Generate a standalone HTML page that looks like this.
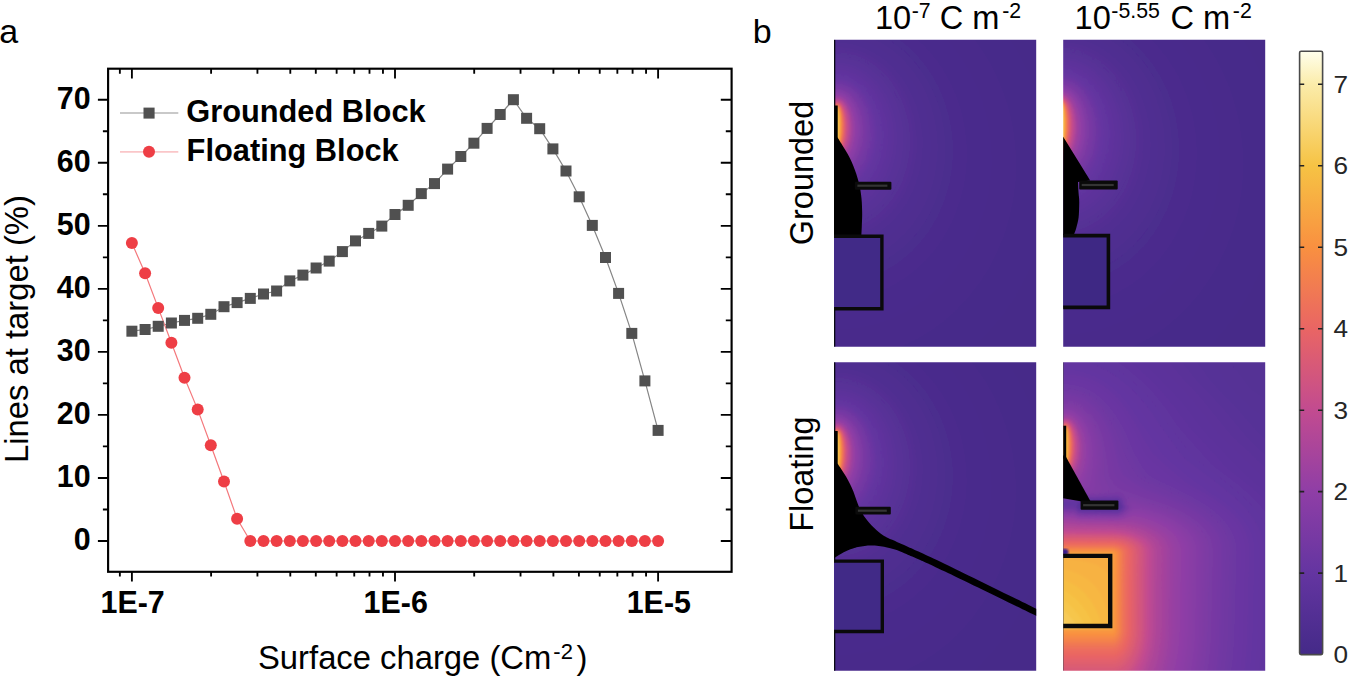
<!DOCTYPE html>
<html><head><meta charset="utf-8"><title>figure</title>
<style>
html,body{margin:0;padding:0;background:#fff;}
body{width:1350px;height:685px;overflow:hidden;}
svg{display:block;font-family:"Liberation Sans",sans-serif;}
</style></head><body>
<svg width="1350" height="685" viewBox="0 0 1350 685">
<rect width="1350" height="685" fill="#fff"/>
<g id="chart">
<path d="M97.9 541.00H108.1M731.6 541.00H720.8M97.9 477.96H108.1M731.6 477.96H720.8M97.9 414.92H108.1M731.6 414.92H720.8M97.9 351.88H108.1M731.6 351.88H720.8M97.9 288.84H108.1M731.6 288.84H720.8M97.9 225.80H108.1M731.6 225.80H720.8M97.9 162.76H108.1M731.6 162.76H720.8M97.9 99.72H108.1M731.6 99.72H720.8M102.9 509.48H108.1M731.6 509.48H725.8M102.9 446.44H108.1M731.6 446.44H725.8M102.9 383.40H108.1M731.6 383.40H725.8M102.9 320.36H108.1M731.6 320.36H725.8M102.9 257.32H108.1M731.6 257.32H725.8M102.9 194.28H108.1M731.6 194.28H725.8M102.9 131.24H108.1M731.6 131.24H725.8M131.90 68.7V78.5M131.90 571.8V581.5M395.00 68.7V78.5M395.00 571.8V581.5M658.10 68.7V78.5M658.10 571.8V581.5M119.86 68.7V73.7M119.86 571.8V576.4M211.10 68.7V73.7M211.10 571.8V576.4M257.43 68.7V73.7M257.43 571.8V576.4M290.30 68.7V73.7M290.30 571.8V576.4M315.80 68.7V73.7M315.80 571.8V576.4M336.63 68.7V73.7M336.63 571.8V576.4M354.25 68.7V73.7M354.25 571.8V576.4M369.50 68.7V73.7M369.50 571.8V576.4M382.96 68.7V73.7M382.96 571.8V576.4M474.20 68.7V73.7M474.20 571.8V576.4M520.53 68.7V73.7M520.53 571.8V576.4M553.40 68.7V73.7M553.40 571.8V576.4M578.90 68.7V73.7M578.90 571.8V576.4M599.73 68.7V73.7M599.73 571.8V576.4M617.35 68.7V73.7M617.35 571.8V576.4M632.60 68.7V73.7M632.60 571.8V576.4M646.06 68.7V73.7M646.06 571.8V576.4" stroke="#000" stroke-width="1.85" fill="none"/>
<rect x="108.1" y="68.7" width="623.5" height="503.1" fill="none" stroke="#000" stroke-width="2.15"/>
<polyline points="131.9,331.2 145.1,329.5 158.2,326.3 171.4,323.0 184.5,320.4 197.7,318.3 210.8,314.3 224.0,306.7 237.1,302.6 250.3,298.4 263.5,294.0 276.6,291.0 289.8,280.9 302.9,275.1 316.1,268.0 329.2,261.1 342.4,251.6 355.5,240.9 368.7,233.4 381.8,226.1 395.0,214.5 408.2,205.3 421.3,193.6 434.5,183.6 447.6,169.1 460.8,156.5 473.9,143.2 487.1,128.4 500.2,114.5 513.4,99.7 526.6,118.3 539.7,128.7 552.9,148.9 566.0,171.0 579.2,196.8 592.3,225.4 605.5,257.5 618.6,293.4 631.8,333.4 644.9,380.9 658.1,430.4" fill="none" stroke="#858585" stroke-width="1.2"/>
<polyline points="131.9,243.1 145.1,273.3 158.2,307.9 171.4,342.7 184.5,377.7 197.7,409.6 210.8,445.2 224.0,481.5 237.1,518.8 250.3,541.0 263.5,541.0 276.6,541.0 289.8,541.0 302.9,541.0 316.1,541.0 329.2,541.0 342.4,541.0 355.5,541.0 368.7,541.0 381.8,541.0 395.0,541.0 408.2,541.0 421.3,541.0 434.5,541.0 447.6,541.0 460.8,541.0 473.9,541.0 487.1,541.0 500.2,541.0 513.4,541.0 526.6,541.0 539.7,541.0 552.9,541.0 566.0,541.0 579.2,541.0 592.3,541.0 605.5,541.0 618.6,541.0 631.8,541.0 644.9,541.0 658.1,541.0" fill="none" stroke="#f4787c" stroke-width="1.2"/>
<g fill="#505050"><rect x="126.4" y="325.7" width="11.0" height="11.0"/><rect x="139.6" y="324.0" width="11.0" height="11.0"/><rect x="152.7" y="320.8" width="11.0" height="11.0"/><rect x="165.9" y="317.5" width="11.0" height="11.0"/><rect x="179.0" y="314.9" width="11.0" height="11.0"/><rect x="192.2" y="312.8" width="11.0" height="11.0"/><rect x="205.3" y="308.8" width="11.0" height="11.0"/><rect x="218.5" y="301.2" width="11.0" height="11.0"/><rect x="231.6" y="297.1" width="11.0" height="11.0"/><rect x="244.8" y="292.9" width="11.0" height="11.0"/><rect x="258.0" y="288.5" width="11.0" height="11.0"/><rect x="271.1" y="285.5" width="11.0" height="11.0"/><rect x="284.3" y="275.4" width="11.0" height="11.0"/><rect x="297.4" y="269.6" width="11.0" height="11.0"/><rect x="310.6" y="262.5" width="11.0" height="11.0"/><rect x="323.7" y="255.6" width="11.0" height="11.0"/><rect x="336.9" y="246.1" width="11.0" height="11.0"/><rect x="350.0" y="235.4" width="11.0" height="11.0"/><rect x="363.2" y="227.9" width="11.0" height="11.0"/><rect x="376.3" y="220.6" width="11.0" height="11.0"/><rect x="389.5" y="209.0" width="11.0" height="11.0"/><rect x="402.7" y="199.8" width="11.0" height="11.0"/><rect x="415.8" y="188.1" width="11.0" height="11.0"/><rect x="429.0" y="178.1" width="11.0" height="11.0"/><rect x="442.1" y="163.6" width="11.0" height="11.0"/><rect x="455.3" y="151.0" width="11.0" height="11.0"/><rect x="468.4" y="137.7" width="11.0" height="11.0"/><rect x="481.6" y="122.9" width="11.0" height="11.0"/><rect x="494.7" y="109.0" width="11.0" height="11.0"/><rect x="507.9" y="94.2" width="11.0" height="11.0"/><rect x="521.1" y="112.8" width="11.0" height="11.0"/><rect x="534.2" y="123.2" width="11.0" height="11.0"/><rect x="547.4" y="143.4" width="11.0" height="11.0"/><rect x="560.5" y="165.5" width="11.0" height="11.0"/><rect x="573.7" y="191.3" width="11.0" height="11.0"/><rect x="586.8" y="219.9" width="11.0" height="11.0"/><rect x="600.0" y="252.0" width="11.0" height="11.0"/><rect x="613.1" y="287.9" width="11.0" height="11.0"/><rect x="626.3" y="327.9" width="11.0" height="11.0"/><rect x="639.4" y="375.4" width="11.0" height="11.0"/><rect x="652.6" y="424.9" width="11.0" height="11.0"/></g>
<g fill="#ee3e45"><circle cx="131.9" cy="243.1" r="6"/><circle cx="145.1" cy="273.3" r="6"/><circle cx="158.2" cy="307.9" r="6"/><circle cx="171.4" cy="342.7" r="6"/><circle cx="184.5" cy="377.7" r="6"/><circle cx="197.7" cy="409.6" r="6"/><circle cx="210.8" cy="445.2" r="6"/><circle cx="224.0" cy="481.5" r="6"/><circle cx="237.1" cy="518.8" r="6"/><circle cx="250.3" cy="541.0" r="6"/><circle cx="263.5" cy="541.0" r="6"/><circle cx="276.6" cy="541.0" r="6"/><circle cx="289.8" cy="541.0" r="6"/><circle cx="302.9" cy="541.0" r="6"/><circle cx="316.1" cy="541.0" r="6"/><circle cx="329.2" cy="541.0" r="6"/><circle cx="342.4" cy="541.0" r="6"/><circle cx="355.5" cy="541.0" r="6"/><circle cx="368.7" cy="541.0" r="6"/><circle cx="381.8" cy="541.0" r="6"/><circle cx="395.0" cy="541.0" r="6"/><circle cx="408.2" cy="541.0" r="6"/><circle cx="421.3" cy="541.0" r="6"/><circle cx="434.5" cy="541.0" r="6"/><circle cx="447.6" cy="541.0" r="6"/><circle cx="460.8" cy="541.0" r="6"/><circle cx="473.9" cy="541.0" r="6"/><circle cx="487.1" cy="541.0" r="6"/><circle cx="500.2" cy="541.0" r="6"/><circle cx="513.4" cy="541.0" r="6"/><circle cx="526.6" cy="541.0" r="6"/><circle cx="539.7" cy="541.0" r="6"/><circle cx="552.9" cy="541.0" r="6"/><circle cx="566.0" cy="541.0" r="6"/><circle cx="579.2" cy="541.0" r="6"/><circle cx="592.3" cy="541.0" r="6"/><circle cx="605.5" cy="541.0" r="6"/><circle cx="618.6" cy="541.0" r="6"/><circle cx="631.8" cy="541.0" r="6"/><circle cx="644.9" cy="541.0" r="6"/><circle cx="658.1" cy="541.0" r="6"/></g>
<path d="M120 113H178.3" stroke="#c9c9c9" stroke-width="1.9"/>
<rect x="143.5" y="107.6" width="11.1" height="11" fill="#505050"/>
<path d="M120 151.9H178.3" stroke="#fac6c8" stroke-width="1.9"/>
<circle cx="149.0" cy="151.7" r="6" fill="#ee3e45"/>
<text transform="translate(186.20 122.20) scale(1.0 1.025)" font-size="30.8" font-weight="bold">Grounded Block</text>
<text transform="translate(186.60 160.60) scale(1.0 1.025)" font-size="30.8" font-weight="bold">Floating Block</text>
<text transform="translate(90.60 550.00) scale(1.0 1.04)" font-size="30.4" text-anchor="end" font-weight="bold">0</text>
<text transform="translate(90.60 486.96) scale(1.0 1.04)" font-size="30.4" text-anchor="end" font-weight="bold">10</text>
<text transform="translate(90.60 423.92) scale(1.0 1.04)" font-size="30.4" text-anchor="end" font-weight="bold">20</text>
<text transform="translate(90.60 360.88) scale(1.0 1.04)" font-size="30.4" text-anchor="end" font-weight="bold">30</text>
<text transform="translate(90.60 297.84) scale(1.0 1.04)" font-size="30.4" text-anchor="end" font-weight="bold">40</text>
<text transform="translate(90.60 234.80) scale(1.0 1.04)" font-size="30.4" text-anchor="end" font-weight="bold">50</text>
<text transform="translate(90.60 171.76) scale(1.0 1.04)" font-size="30.4" text-anchor="end" font-weight="bold">60</text>
<text transform="translate(90.60 108.72) scale(1.0 1.04)" font-size="30.4" text-anchor="end" font-weight="bold">70</text>
<text transform="translate(132.60 613.00) scale(1.0 1.04)" font-size="30.4" text-anchor="middle" font-weight="bold">1E-7</text>
<text transform="translate(395.70 613.00) scale(1.0 1.04)" font-size="30.4" text-anchor="middle" font-weight="bold">1E-6</text>
<text transform="translate(658.80 613.00) scale(1.0 1.04)" font-size="30.4" text-anchor="middle" font-weight="bold">1E-5</text>
<text transform="translate(28.40 329.00) rotate(-90) scale(1.0 1.015)" font-size="32.8" text-anchor="middle">Lines at target (%)</text>
<text transform="translate(258.00 668.90) scale(1.0 1.015)" font-size="32.8">Surface charge (Cm<tspan font-size="22" dy="-9.7" dx="2">-2</tspan><tspan dy="9.7" dx="3.6">)</tspan></text>
<text transform="translate(-0.80 43.20)" font-size="34">a</text>
</g>
<text transform="translate(752.80 43.20)" font-size="34">b</text>
<text transform="translate(813.20 173.00) rotate(-90) scale(1.0 1.02)" font-size="32.5" text-anchor="middle">Grounded</text>
<text transform="translate(812.60 474.20) rotate(-90) scale(1.0 1.02)" font-size="32.4" text-anchor="middle">Floating</text>
<text transform="translate(875.00 28.60) scale(1.0 1.03)" font-size="32.6">10<tspan font-size="21.3" dy="-10" dx="0.5">-7</tspan><tspan dy="10"> C m</tspan><tspan font-size="21.3" dy="-10" dx="2.8">-2</tspan></text>
<text transform="translate(1074.60 28.60) scale(1.0 1.03)" font-size="32.6">10<tspan font-size="21.3" dy="-10" dx="0.5">-5.55</tspan><tspan dy="10" dx="1.5"> C m</tspan><tspan font-size="21.3" dy="-10" dx="2.7">-2</tspan></text>
<defs><linearGradient id="cb" x1="0" y1="1" x2="0" y2="0"><stop offset="0.0000" stop-color="#442a88"/><stop offset="0.1351" stop-color="#6435a1"/><stop offset="0.2701" stop-color="#8f3ea6"/><stop offset="0.4052" stop-color="#c24b90"/><stop offset="0.5402" stop-color="#e96564"/><stop offset="0.6753" stop-color="#f99040"/><stop offset="0.8103" stop-color="#f6c344"/><stop offset="0.9454" stop-color="#fbecaa"/><stop offset="1.0000" stop-color="#ffffec"/></linearGradient></defs>
<rect x="1299.6" y="51.3" width="23.0" height="603.3" rx="1.5" fill="url(#cb)" stroke="#4a4a4a" stroke-width="1.6"/>
<path d="M1299.6 573.1h4.6M1322.6 573.1h-4.6M1299.6 491.6h4.6M1322.6 491.6h-4.6M1299.6 410.2h4.6M1322.6 410.2h-4.6M1299.6 328.7h4.6M1322.6 328.7h-4.6M1299.6 247.2h4.6M1322.6 247.2h-4.6M1299.6 165.7h4.6M1322.6 165.7h-4.6M1299.6 84.2h4.6M1322.6 84.2h-4.6" stroke="#222" stroke-width="1.6"/>
<text transform="translate(1333.60 663.20) scale(1.09 1.0)" font-size="24" fill="#262626">0</text>
<text transform="translate(1333.60 581.72) scale(1.09 1.0)" font-size="24" fill="#262626">1</text>
<text transform="translate(1333.60 500.24) scale(1.09 1.0)" font-size="24" fill="#262626">2</text>
<text transform="translate(1333.60 418.76) scale(1.09 1.0)" font-size="24" fill="#262626">3</text>
<text transform="translate(1333.60 337.28) scale(1.09 1.0)" font-size="24" fill="#262626">4</text>
<text transform="translate(1333.60 255.80) scale(1.09 1.0)" font-size="24" fill="#262626">5</text>
<text transform="translate(1333.60 174.32) scale(1.09 1.0)" font-size="24" fill="#262626">6</text>
<text transform="translate(1333.60 92.84) scale(1.09 1.0)" font-size="24" fill="#262626">7</text>
<defs>
<clipPath id="cp1"><rect x="834.0" y="39.7" width="202.2" height="307.0"/></clipPath>
<clipPath id="cp2"><rect x="1063.2" y="39.7" width="202.0" height="307.0"/></clipPath>
<clipPath id="cp3"><rect x="834.0" y="362.3" width="202.2" height="308.5"/></clipPath>
<clipPath id="cp4"><rect x="1063.2" y="362.3" width="202.0" height="308.5"/></clipPath>
<filter id="sm" x="-5%" y="-5%" width="110%" height="110%"><feGaussianBlur stdDeviation="0.9"/></filter>
</defs>
<g clip-path="url(#cp1)">
<g filter="url(#sm)"><rect x="828.0" y="33.7" width="214.2" height="319.0" fill="#462b89"/>
<path fill="#472b8a" d="M828.0 33.7L1006.7 33.7L1013.7 44.2L1019.9 54.7L1025.4 65.2L1030.3 75.7L1037.2 93.7L1042.5 111.6L1042.5 232.3L1037.4 249.7L1030.5 267.7L1022.6 284.2L1014.1 299.2L1003.9 314.2L993.0 327.8L980.3 341.2L967.0 353.2L828.0 353.2Z"/>
<path fill="#482b8b" d="M828.0 33.7L970.3 33.7L978.5 44.2L985.5 54.7L991.6 65.2L997.6 77.2L1002.7 89.2L1007.4 102.7L1010.7 114.7L1013.5 128.2L1015.8 146.2L1016.6 164.2L1015.9 182.2L1013.6 200.2L1009.7 218.2L1004.7 234.7L998.0 251.2L989.6 267.7L980.1 282.7L969.0 297.1L957.0 310.0L943.8 321.7L930.0 331.7L915.0 340.6L900.0 347.5L883.7 353.2L828.0 353.2Z"/>
<path fill="#4a2c8c" d="M828.0 33.7L942.1 33.7L952.5 45.3L961.7 57.7L969.8 71.2L976.5 84.7L982.3 99.7L986.7 114.7L989.9 131.2L991.7 147.7L991.9 164.2L990.8 180.7L988.1 197.2L983.9 213.7L978.0 230.2L970.9 245.2L963.0 258.7L953.2 272.2L942.6 284.2L931.3 294.7L925.5 299.4L918.0 304.8L904.5 312.9L891.0 319.2L876.0 324.4L861.0 327.8L846.0 329.6L837.0 329.8L828.0 329.5Z"/>
<path fill="#4b2c8d" d="M828.0 33.7L911.3 33.7L912.0 34.2L923.3 44.2L929.0 50.2L934.1 56.2L942.7 68.2L950.4 81.7L957.0 96.7L961.9 111.7L965.1 126.7L967.0 143.2L967.3 158.2L966.4 171.7L964.0 186.7L960.6 200.2L955.9 213.7L950.5 225.7L943.5 238.1L935.4 249.7L926.3 260.2L916.5 269.6L906.0 277.8L894.0 285.2L882.0 290.9L870.0 295.1L858.0 297.9L844.5 299.6L835.5 299.8L828.0 299.4Z"/>
<path fill="#4c2d8e" d="M828.0 33.7L891.1 33.7L900.0 39.6L907.5 45.5L917.0 54.7L925.5 64.8L932.9 75.7L939.4 87.7L944.4 99.7L948.6 113.2L951.5 126.7L953.2 141.7L953.4 155.2L952.3 168.7L950.1 182.2L946.9 194.2L942.7 206.2L937.5 217.4L931.0 228.7L924.0 238.5L916.5 247.3L907.5 255.9L898.1 263.2L888.0 269.5L877.5 274.6L865.5 278.8L855.0 281.2L843.0 282.6L835.5 282.8L828.0 282.4Z"/>
<path fill="#4d2d8f" d="M828.0 33.7L878.0 33.7L885.0 37.3L891.4 41.2L897.7 45.7L904.5 51.3L913.5 60.5L920.9 69.7L927.7 80.2L933.1 90.7L938.0 102.7L941.6 114.7L944.0 126.7L945.5 140.2L945.7 153.7L944.8 165.7L942.9 177.7L939.8 189.7L935.6 201.7L930.8 212.2L924.7 222.7L918.4 231.7L910.7 240.7L903.0 248.0L894.0 255.1L885.0 260.8L874.5 265.9L864.0 269.6L853.5 272.1L843.0 273.3L835.5 273.5L828.0 273.0Z"/>
<path fill="#4f2e90" d="M828.0 33.7L860.6 33.7L864.0 34.7L874.5 38.8L883.5 43.5L892.5 49.6L901.5 57.3L909.0 65.2L915.9 74.2L921.6 83.2L926.9 93.7L931.0 104.2L934.5 116.2L936.6 126.7L937.9 138.7L938.1 150.7L937.5 161.2L935.7 173.2L933.0 184.3L929.7 194.2L925.2 204.7L919.5 215.1L913.3 224.2L906.0 232.9L898.5 240.2L890.3 246.7L882.0 252.1L873.0 256.6L862.5 260.5L853.5 262.7L843.0 264.0L835.5 264.2L828.0 263.7Z"/>
<path fill="#502e91" d="M830.9 36.7L840.0 36.5L849.0 37.3L858.0 39.2L867.0 42.2L876.0 46.3L883.5 50.8L891.0 56.4L898.9 63.7L905.5 71.2L911.9 80.2L917.1 89.2L921.3 98.2L925.1 108.7L927.8 119.2L929.6 129.7L930.5 140.2L930.5 150.7L929.6 161.2L927.9 171.7L925.2 182.2L921.5 192.7L917.3 201.7L912.2 210.7L906.0 219.5L899.3 227.2L892.5 233.7L885.0 239.5L876.0 245.0L868.5 248.6L859.5 251.7L850.5 253.8L841.5 254.8L834.0 254.8L828.0 254.4L828.0 37.0Z"/>
<path fill="#512f92" d="M830.6 42.7L838.5 42.4L847.5 43.1L856.5 45.0L864.0 47.5L871.5 50.9L879.0 55.3L886.3 60.7L892.9 66.7L899.5 74.2L904.9 81.7L909.4 89.2L913.7 98.2L917.1 107.2L920.0 117.7L921.7 126.7L922.8 137.2L922.9 147.7L922.3 156.7L920.7 167.2L918.5 176.2L915.6 185.2L911.7 194.2L906.9 203.2L901.5 211.2L895.8 218.2L889.5 224.5L882.0 230.6L874.5 235.5L867.0 239.3L858.0 242.6L850.5 244.4L841.5 245.5L834.0 245.5L828.0 245.0L828.0 43.0Z"/>
<path fill="#532f93" d="M833.0 47.2L841.5 47.2L850.5 48.4L856.5 49.9L864.0 52.6L871.5 56.4L878.3 60.7L885.0 66.1L891.0 72.1L896.5 78.7L901.6 86.2L905.7 93.7L909.1 101.2L912.2 110.2L914.5 119.2L916.0 128.2L916.9 138.7L916.8 149.2L915.9 158.2L914.3 167.2L911.9 176.2L908.6 185.2L905.2 192.7L900.9 200.2L895.7 207.7L889.5 214.9L883.5 220.5L876.8 225.7L870.0 229.8L862.5 233.4L855.0 235.9L847.5 237.5L840.0 238.2L834.0 238.2L828.0 237.7L828.0 47.7Z"/>
<path fill="#542f94" d="M828.6 50.2L837.0 49.6L844.5 50.0L852.0 51.4L859.5 53.6L867.0 56.9L873.5 60.7L880.5 65.8L886.4 71.2L891.7 77.2L897.2 84.7L901.6 92.2L905.2 99.7L908.1 107.2L910.7 116.2L912.4 125.2L913.4 134.2L913.7 143.2L913.2 152.2L912.0 161.2L910.0 170.2L907.2 179.2L904.1 186.7L900.3 194.2L895.5 201.7L890.9 207.7L885.0 214.1L878.5 219.7L871.5 224.5L864.0 228.5L856.5 231.3L849.0 233.2L841.5 234.2L834.0 234.2L828.0 233.6L828.0 50.3Z"/>
<path fill="#553095" d="M828.0 53.2L828.0 52.9L834.0 52.3L841.5 52.3L849.0 53.3L856.5 55.3L864.0 58.3L870.0 61.6L876.0 65.7L882.4 71.2L888.0 77.1L892.7 83.2L897.5 90.7L901.3 98.2L904.3 105.7L907.1 114.7L909.0 123.7L910.1 132.7L910.4 141.7L910.0 150.7L908.8 159.7L907.2 167.2L904.5 176.2L901.6 183.7L897.8 191.2L893.1 198.7L888.0 205.4L882.0 211.7L876.0 216.8L870.0 220.9L863.9 224.2L856.5 227.2L849.0 229.1L841.5 230.2L834.0 230.2L828.0 229.6Z"/>
<path fill="#563096" d="M828.0 56.2L828.0 55.5L831.0 55.1L840.0 54.8L847.5 55.7L855.0 57.5L862.5 60.5L868.5 63.8L874.8 68.2L880.5 73.1L885.7 78.7L890.3 84.7L895.0 92.2L898.7 99.7L901.7 107.2L904.3 116.2L905.8 123.7L906.9 132.7L907.1 141.7L906.8 149.2L905.6 158.2L904.1 165.7L901.5 174.3L898.5 181.8L894.5 189.7L890.8 195.7L886.2 201.7L880.5 207.9L874.5 213.1L868.5 217.2L862.5 220.5L855.0 223.5L849.0 225.1L841.5 226.2L834.0 226.2L828.0 225.6Z"/>
<path fill="#583197" d="M830.5 57.7L837.0 57.3L843.0 57.6L850.5 58.9L856.5 60.8L862.5 63.4L868.5 66.9L874.5 71.4L880.5 77.0L885.7 83.2L889.9 89.2L893.3 95.2L896.8 102.7L899.4 110.2L901.4 117.7L902.8 125.2L903.7 134.2L903.8 143.2L903.3 150.7L901.9 159.7L900.1 167.2L897.6 174.7L894.4 182.2L891.0 188.5L886.5 195.4L882.0 200.9L876.8 206.2L871.5 210.6L865.5 214.5L859.5 217.6L853.5 219.8L847.5 221.3L840.0 222.3L834.0 222.2L828.0 221.5L828.0 58.1Z"/>
<path fill="#593198" d="M828.0 60.7L834.0 59.9L841.5 60.0L847.5 60.9L853.5 62.5L859.5 64.9L865.5 68.2L871.5 72.4L876.0 76.4L880.9 81.7L885.5 87.7L889.2 93.7L892.9 101.2L895.8 108.7L897.9 116.2L899.4 123.7L900.3 131.2L900.6 140.2L900.2 147.7L899.3 155.2L897.7 162.7L895.5 170.2L892.6 177.7L889.6 183.7L886.0 189.7L881.6 195.7L876.1 201.7L870.9 206.2L865.5 210.0L859.5 213.3L853.5 215.7L847.5 217.3L841.5 218.2L834.0 218.2L828.0 217.5Z"/>
<path fill="#5a3299" d="M828.0 63.7L828.0 63.3L831.0 62.8L838.5 62.4L844.5 62.9L850.5 64.3L856.5 66.4L862.5 69.4L867.5 72.7L873.0 77.3L877.5 82.0L882.0 87.7L885.8 93.7L889.0 99.7L892.0 107.2L894.3 114.7L896.0 122.2L896.9 129.7L897.3 137.2L897.1 144.7L896.3 152.2L894.9 159.7L892.8 167.2L890.6 173.2L887.1 180.7L883.6 186.7L879.2 192.7L874.5 198.0L870.0 202.0L864.3 206.2L859.5 208.9L853.5 211.5L847.5 213.2L841.5 214.1L834.0 214.2L828.0 213.4Z"/>
<path fill="#5c329a" d="M832.3 65.2L838.5 64.9L844.5 65.5L849.6 66.7L855.0 68.6L860.3 71.2L865.5 74.6L870.0 78.3L874.5 82.8L878.5 87.7L882.5 93.7L885.7 99.7L888.3 105.7L890.3 111.7L892.2 119.2L893.2 125.2L893.9 132.7L894.0 140.2L893.5 147.7L892.4 155.2L891.0 161.2L888.6 168.7L886.1 174.7L883.0 180.7L879.2 186.7L875.6 191.2L871.4 195.7L866.2 200.2L861.0 203.7L856.1 206.2L850.5 208.3L846.0 209.5L840.0 210.3L834.0 210.2L828.0 209.4L828.0 65.9Z"/>
<path fill="#5d339b" d="M829.0 68.2L834.0 67.4L838.5 67.3L843.0 67.7L849.0 69.0L853.5 70.6L859.5 73.6L864.0 76.6L869.8 81.7L875.2 87.7L878.4 92.2L881.1 96.7L884.0 102.7L886.9 110.2L888.6 116.2L890.5 128.2L890.9 137.2L890.6 144.7L890.2 149.2L888.8 156.7L887.2 162.7L884.4 170.2L882.4 174.7L878.1 182.2L873.6 188.2L870.0 192.1L865.5 196.1L861.0 199.4L856.5 201.9L852.0 203.9L846.0 205.6L840.0 206.5L834.0 206.4L828.0 205.6L828.0 68.4Z"/>
<path fill="#5e339c" d="M830.5 69.7L835.5 69.2L840.0 69.2L846.0 70.1L850.5 71.4L855.0 73.3L859.5 75.8L864.0 79.0L868.7 83.2L872.7 87.7L876.0 92.2L879.6 98.2L882.4 104.2L884.6 110.2L886.3 116.2L887.5 122.2L888.4 129.7L888.7 135.7L888.4 143.2L887.5 150.7L886.3 156.7L884.6 162.7L882.0 169.6L879.0 175.7L876.0 180.7L872.7 185.2L868.5 189.9L864.0 193.9L859.5 197.1L855.0 199.6L850.5 201.5L846.0 202.8L840.0 203.7L834.0 203.7L828.0 202.7L828.0 70.2Z"/>
<path fill="#5f339d" d="M832.3 71.2L837.0 70.9L842.1 71.2L847.5 72.3L852.0 73.9L856.5 76.1L861.0 79.0L865.5 82.7L868.9 86.2L872.6 90.7L875.6 95.2L878.1 99.7L880.8 105.7L882.9 111.7L884.5 117.7L885.6 123.7L886.3 131.2L886.4 138.7L886.0 144.7L885.2 150.7L883.9 156.7L882.1 162.7L879.8 168.7L876.8 174.7L874.0 179.2L870.7 183.7L866.6 188.2L862.5 191.8L858.0 195.0L853.5 197.4L849.0 199.2L844.5 200.3L838.5 201.0L832.5 200.8L828.0 199.9L828.0 72.0Z"/>
<path fill="#61349e" d="M835.0 72.7L840.0 72.7L844.5 73.4L849.0 74.6L853.5 76.5L858.0 79.1L861.5 81.7L865.5 85.3L869.0 89.2L872.3 93.7L875.0 98.2L877.3 102.7L879.7 108.7L881.6 114.7L882.9 120.7L884.2 132.7L883.7 144.7L882.8 150.7L881.4 156.7L879.6 162.7L877.1 168.7L874.5 173.7L871.5 178.4L868.5 182.3L864.4 186.7L860.9 189.7L856.5 192.8L852.0 195.1L847.5 196.8L843.0 197.8L838.5 198.3L832.5 198.0L828.0 197.1L828.0 73.8Z"/>
<path fill="#62349f" d="M828.0 75.7L832.5 74.7L837.0 74.4L841.5 74.7L846.0 75.6L850.5 77.1L855.0 79.4L858.5 81.7L862.5 85.0L866.5 89.2L870.0 93.7L875.1 102.7L877.5 108.7L879.4 114.7L880.7 120.7L881.5 126.7L881.9 132.7L881.9 138.7L881.4 144.7L880.4 150.7L879.0 156.7L877.0 162.7L874.5 168.5L871.9 173.2L868.9 177.7L865.5 181.9L862.2 185.2L858.0 188.6L853.5 191.4L849.0 193.4L844.5 194.8L840.0 195.5L834.0 195.4L828.0 194.3Z"/>
<path fill="#6335a0" d="M829.1 77.2L832.5 76.5L837.0 76.1L841.5 76.4L846.0 77.4L850.5 79.0L855.0 81.5L859.4 84.7L862.5 87.6L865.5 90.9L868.6 95.2L873.5 104.2L877.2 114.7L878.5 120.7L879.3 126.7L879.7 132.7L879.6 138.7L879.1 144.7L878.0 150.7L875.0 161.2L872.4 167.2L870.0 171.6L867.0 176.1L864.0 179.8L860.0 183.7L856.5 186.5L853.5 188.4L849.0 190.6L844.5 192.0L840.0 192.7L834.0 192.7L828.0 191.5L828.0 77.5Z"/>
<path fill="#6535a1" d="M830.3 78.7L834.0 77.8L838.5 77.7L846.0 79.0L850.5 80.8L853.5 82.5L861.0 88.6L866.5 95.2L869.3 99.7L872.1 105.7L873.9 110.2L875.6 116.2L877.3 126.7L877.5 134.2L877.3 141.7L875.5 152.2L872.6 161.2L868.1 170.2L865.1 174.7L862.5 177.7L858.0 182.1L855.0 184.5L852.0 186.4L846.0 188.9L838.5 190.1L831.0 189.6L828.0 188.7L828.0 79.1Z"/>
<path fill="#6635a1" d="M828.4 80.2L832.5 79.2L837.0 78.8L840.0 78.9L844.5 79.7L849.0 81.3L852.0 82.8L856.5 85.9L859.5 88.6L865.1 95.2L867.9 99.7L870.2 104.2L873.5 113.2L874.9 119.2L875.8 125.2L876.3 135.7L875.9 141.7L875.0 147.7L872.2 158.2L868.2 167.2L865.4 171.7L862.5 175.6L859.1 179.2L855.6 182.2L852.0 184.6L847.5 186.7L844.5 187.7L840.0 188.5L834.0 188.5L828.0 187.1L828.0 80.3Z"/>
<path fill="#6836a1" d="M831.6 80.2L835.5 79.7L838.5 79.6L842.8 80.2L846.0 81.1L850.5 83.0L853.5 84.8L857.3 87.7L860.3 90.7L862.9 93.7L866.0 98.2L870.4 107.2L873.6 117.7L875.1 128.2L875.1 138.7L873.6 149.2L870.4 159.7L866.0 168.7L862.9 173.2L860.4 176.2L857.4 179.2L853.5 182.2L850.5 184.0L846.0 185.9L843.0 186.8L838.5 187.4L832.5 187.0L828.0 185.8L828.0 81.2Z"/>
<path fill="#6a36a2" d="M829.1 81.7L832.5 80.8L837.0 80.4L841.5 80.8L844.5 81.5L847.5 82.5L851.8 84.7L858.0 89.6L861.0 92.8L863.9 96.7L866.6 101.2L868.8 105.7L871.8 114.7L873.8 125.2L874.2 135.7L873.1 146.2L870.4 156.7L866.4 165.7L863.7 170.2L861.0 173.7L858.0 177.0L855.0 179.6L851.2 182.2L847.5 184.0L844.1 185.2L840.0 186.0L834.0 185.9L828.0 184.5L828.0 82.1Z"/>
<path fill="#6c37a2" d="M832.4 81.7L838.5 81.3L842.0 81.7L846.0 82.8L849.0 84.1L852.6 86.2L856.4 89.2L859.3 92.2L861.8 95.2L864.7 99.7L869.0 108.7L871.6 117.7L873.0 128.2L873.0 138.7L871.4 149.2L868.5 158.6L864.2 167.2L861.2 171.7L858.6 174.7L855.4 177.7L852.0 180.3L846.0 183.3L843.0 184.2L838.5 184.8L832.5 184.4L828.0 183.1L828.0 82.9Z"/>
<path fill="#6d37a2" d="M829.8 83.2L834.0 82.2L837.0 82.0L841.5 82.4L844.5 83.2L850.5 85.9L853.5 87.9L856.7 90.7L859.5 93.7L862.5 97.8L866.7 105.7L869.8 114.7L871.7 125.2L872.1 135.7L870.9 146.2L868.6 155.2L864.7 164.2L861.9 168.7L859.5 171.9L856.5 175.1L853.5 177.7L847.5 181.3L844.5 182.5L840.0 183.4L834.0 183.4L828.0 181.8L828.0 83.8Z"/>
<path fill="#6f37a2" d="M833.2 83.2L837.0 82.8L840.0 83.0L846.0 84.6L852.0 87.8L855.5 90.7L858.3 93.7L861.0 97.2L863.5 101.2L866.9 108.7L869.5 117.7L871.0 128.2L870.8 138.7L869.5 147.7L866.8 156.7L864.9 161.2L862.5 165.7L858.0 171.9L855.0 174.9L852.0 177.3L846.0 180.6L843.0 181.6L838.5 182.3L832.5 181.8L828.0 180.5L828.0 84.7Z"/>
<path fill="#7138a2" d="M830.5 84.7L834.0 83.9L837.0 83.7L841.5 84.1L844.5 84.9L850.5 87.8L853.5 90.1L856.5 93.0L861.6 99.7L865.3 107.2L868.2 116.2L869.8 126.7L869.9 137.2L868.7 146.2L866.2 155.2L864.4 159.7L862.1 164.2L859.5 168.1L856.6 171.7L851.5 176.2L847.5 178.6L844.5 179.8L838.5 181.0L832.5 180.6L828.0 179.1L828.0 85.6Z"/>
<path fill="#7338a3" d="M834.1 84.7L840.0 84.7L846.0 86.3L849.0 87.9L852.0 89.9L857.3 95.2L859.5 98.2L862.2 102.7L865.4 110.2L867.8 119.2L868.9 128.2L868.7 138.7L867.3 147.7L864.5 156.7L861.0 163.7L856.3 170.2L853.5 173.1L850.5 175.4L847.5 177.2L844.5 178.5L838.5 179.7L832.5 179.3L828.0 177.7L828.0 86.5L831.0 85.4Z"/>
<path fill="#7639a3" d="M833.8 86.2L837.0 85.9L840.0 86.1L843.0 86.8L846.0 87.9L849.0 89.6L852.0 91.9L856.5 96.6L860.4 102.7L863.7 110.2L866.0 119.2L867.1 128.2L867.0 137.2L865.7 146.2L863.0 155.2L859.5 162.4L855.0 168.6L850.0 173.2L844.5 176.2L841.5 177.1L838.5 177.5L835.5 177.5L832.5 177.0L828.0 175.4L828.0 88.1Z"/>
<path fill="#7939a3" d="M833.5 87.7L838.5 87.4L841.5 87.8L844.5 88.8L847.5 90.4L850.1 92.2L855.0 97.2L859.4 104.2L862.4 111.7L864.3 119.2L865.3 128.2L865.1 137.2L863.7 146.2L861.5 153.7L858.0 161.0L853.5 167.2L849.0 171.3L844.5 173.8L841.5 174.8L838.5 175.3L835.5 175.3L832.5 174.7L828.0 172.9L828.0 89.7Z"/>
<path fill="#7c3aa4" d="M832.6 89.2L835.5 88.5L838.5 88.5L844.5 90.1L849.0 92.9L852.9 96.7L857.1 102.7L859.9 108.7L861.8 114.7L863.1 120.7L863.5 125.2L863.8 132.7L863.0 141.7L861.3 149.2L858.4 156.7L856.8 159.7L853.8 164.2L849.0 169.0L846.0 171.0L843.0 172.4L838.5 173.4L835.5 173.4L832.5 172.7L828.0 170.8L828.0 91.2Z"/>
<path fill="#7f3ba4" d="M831.0 90.7L835.5 89.5L838.5 89.5L841.5 90.1L846.3 92.2L849.0 94.2L851.6 96.7L855.9 102.7L858.7 108.7L861.0 116.2L862.4 125.2L862.5 134.2L861.7 141.7L859.9 149.2L856.9 156.7L853.3 162.7L849.0 167.3L844.5 170.2L841.5 171.4L838.5 171.9L835.5 171.9L832.5 171.3L828.0 169.2L828.0 92.3Z"/>
<path fill="#823ba5" d="M834.1 90.7L837.0 90.4L840.0 90.6L844.4 92.2L848.7 95.2L852.8 99.7L856.3 105.7L858.6 111.7L860.5 119.2L861.3 126.7L861.2 135.7L860.2 143.2L858.1 150.7L855.5 156.7L852.0 162.2L847.5 166.8L843.0 169.4L838.5 170.5L835.5 170.5L832.5 169.8L828.0 167.6L828.0 93.4L831.0 91.7Z"/>
<path fill="#853ca5" d="M832.2 92.2L837.0 91.3L841.5 92.0L846.0 94.2L850.3 98.2L854.4 104.2L857.0 110.2L859.1 117.7L860.1 125.2L860.2 134.2L859.3 141.7L857.3 149.2L854.9 155.2L851.2 161.2L847.5 165.0L843.0 167.9L838.5 169.1L835.5 169.0L832.5 168.3L828.0 165.9L828.0 94.5Z"/>
<path fill="#883da5" d="M836.8 92.2L841.5 92.9L845.8 95.2L849.1 98.2L852.4 102.7L855.3 108.7L857.2 114.7L858.6 122.2L859.1 129.7L858.7 137.2L857.4 144.7L855.5 150.7L852.7 156.7L849.5 161.2L846.0 164.5L841.5 167.0L837.0 167.7L832.5 166.8L828.0 164.2L828.0 95.7L832.5 93.1Z"/>
<path fill="#8b3da6" d="M833.5 93.7L837.0 93.1L841.5 93.9L846.0 96.6L849.1 99.7L852.1 104.2L854.8 110.2L856.8 117.7L857.8 125.2L857.9 132.7L857.1 140.2L855.3 147.7L852.9 153.7L850.2 158.2L846.2 162.7L843.0 164.8L838.5 166.2L835.5 166.2L832.5 165.3L828.0 162.5L828.0 96.9L831.0 94.8Z"/>
<path fill="#8e3ea6" d="M832.2 95.2L835.5 94.1L840.0 94.4L844.5 96.6L847.8 99.7L850.9 104.2L853.6 110.2L855.4 116.2L856.5 123.7L856.8 131.2L856.1 138.7L854.5 146.2L852.2 152.2L849.7 156.7L846.0 161.1L843.0 163.3L838.5 164.8L835.5 164.7L832.5 163.8L830.5 162.7L828.0 160.7L828.0 98.2Z"/>
<path fill="#923fa5" d="M834.9 95.2L838.5 95.0L840.0 95.3L843.0 96.7L846.0 99.1L848.9 102.7L851.3 107.2L853.5 113.2L854.8 119.2L855.6 126.7L855.4 134.2L854.6 140.2L853.2 146.2L850.8 152.2L848.2 156.7L844.5 160.6L841.0 162.7L837.0 163.4L834.0 162.9L832.5 162.3L830.7 161.2L828.0 158.9L828.0 99.5L831.4 96.7Z"/>
<path fill="#9540a3" d="M833.2 96.7L835.5 95.8L837.0 95.6L840.0 96.1L843.0 97.6L846.8 101.2L849.6 105.7L851.6 110.2L853.0 114.7L854.4 123.7L854.6 129.7L854.3 135.7L853.0 143.2L851.6 147.7L848.8 153.7L845.4 158.2L841.5 161.1L838.5 162.1L835.5 162.0L832.5 160.9L828.0 156.9L828.0 100.9L829.5 99.2Z"/>
<path fill="#9940a2" d="M834.9 96.7L837.0 96.2L838.5 96.4L841.5 97.4L844.5 99.7L848.1 104.2L850.9 110.2L852.6 116.2L853.8 126.7L853.7 132.7L852.8 140.2L851.3 146.2L849.5 150.7L846.8 155.2L844.1 158.2L841.5 160.2L838.5 161.1L837.0 161.2L834.0 160.6L832.5 159.9L831.0 158.9L828.0 155.8L828.0 101.8L829.9 99.7L832.5 97.6Z"/>
<path fill="#9c41a0" d="M832.5 98.2L835.5 97.0L838.5 96.9L841.5 97.9L845.3 101.2L848.3 105.7L850.2 110.2L851.9 116.2L852.9 122.2L853.2 129.7L852.8 135.7L851.8 141.7L850.0 147.7L847.5 153.0L844.8 156.7L841.5 159.3L838.5 160.4L835.5 160.3L832.5 159.1L829.6 156.7L828.0 154.7L828.0 102.6L830.5 99.7Z"/>
<path fill="#a0429f" d="M833.4 98.2L837.0 97.2L840.0 97.8L843.0 99.5L845.9 102.7L848.5 107.2L850.7 113.2L851.9 119.2L852.6 125.2L852.5 132.7L851.8 138.7L850.4 144.7L848.8 149.2L846.0 154.2L843.0 157.5L840.0 159.3L837.0 159.8L834.0 159.1L832.5 158.3L830.5 156.7L828.0 153.7L828.0 103.4L831.0 99.9Z"/>
<path fill="#a3439d" d="M834.5 98.2L837.0 97.7L840.0 98.2L843.0 100.1L846.4 104.2L848.6 108.7L850.1 113.2L851.4 119.2L852.0 125.2L851.9 132.7L851.2 138.7L849.8 144.7L848.2 149.2L845.6 153.7L843.0 156.7L840.0 158.6L837.0 159.1L834.0 158.4L832.5 157.6L829.9 155.2L828.0 152.5L828.0 104.3L831.0 100.5Z"/>
<path fill="#a7449c" d="M836.4 98.2L838.5 98.2L841.8 99.7L844.5 102.3L846.7 105.7L848.7 110.2L850.3 116.2L851.2 122.2L851.5 128.2L851.2 134.2L850.4 140.2L849.2 144.7L847.5 149.2L845.9 152.2L843.0 155.9L840.0 157.9L837.0 158.4L834.0 157.7L832.5 156.8L829.5 153.7L828.0 151.4L828.0 105.2L829.6 102.7L832.5 99.8L834.0 98.9Z"/>
<path fill="#ab459a" d="M833.4 99.7L835.5 98.7L838.5 98.6L841.5 100.0L844.3 102.7L847.0 107.2L848.7 111.7L850.1 117.7L850.8 123.7L850.9 129.7L850.3 137.2L849.1 143.2L847.5 147.7L845.2 152.2L843.0 155.0L840.0 157.1L837.0 157.8L834.0 157.0L832.5 156.0L830.3 153.7L828.0 150.2L828.0 106.2L830.2 102.7Z"/>
<path fill="#b04798" d="M834.7 99.7L837.0 99.0L840.0 99.8L843.0 102.1L845.5 105.7L847.0 108.7L848.5 113.2L849.7 119.2L850.2 125.2L850.2 131.2L849.6 137.2L848.3 143.2L846.8 147.7L845.3 150.7L843.0 153.8L840.0 156.2L837.0 156.8L834.0 156.0L832.5 154.9L830.1 152.2L828.0 148.4L828.0 107.6L828.9 105.7L831.0 102.7L832.5 101.1Z"/>
<path fill="#b64895" d="M836.5 99.7L838.5 99.8L841.3 101.2L843.0 102.9L844.9 105.7L846.4 108.7L848.2 114.7L849.2 120.7L849.6 126.7L849.5 132.7L848.7 138.7L847.6 143.2L846.0 147.7L843.5 152.2L841.5 154.3L840.0 155.4L837.0 156.1L834.0 155.1L832.2 153.7L829.9 150.7L828.0 146.8L828.0 108.9L829.5 105.7L831.6 102.7L834.0 100.5Z"/>
<path fill="#bb4993" d="M833.8 101.2L835.5 100.3L837.0 100.1L838.5 100.2L840.0 100.8L841.5 102.0L843.4 104.2L845.8 108.7L847.3 113.2L848.2 117.7L848.9 123.7L849.0 129.7L848.5 135.7L847.4 141.7L846.0 146.2L843.8 150.7L841.5 153.5L840.0 154.6L838.5 155.2L837.0 155.4L835.5 155.1L834.0 154.4L831.7 152.2L829.7 149.2L828.0 145.1L828.0 110.3L829.3 107.2L831.0 104.2Z"/>
<path fill="#c04a91" d="M834.7 101.2L837.0 100.5L839.7 101.2L841.6 102.7L843.8 105.7L845.8 110.2L847.1 114.7L847.9 119.2L848.4 125.2L848.4 131.2L847.7 137.2L846.8 141.7L845.4 146.2L844.0 149.2L841.5 152.6L840.0 153.9L838.5 154.5L837.0 154.7L834.2 153.7L832.5 152.2L829.6 147.7L828.0 143.2L828.0 112.0L830.6 105.7L832.8 102.7Z"/>
<path fill="#c44c8e" d="M835.9 101.2L837.0 101.0L838.5 101.1L840.0 101.9L842.3 104.2L844.1 107.2L845.8 111.7L846.9 116.2L847.5 120.7L847.9 126.7L847.1 137.2L846.2 141.7L844.8 146.2L843.3 149.2L841.5 151.8L840.0 153.1L838.5 153.8L837.0 154.0L835.5 153.7L834.0 152.8L832.0 150.7L829.6 146.2L828.0 141.0L828.0 114.0L829.1 110.2L831.1 105.7L833.4 102.7Z"/>
<path fill="#c84f89" d="M834.0 102.7L835.5 101.8L837.0 101.4L838.5 101.6L840.4 102.7L842.8 105.7L844.3 108.7L845.7 113.2L846.6 117.7L847.2 123.7L847.3 129.7L846.8 135.7L846.0 140.2L844.7 144.7L843.5 147.7L841.5 150.9L840.0 152.3L838.5 153.1L837.0 153.3L835.5 152.9L834.0 152.0L831.7 149.2L829.7 144.7L828.0 138.1L828.1 116.2L829.6 110.2L830.8 107.2L832.6 104.2Z"/>
<path fill="#cc5285" d="M834.8 102.7L837.0 101.7L838.5 102.0L840.0 102.9L842.3 105.7L843.8 108.7L845.6 114.7L846.8 125.2L846.8 129.7L846.2 135.7L845.5 140.2L844.2 144.7L842.9 147.7L840.8 150.7L838.5 152.4L837.0 152.6L835.5 152.2L834.0 151.1L831.5 147.7L829.7 143.2L828.6 138.7L828.0 133.9L828.0 120.5L828.5 116.2L830.0 110.2L831.2 107.2L833.1 104.2Z"/>
<path fill="#d05480" d="M835.6 102.7L837.0 102.1L838.5 102.4L840.0 103.3L842.7 107.2L844.0 110.2L845.2 114.7L846.2 125.2L845.6 137.2L843.7 144.7L842.4 147.7L840.0 150.7L838.5 151.8L837.0 152.0L835.5 151.7L834.0 150.4L832.9 149.2L831.3 146.2L830.2 143.2L828.8 137.2L828.2 129.7L828.5 119.2L830.0 111.7L831.6 107.2L833.6 104.2Z"/>
<path fill="#d4577c" d="M836.5 102.7L837.0 102.5L838.5 102.8L840.4 104.2L842.4 107.2L843.6 110.2L845.3 117.7L845.8 126.7L845.4 135.7L843.8 143.2L841.9 147.7L840.9 149.2L838.5 151.3L837.0 151.6L835.5 151.1L833.4 149.2L831.7 146.2L830.6 143.2L829.0 135.7L828.5 128.2L828.9 119.2L830.3 111.7L832.0 107.2L832.9 105.7L834.1 104.2L835.5 103.0Z"/>
<path fill="#d85978" d="M834.4 104.2L835.5 103.3L837.0 102.8L838.5 103.1L840.0 104.2L842.1 107.2L843.7 111.7L844.7 116.2L845.4 123.7L845.2 134.2L843.4 143.2L842.2 146.2L840.5 149.2L838.5 150.8L837.0 151.1L835.5 150.6L834.0 149.3L832.1 146.2L830.2 140.2L829.0 131.2L829.0 122.2L830.3 113.2L832.4 107.2Z"/>
<path fill="#dc5c73" d="M834.8 104.2L837.0 103.1L838.5 103.4L840.0 104.6L841.7 107.2L843.4 111.7L844.1 114.7L845.1 123.7L844.8 134.2L843.0 143.2L841.9 146.2L840.0 149.2L838.5 150.4L837.0 150.7L835.5 150.2L834.0 148.7L831.9 144.7L830.3 138.7L829.3 129.7L829.4 122.2L830.6 113.2L832.7 107.2Z"/>
<path fill="#df5f6f" d="M835.1 104.2L837.0 103.3L838.5 103.7L840.0 105.0L841.4 107.2L842.6 110.2L843.8 114.7L844.8 123.7L844.5 134.2L843.8 138.7L842.7 143.2L841.5 146.2L840.0 148.7L838.5 150.0L837.0 150.3L835.5 149.7L834.0 148.1L832.2 144.7L830.3 137.2L829.6 129.7L829.8 120.7L831.0 113.2L833.0 107.2Z"/>
<path fill="#e3616a" d="M835.5 104.2L837.0 103.6L838.5 103.9L840.0 105.4L841.1 107.2L842.3 110.2L843.5 114.7L844.5 123.7L844.3 132.7L842.8 141.7L841.8 144.7L840.3 147.7L838.5 149.5L837.0 149.9L835.5 149.3L834.1 147.7L832.0 143.2L830.7 137.2L829.9 129.7L830.1 120.7L831.3 113.2L833.3 107.2Z"/>
<path fill="#e76466" d="M836.1 104.2L837.0 103.8L838.5 104.2L840.0 105.7L841.5 108.7L843.4 116.2L844.2 125.2L843.6 135.7L842.0 143.2L839.9 147.7L838.5 149.1L837.0 149.5L835.5 148.8L834.5 147.7L832.4 143.2L830.8 135.7L830.2 128.2L830.6 119.2L831.9 111.7L833.5 107.2L834.4 105.7Z"/>
<path fill="#ea6762" d="M836.8 104.2L838.5 104.5L839.7 105.7L841.8 110.2L843.3 117.7L843.9 126.7L843.3 135.7L841.7 143.2L840.5 146.2L839.5 147.7L838.5 148.7L837.0 149.1L834.9 147.7L833.9 146.2L832.7 143.2L831.1 135.7L830.6 126.7L831.1 117.7L832.2 111.7L833.1 108.7L834.7 105.7L835.5 104.9Z"/>
<path fill="#eb6c5e" d="M835.0 105.7L837.0 104.3L838.5 104.8L840.3 107.2L841.5 110.2L842.6 114.7L843.5 123.7L843.3 132.7L842.2 140.2L840.9 144.7L840.0 146.4L838.5 148.2L837.0 148.7L835.4 147.7L834.3 146.2L833.0 143.2L831.6 137.2L830.9 129.7L831.0 122.2L831.8 114.7L833.4 108.7Z"/>
<path fill="#ed705b" d="M835.3 105.7L837.0 104.6L838.5 105.1L840.8 108.7L842.3 114.7L843.2 123.7L842.9 132.7L841.9 140.2L841.1 143.2L839.8 146.2L838.5 147.8L837.0 148.3L835.5 147.4L834.6 146.2L833.3 143.2L831.9 137.2L831.2 129.7L831.3 122.2L832.1 114.7L833.7 108.7Z"/>
<path fill="#ef7457" d="M835.6 105.7L837.0 104.8L838.5 105.4L840.5 108.7L842.0 114.7L842.9 123.7L842.7 132.7L841.6 140.2L840.8 143.2L839.4 146.2L838.5 147.4L837.0 147.9L834.9 146.2L833.6 143.2L832.2 137.2L831.5 129.7L831.6 122.2L832.4 114.7L833.4 110.2L834.6 107.2Z"/>
<path fill="#f07954" d="M836.0 105.7L837.0 105.0L838.5 105.7L840.3 108.7L842.0 116.2L842.6 123.7L842.4 132.7L841.3 140.2L840.5 143.2L839.1 146.2L838.5 146.9L837.0 147.6L835.3 146.2L833.4 141.7L832.3 135.7L831.8 128.2L832.0 120.7L832.9 113.2L834.2 108.7L834.8 107.2Z"/>
<path fill="#f27d50" d="M836.4 105.7L837.0 105.3L838.5 106.0L839.4 107.2L840.5 110.2L841.9 117.7L842.3 125.2L842.0 134.2L840.7 141.7L838.8 146.2L837.0 147.2L835.5 146.0L833.7 141.7L832.6 135.7L832.1 128.2L832.2 120.7L833.2 113.2L834.4 108.7L835.0 107.2Z"/>
<path fill="#f3814c" d="M836.7 105.7L837.0 105.5L838.5 106.3L840.3 110.2L841.6 117.7L842.0 125.2L841.8 132.7L840.8 140.2L839.4 144.7L838.5 146.1L837.0 146.9L835.0 144.7L833.6 140.2L832.7 134.2L832.4 126.7L832.8 117.7L833.7 111.7L835.3 107.2Z"/>
<path fill="#f58549" d="M835.5 107.2L837.0 105.7L838.5 106.6L839.6 108.7L841.0 114.7L841.7 122.2L841.6 131.2L840.8 138.7L839.1 144.7L838.5 145.7L837.0 146.5L835.5 145.0L834.2 141.7L833.2 135.7L832.7 129.7L832.7 122.2L833.2 116.2L834.3 110.2Z"/>
<path fill="#f78a45" d="M835.7 107.2L837.0 105.9L838.5 106.9L839.4 108.7L840.8 114.7L841.4 122.2L841.3 131.2L840.6 138.7L839.5 143.2L838.8 144.7L837.0 146.2L835.6 144.7L834.5 141.7L833.4 135.7L833.0 129.7L833.0 122.2L833.4 116.2L834.5 110.2Z"/>
<path fill="#f88e42" d="M835.9 107.2L837.0 106.2L838.5 107.2L839.2 108.7L840.5 114.7L841.2 123.7L841.0 132.7L840.3 138.7L839.3 143.2L838.5 144.8L837.0 145.9L835.5 144.0L834.4 140.2L833.5 134.2L833.2 128.2L833.7 116.2L834.7 110.2Z"/>
<path fill="#f99340" d="M836.1 107.2L837.0 106.4L838.2 107.2L839.5 110.2L840.5 116.2L840.9 123.7L840.7 132.7L839.8 140.2L838.5 144.3L837.0 145.5L835.5 143.4L834.6 140.2L833.8 134.2L833.5 128.2L833.6 120.7L834.1 114.7L834.9 110.2Z"/>
<path fill="#f99841" d="M836.4 107.2L837.0 106.6L837.9 107.2L838.8 108.7L839.3 110.2L840.2 116.2L840.7 123.7L840.5 132.7L839.6 140.2L838.5 143.8L837.0 145.2L835.6 143.2L834.8 140.2L833.7 128.2L833.8 120.7L834.3 114.7L835.1 110.2Z"/>
<path fill="#f89d41" d="M836.6 107.2L837.0 106.8L837.6 107.2L838.5 108.4L839.1 110.2L840.1 117.7L840.4 125.2L840.2 132.7L839.4 140.2L838.5 143.3L837.0 144.9L835.8 143.2L834.8 138.7L834.0 126.7L834.2 119.2L834.7 113.2L835.7 108.7Z"/>
<path fill="#f8a241" d="M836.8 107.2L837.3 107.2L838.5 108.7L839.2 111.7L839.9 117.7L840.2 125.2L839.4 138.7L838.5 142.7L837.0 144.6L836.0 143.2L835.0 138.7L834.2 126.7L834.4 119.2L834.9 113.2L835.9 108.7Z"/>
<path fill="#f8a742" d="M837.0 107.2L838.3 108.7L839.1 111.7L839.7 117.7L839.9 125.2L839.8 132.7L839.2 138.7L838.5 142.0L838.0 143.2L837.0 144.3L835.7 141.7L835.0 137.2L834.4 125.2L835.1 113.2L836.0 108.7Z"/>
<path fill="#f7ac42" d="M836.1 108.7L837.0 107.4L838.1 108.7L838.5 110.2L839.3 114.7L839.7 122.2L839.7 129.7L839.2 137.2L838.4 141.7L837.0 144.0L835.9 141.7L835.1 135.7L834.7 129.7L834.9 117.7Z"/>
<path fill="#f7b143" d="M836.3 108.7L837.0 107.6L837.9 108.7L838.5 110.8L839.1 114.7L839.5 122.2L839.0 137.2L838.2 141.7L837.0 143.7L836.1 141.7L835.4 137.2L834.9 128.2L835.1 117.7Z"/>
<path fill="#f7b743" d="M836.4 108.7L837.0 107.8L837.8 108.7L838.5 111.7L839.2 122.2L838.8 137.2L838.0 141.7L837.0 143.4L836.2 141.7L835.5 135.7L835.1 128.2L835.3 117.7Z"/>
<path fill="#f6bc43" d="M836.5 108.7L837.0 108.0L837.6 108.7L838.5 113.0L839.1 123.7L838.6 137.2L837.8 141.7L837.0 143.1L836.4 141.7L835.4 128.2L835.5 118.7Z"/>
<path fill="#f6c144" d="M836.7 108.7L837.0 108.2L837.4 108.7L838.5 115.0L838.8 123.7L838.5 136.0L837.6 141.7L837.0 142.8L836.5 141.7L835.7 126.7L835.8 119.2Z"/>
<path fill="#f6c54a" d="M836.8 108.7L837.0 108.4L837.3 108.7L838.5 118.6L838.6 123.7L838.5 132.3L837.4 141.7L837.0 142.4L836.7 141.7L836.1 126.7Z"/>
<path fill="#f7c954" d="M836.9 108.7L838.0 125.2L837.0 142.0L836.6 126.7Z"/>
</g>
<rect x="834.0" y="39.7" width="1.3" height="307.0" fill="#0a0a14"/>
<rect x="834.0" y="105.5" width="3.7" height="34" fill="#000"/>
<path d="M837.6 137.6C838.5 139.0 841.1 143.2 842.8 146.0C844.5 148.8 846.2 151.4 847.7 154.1C849.2 156.8 850.5 159.4 851.7 162.1C852.9 164.8 853.9 167.4 854.9 170.1C855.9 172.8 856.8 175.5 857.6 178.2C858.4 180.9 859.1 183.5 859.7 186.2C860.3 188.9 860.6 191.5 861.0 194.2C861.4 196.9 861.6 199.5 861.8 202.2C862.0 204.9 862.0 207.6 862.1 210.3C862.2 213.0 862.2 215.6 862.1 218.3C862.0 221.0 861.9 223.3 861.8 226.3C861.7 229.3 861.4 234.8 861.3 236.5L833.0 236.5L833.0 137.6Z" fill="#000"/>
<rect x="854.9" y="181.7" width="36.5" height="8.0" rx="1" fill="#0a0a0a"/><rect x="857.4" y="184.6" width="30.0" height="2.2" fill="#343434"/>
<path d="M832.0 236.3H881.9V308.7H832.0" fill="#412a87" stroke="#0a0a0a" stroke-width="3.4" stroke-linejoin="miter"/>
</g>
<g clip-path="url(#cp2)">
<g filter="url(#sm)"><rect x="1057.2" y="33.7" width="214.0" height="319.0" fill="#462b89"/>
<path fill="#472b8a" d="M1057.2 33.7L1239.6 33.7L1249.7 50.2L1258.2 67.1L1265.4 84.7L1271.7 104.2L1271.7 239.5L1266.6 255.7L1260.2 272.2L1253.1 287.2L1244.7 302.1L1235.7 315.8L1225.4 329.2L1214.7 341.4L1202.6 353.2L1057.2 353.2Z"/>
<path fill="#482c8b" d="M1057.2 33.7L1199.8 33.7L1206.4 42.7L1213.2 53.2L1219.2 63.7L1225.0 75.7L1229.4 86.2L1233.6 98.2L1237.0 110.2L1239.7 122.2L1242.4 140.2L1243.6 158.2L1243.3 176.2L1241.5 194.2L1238.2 212.2L1233.3 230.2L1227.2 246.7L1219.4 263.2L1210.2 279.0L1200.2 293.2L1189.2 306.1L1177.2 317.9L1163.7 329.0L1150.1 338.2L1135.2 346.3L1127.7 349.8L1119.0 353.2L1057.2 353.2Z"/>
<path fill="#4a2c8c" d="M1057.2 33.7L1173.8 33.7L1183.7 45.7L1192.8 59.2L1201.1 74.2L1207.6 89.2L1212.7 104.2L1216.8 120.7L1219.3 137.2L1220.4 153.7L1220.0 171.7L1218.2 188.2L1214.9 204.7L1210.1 221.2L1203.6 237.7L1196.0 252.7L1187.5 266.2L1177.1 279.7L1165.8 291.7L1153.2 302.7L1139.7 312.2L1126.2 319.8L1118.7 323.3L1111.2 326.2L1096.2 330.9L1081.2 333.8L1073.7 334.6L1064.7 335.2L1057.2 335.1Z"/>
<path fill="#4b2c8d" d="M1057.2 33.7L1146.1 33.7L1156.6 44.2L1166.7 56.7L1175.1 69.7L1179.2 77.2L1182.8 84.7L1188.6 99.7L1193.2 116.2L1196.0 132.7L1197.2 149.2L1196.9 164.2L1195.3 179.2L1192.4 194.2L1188.5 207.7L1183.3 221.2L1176.6 234.7L1169.2 246.7L1160.2 258.7L1150.5 269.2L1140.4 278.2L1129.2 286.3L1117.2 293.2L1105.2 298.6L1091.7 302.9L1078.2 305.7L1064.7 306.8L1057.2 306.8Z"/>
<path fill="#4c2d8e" d="M1057.2 33.7L1122.8 33.7L1129.2 38.5L1135.2 43.7L1144.5 53.2L1153.2 64.2L1160.5 75.7L1167.2 89.2L1172.3 102.7L1176.0 116.2L1178.5 131.2L1179.6 146.2L1179.3 159.7L1177.8 173.2L1175.1 186.7L1171.6 198.7L1166.9 210.7L1160.9 222.7L1154.5 233.2L1146.5 243.7L1138.2 252.7L1129.2 260.7L1118.7 268.2L1108.2 274.2L1097.7 278.7L1085.7 282.4L1075.2 284.4L1063.2 285.3L1057.2 285.3Z"/>
<path fill="#4d2d8f" d="M1057.2 33.7L1112.0 33.7L1123.0 41.2L1132.2 49.1L1141.2 58.8L1148.7 68.7L1155.7 80.2L1161.4 92.2L1165.7 104.2L1169.3 117.7L1171.5 131.2L1172.4 144.7L1172.1 158.2L1170.7 170.2L1168.4 182.2L1165.0 194.2L1160.4 206.2L1155.2 216.7L1148.7 227.3L1141.2 237.3L1133.7 245.5L1124.7 253.5L1115.5 260.2L1105.2 266.1L1094.7 270.6L1084.2 273.8L1073.7 275.8L1063.2 276.6L1057.2 276.5Z"/>
<path fill="#4f2e90" d="M1057.2 33.7L1099.7 33.7L1108.2 38.2L1115.2 42.7L1122.8 48.7L1129.3 54.7L1137.3 63.7L1144.2 73.3L1150.2 83.6L1155.5 95.2L1159.6 107.2L1162.6 119.2L1164.4 131.2L1165.2 143.2L1165.0 155.2L1163.7 167.2L1161.4 179.2L1158.4 189.7L1154.5 200.2L1149.4 210.7L1143.1 221.2L1136.5 230.2L1129.2 238.2L1121.6 245.2L1112.7 251.9L1103.7 257.2L1094.7 261.3L1084.2 264.8L1073.7 266.9L1063.2 267.8L1057.2 267.7Z"/>
<path fill="#502e91" d="M1057.2 33.7L1083.3 33.7L1091.7 36.5L1100.7 40.6L1109.7 46.1L1118.7 53.0L1126.6 60.7L1132.9 68.2L1139.2 77.2L1144.3 86.2L1149.0 96.7L1152.6 107.2L1155.6 119.2L1157.2 129.7L1158.0 141.7L1157.7 153.7L1156.6 164.2L1154.3 176.2L1151.3 186.7L1147.2 197.2L1142.7 206.5L1137.5 215.2L1130.8 224.2L1123.2 232.5L1115.7 239.2L1108.2 244.7L1099.5 249.7L1090.2 253.8L1081.2 256.6L1072.2 258.3L1063.2 259.0L1057.2 258.9Z"/>
<path fill="#512f92" d="M1057.2 36.7L1057.2 36.4L1064.7 36.4L1073.7 37.3L1082.7 39.4L1091.7 42.7L1100.6 47.2L1108.2 52.2L1115.7 58.4L1122.5 65.2L1128.6 72.7L1134.5 81.7L1139.3 90.7L1143.1 99.7L1146.0 108.7L1148.5 119.2L1150.1 129.7L1150.8 140.2L1150.6 150.7L1149.6 161.2L1147.6 171.7L1144.7 182.2L1141.3 191.2L1137.1 200.2L1131.8 209.2L1126.2 216.9L1119.8 224.2L1112.7 230.8L1105.2 236.5L1097.7 241.0L1090.2 244.5L1081.2 247.6L1072.2 249.5L1063.2 250.2L1057.2 250.2Z"/>
<path fill="#532f93" d="M1057.2 42.7L1057.2 42.0L1061.7 41.9L1072.2 42.8L1081.2 44.9L1088.7 47.6L1096.2 51.4L1103.7 56.2L1111.0 62.2L1117.0 68.2L1123.0 75.7L1128.0 83.2L1132.1 90.7L1136.0 99.7L1139.0 108.7L1141.5 119.2L1142.9 128.2L1143.6 138.7L1143.4 149.2L1142.5 158.2L1140.6 168.7L1138.1 177.7L1134.8 186.7L1130.7 195.4L1126.1 203.2L1120.7 210.7L1114.2 218.1L1108.2 223.7L1101.5 228.7L1094.7 232.9L1087.2 236.4L1079.7 238.9L1072.2 240.6L1063.2 241.5L1057.2 241.4Z"/>
<path fill="#542f94" d="M1057.2 45.7L1057.2 45.1L1061.7 45.0L1070.7 45.7L1079.7 47.7L1087.2 50.4L1094.7 54.2L1100.7 58.0L1107.7 63.7L1113.8 69.7L1118.8 75.7L1123.9 83.2L1128.1 90.7L1132.1 99.7L1135.1 108.7L1137.4 117.7L1138.8 126.7L1139.6 137.2L1139.5 147.7L1138.6 156.7L1137.0 165.7L1134.6 174.7L1131.4 183.7L1127.9 191.2L1123.7 198.7L1118.6 206.2L1112.7 213.1L1106.7 218.9L1099.8 224.2L1093.2 228.3L1085.7 231.8L1078.2 234.4L1070.7 235.9L1063.2 236.6L1057.2 236.5Z"/>
<path fill="#553095" d="M1057.2 48.7L1057.2 47.5L1063.2 47.4L1069.2 47.9L1078.2 49.8L1085.7 52.5L1093.2 56.2L1099.2 60.1L1105.6 65.2L1111.6 71.2L1116.5 77.2L1121.6 84.7L1125.7 92.2L1129.0 99.7L1132.1 108.7L1134.4 117.7L1135.8 126.7L1136.5 135.7L1136.5 144.7L1135.8 153.7L1134.3 162.7L1132.1 171.7L1129.2 180.2L1125.7 188.2L1121.5 195.7L1116.5 203.2L1111.2 209.5L1105.2 215.4L1099.2 220.2L1091.7 224.9L1085.7 227.8L1078.2 230.5L1070.7 232.1L1063.2 232.8L1057.2 232.8Z"/>
<path fill="#563096" d="M1057.2 50.2L1057.2 49.9L1063.2 49.8L1070.7 50.6L1078.2 52.3L1084.7 54.7L1091.7 58.2L1097.7 62.1L1103.7 67.0L1109.4 72.7L1114.3 78.7L1119.3 86.2L1123.4 93.7L1126.6 101.2L1129.1 108.7L1131.3 117.7L1132.8 126.7L1133.4 135.7L1133.4 144.7L1132.6 153.7L1131.0 162.7L1129.1 170.2L1126.2 178.7L1122.6 186.7L1118.7 193.8L1114.2 200.4L1109.4 206.2L1103.4 212.2L1097.7 216.8L1090.8 221.2L1084.2 224.4L1076.7 227.0L1070.7 228.3L1063.2 229.1L1057.2 229.0Z"/>
<path fill="#583197" d="M1057.2 53.2L1057.2 52.3L1058.7 52.3L1067.7 52.6L1075.2 54.0L1082.7 56.5L1088.7 59.4L1095.6 63.7L1101.2 68.2L1107.3 74.2L1112.1 80.2L1117.1 87.7L1121.0 95.2L1124.1 102.7L1126.5 110.2L1128.6 119.2L1129.7 126.7L1130.4 135.7L1130.3 144.7L1129.4 153.7L1127.7 162.7L1125.7 170.2L1123.0 177.7L1119.6 185.2L1115.7 192.1L1111.2 198.6L1106.0 204.7L1100.7 209.8L1094.7 214.5L1088.7 218.2L1082.7 221.0L1076.7 223.1L1070.7 224.5L1063.2 225.3L1057.2 225.2Z"/>
<path fill="#593198" d="M1058.3 54.7L1064.7 54.7L1070.7 55.5L1078.2 57.4L1084.2 59.9L1090.2 63.1L1096.2 67.3L1102.2 72.6L1106.4 77.2L1111.0 83.2L1114.8 89.2L1118.6 96.7L1121.6 104.2L1123.9 111.7L1125.6 119.2L1126.7 126.7L1127.3 135.7L1127.1 144.7L1126.4 152.2L1124.7 161.2L1122.7 168.7L1120.0 176.2L1117.2 182.5L1113.2 189.7L1109.0 195.7L1104.0 201.7L1099.2 206.4L1093.2 211.1L1087.2 214.8L1081.2 217.6L1075.2 219.7L1069.2 221.0L1061.7 221.6L1057.2 221.4L1057.2 54.8Z"/>
<path fill="#5a3299" d="M1057.2 57.7L1057.2 57.2L1060.2 57.0L1067.7 57.5L1075.2 59.1L1081.2 61.2L1087.2 64.2L1093.2 68.2L1098.6 72.7L1102.9 77.2L1107.7 83.2L1111.6 89.2L1114.8 95.2L1118.1 102.7L1120.5 110.2L1122.3 117.7L1123.5 125.2L1124.2 134.2L1124.1 143.2L1123.4 150.7L1122.1 158.2L1120.2 165.7L1117.6 173.2L1114.3 180.7L1111.0 186.7L1106.9 192.7L1102.2 198.5L1097.7 202.9L1093.2 206.7L1087.2 210.6L1081.2 213.6L1075.2 215.8L1069.2 217.2L1063.2 217.8L1057.2 217.7Z"/>
<path fill="#5c329a" d="M1057.2 60.7L1057.2 59.6L1066.2 59.7L1073.7 61.2L1079.7 63.2L1085.7 66.2L1091.0 69.7L1096.2 74.0L1100.8 78.7L1104.4 83.2L1108.5 89.2L1111.7 95.2L1115.0 102.7L1117.5 110.2L1119.3 117.7L1120.5 125.2L1121.1 132.7L1121.1 140.2L1120.6 147.7L1119.4 155.2L1117.7 162.7L1115.2 170.2L1112.7 176.3L1108.8 183.7L1105.2 189.2L1100.7 194.9L1096.2 199.5L1091.7 203.3L1085.7 207.3L1081.2 209.6L1075.2 211.9L1069.2 213.3L1063.2 214.0L1057.2 213.9Z"/>
<path fill="#5d339b" d="M1057.2 62.2L1061.7 61.8L1067.7 62.3L1073.7 63.7L1079.7 65.9L1085.7 69.1L1090.2 72.3L1094.2 75.7L1098.6 80.2L1102.2 84.7L1106.2 90.7L1109.4 96.7L1112.6 104.2L1114.5 110.2L1116.3 117.7L1117.5 125.2L1118.0 132.7L1118.0 140.2L1117.4 147.7L1116.1 155.2L1114.7 161.2L1112.3 168.7L1109.7 174.7L1106.6 180.7L1102.7 186.7L1099.2 191.2L1094.7 196.0L1089.8 200.2L1084.2 203.9L1079.7 206.2L1073.7 208.4L1069.2 209.5L1063.2 210.2L1057.2 210.1Z"/>
<path fill="#5e339c" d="M1057.2 65.2L1057.2 64.3L1064.7 64.3L1072.2 65.6L1076.7 67.2L1081.2 69.3L1085.7 71.9L1091.7 76.7L1096.6 81.7L1100.2 86.2L1104.0 92.2L1107.2 98.2L1110.2 105.7L1112.1 111.7L1113.5 117.7L1114.7 126.7L1115.1 132.7L1114.7 144.7L1113.6 152.2L1111.9 159.7L1108.9 168.7L1106.2 174.7L1102.8 180.7L1099.7 185.2L1096.0 189.7L1091.7 194.0L1087.2 197.8L1082.7 200.7L1076.7 203.6L1072.2 205.1L1069.2 205.8L1061.7 206.7L1057.2 206.4Z"/>
<path fill="#5f339d" d="M1057.2 66.7L1057.2 66.1L1058.7 65.9L1066.2 66.2L1072.2 67.5L1076.7 69.1L1082.7 72.2L1087.2 75.3L1091.2 78.7L1095.4 83.2L1098.9 87.7L1102.2 92.9L1105.0 98.2L1107.5 104.2L1109.5 110.2L1111.3 117.7L1112.2 123.7L1112.8 131.2L1112.8 138.7L1112.4 144.7L1111.3 152.2L1109.9 158.2L1108.0 164.2L1105.6 170.2L1102.6 176.2L1099.2 181.7L1095.4 186.7L1091.7 190.6L1087.2 194.6L1082.7 197.7L1078.2 200.1L1073.7 201.9L1069.2 203.1L1063.2 203.9L1057.2 203.8Z"/>
<path fill="#61349e" d="M1057.2 68.2L1057.2 67.7L1058.7 67.6L1064.7 67.7L1070.7 68.8L1075.2 70.3L1080.3 72.7L1084.9 75.7L1088.7 78.8L1093.2 83.4L1096.7 87.7L1100.5 93.7L1102.9 98.2L1105.4 104.2L1107.4 110.2L1108.9 116.2L1110.0 122.2L1110.7 129.7L1110.8 137.2L1110.4 143.2L1109.3 150.7L1108.0 156.7L1106.2 162.7L1103.8 168.7L1100.8 174.7L1098.1 179.2L1094.7 183.8L1090.7 188.2L1087.2 191.4L1082.7 194.7L1078.2 197.3L1073.7 199.2L1069.2 200.5L1063.2 201.3L1057.2 201.2Z"/>
<path fill="#62349f" d="M1057.2 69.7L1057.2 69.4L1060.2 69.2L1066.2 69.5L1070.7 70.5L1075.2 72.1L1079.7 74.3L1084.2 77.3L1088.7 81.2L1092.0 84.7L1095.5 89.2L1098.4 93.7L1100.8 98.2L1103.4 104.2L1105.4 110.2L1106.9 116.2L1107.9 122.2L1108.6 129.7L1108.6 137.2L1108.2 143.2L1106.1 155.2L1104.3 161.2L1102.0 167.2L1099.2 172.8L1096.2 177.7L1092.9 182.2L1088.8 186.7L1085.4 189.7L1081.2 192.8L1076.7 195.2L1072.2 197.0L1067.7 198.2L1063.2 198.8L1057.2 198.6Z"/>
<path fill="#6335a0" d="M1057.2 71.2L1061.7 70.8L1066.2 71.2L1070.7 72.2L1075.2 73.9L1079.7 76.3L1083.2 78.7L1087.2 82.2L1090.9 86.2L1094.3 90.7L1097.1 95.2L1099.4 99.7L1101.8 105.7L1103.7 111.7L1105.1 117.7L1106.5 129.7L1106.2 141.7L1105.4 147.7L1104.2 153.7L1102.4 159.7L1100.1 165.7L1097.7 170.7L1094.7 175.8L1091.1 180.7L1087.2 184.9L1083.4 188.2L1079.7 190.8L1076.2 192.7L1072.2 194.4L1067.7 195.6L1063.2 196.2L1057.2 196.0Z"/>
<path fill="#6535a1" d="M1057.3 72.7L1061.7 72.5L1066.2 72.9L1070.7 74.0L1075.1 75.7L1078.2 77.4L1082.7 80.5L1085.7 83.2L1089.8 87.7L1093.1 92.2L1095.8 96.7L1098.0 101.2L1100.3 107.2L1103.0 117.7L1104.4 129.7L1104.0 141.7L1103.2 147.7L1101.9 153.7L1098.3 164.2L1095.4 170.2L1092.6 174.7L1089.2 179.2L1085.7 183.0L1082.7 185.6L1078.2 188.8L1075.2 190.4L1070.7 192.2L1066.2 193.3L1061.7 193.7L1057.2 193.4Z"/>
<path fill="#6636a1" d="M1058.9 74.2L1066.2 74.5L1070.7 75.7L1075.2 77.6L1079.7 80.4L1082.7 82.8L1088.7 89.2L1091.9 93.7L1094.5 98.2L1096.5 102.7L1098.7 108.7L1101.2 119.2L1102.0 125.2L1102.3 131.2L1101.7 143.2L1099.6 153.7L1095.8 164.2L1093.5 168.7L1090.8 173.2L1087.4 177.7L1084.6 180.7L1078.2 185.8L1075.2 187.6L1070.7 189.5L1066.2 190.6L1061.7 191.1L1057.2 190.8L1057.2 74.3Z"/>
<path fill="#6836a1" d="M1057.2 75.7L1060.2 75.3L1064.7 75.6L1069.2 76.4L1073.7 78.2L1078.2 80.9L1081.1 83.2L1084.4 86.2L1087.0 89.2L1089.3 92.2L1092.1 96.7L1095.0 102.7L1096.8 107.2L1098.5 113.2L1099.8 119.2L1100.6 128.2L1100.6 135.7L1100.1 143.2L1098.3 152.2L1095.3 161.2L1090.7 170.2L1086.3 176.2L1079.7 182.5L1075.2 185.4L1070.7 187.5L1066.2 188.7L1063.2 189.1L1057.2 188.9Z"/>
<path fill="#6a36a2" d="M1057.2 77.2L1057.2 76.4L1063.2 76.2L1067.7 77.0L1072.2 78.5L1075.5 80.2L1079.7 83.1L1083.2 86.2L1085.9 89.2L1089.2 93.7L1091.7 98.0L1095.7 107.2L1098.4 117.7L1099.6 128.2L1099.7 134.2L1099.3 140.2L1097.5 150.7L1094.0 161.2L1091.9 165.7L1089.3 170.2L1086.0 174.7L1083.3 177.7L1080.0 180.7L1076.7 183.1L1072.9 185.2L1069.2 186.6L1066.2 187.4L1061.7 187.9L1057.2 187.6Z"/>
<path fill="#6c37a2" d="M1057.4 77.2L1061.7 76.9L1064.7 77.2L1069.2 78.2L1072.2 79.4L1076.4 81.7L1079.7 84.1L1082.7 86.9L1085.7 90.3L1090.9 98.2L1094.7 107.2L1097.5 117.7L1098.7 128.2L1098.4 138.7L1096.8 149.2L1093.5 159.7L1089.0 168.7L1085.8 173.2L1083.2 176.2L1080.1 179.2L1076.7 181.8L1073.3 183.7L1069.2 185.4L1066.2 186.2L1061.7 186.7L1057.2 186.4Z"/>
<path fill="#6d37a2" d="M1057.2 78.7L1057.2 78.0L1063.2 77.8L1067.7 78.6L1072.1 80.2L1075.2 81.8L1079.2 84.7L1085.0 90.7L1089.9 98.2L1093.8 107.2L1096.5 117.7L1097.7 128.2L1097.7 134.2L1097.3 140.2L1095.4 150.7L1092.4 159.7L1090.3 164.2L1087.7 168.7L1082.7 175.1L1079.7 178.0L1076.2 180.7L1072.2 183.0L1069.2 184.2L1066.2 185.0L1061.7 185.5L1057.2 185.2Z"/>
<path fill="#6f37a2" d="M1057.8 78.7L1061.7 78.5L1064.7 78.7L1069.2 79.8L1072.2 81.1L1078.2 84.9L1081.2 87.7L1084.2 91.1L1088.9 98.2L1092.8 107.2L1095.6 117.7L1096.7 128.2L1096.4 138.7L1094.7 149.2L1091.7 158.6L1087.4 167.2L1084.2 171.7L1081.6 174.7L1078.3 177.7L1075.2 180.0L1069.2 182.9L1066.2 183.8L1061.7 184.3L1057.2 184.0L1057.2 78.8Z"/>
<path fill="#7138a2" d="M1057.2 80.2L1057.2 79.6L1063.2 79.3L1067.7 80.2L1070.7 81.3L1076.7 84.8L1080.1 87.7L1082.8 90.7L1087.9 98.2L1091.9 107.2L1094.6 117.7L1095.7 128.2L1095.4 138.7L1093.6 149.2L1090.7 158.2L1088.7 162.7L1086.1 167.2L1081.2 173.5L1078.2 176.4L1075.2 178.6L1069.2 181.7L1066.2 182.5L1061.7 183.1L1057.2 182.8Z"/>
<path fill="#7338a3" d="M1058.1 80.2L1061.7 80.0L1064.7 80.3L1070.7 82.1L1073.7 83.7L1077.2 86.2L1080.4 89.2L1083.0 92.2L1087.7 99.7L1091.4 108.7L1093.6 117.7L1094.8 128.2L1094.4 138.7L1092.9 147.7L1090.2 156.7L1088.2 161.2L1085.8 165.7L1081.2 171.9L1078.2 174.9L1075.2 177.2L1069.2 180.4L1066.2 181.3L1061.7 181.9L1057.2 181.6L1057.2 80.3Z"/>
<path fill="#7639a3" d="M1057.2 81.7L1063.2 81.4L1066.2 82.0L1069.8 83.2L1075.2 86.4L1078.5 89.2L1081.2 92.2L1086.0 99.7L1089.3 107.2L1091.7 116.2L1093.0 126.7L1092.8 137.2L1091.4 146.2L1088.7 155.5L1086.9 159.7L1084.5 164.2L1079.7 170.6L1076.7 173.6L1073.7 175.8L1070.7 177.5L1067.7 178.7L1061.7 179.8L1057.2 179.4Z"/>
<path fill="#7939a3" d="M1057.2 83.2L1060.2 82.7L1063.2 82.8L1066.2 83.3L1069.2 84.4L1072.2 86.0L1075.2 88.1L1080.5 93.7L1085.1 101.2L1088.1 108.7L1090.3 117.7L1091.3 126.7L1091.0 137.2L1089.6 146.2L1086.8 155.2L1083.2 162.7L1078.8 168.7L1073.7 173.4L1070.7 175.3L1067.7 176.6L1064.7 177.4L1061.7 177.7L1057.2 177.3Z"/>
<path fill="#7c3aa4" d="M1057.2 84.7L1057.2 84.4L1058.7 84.2L1061.7 84.0L1064.7 84.4L1067.7 85.2L1070.7 86.7L1073.7 88.7L1078.7 93.7L1080.8 96.7L1083.4 101.2L1086.4 108.7L1088.6 117.7L1089.6 126.7L1089.4 135.7L1088.1 144.7L1085.5 153.7L1081.9 161.2L1077.6 167.2L1072.6 171.7L1067.7 174.4L1064.7 175.3L1061.7 175.6L1057.2 175.2Z"/>
<path fill="#7f3ba4" d="M1057.2 86.2L1057.2 85.6L1061.7 85.2L1064.7 85.6L1067.7 86.6L1070.7 88.1L1073.7 90.4L1077.0 93.7L1079.3 96.7L1081.9 101.2L1085.0 108.7L1086.6 114.7L1088.0 125.2L1088.0 134.2L1086.5 144.7L1084.8 150.7L1081.6 158.2L1077.8 164.2L1072.2 169.8L1067.7 172.4L1061.7 173.7L1057.2 173.1Z"/>
<path fill="#823ba5" d="M1060.1 86.2L1064.7 86.6L1067.7 87.6L1070.6 89.2L1075.2 93.2L1079.0 98.2L1082.1 104.2L1084.7 111.7L1086.2 119.2L1086.9 128.2L1086.4 137.2L1085.2 144.7L1082.9 152.2L1079.7 159.0L1076.1 164.2L1071.3 168.7L1066.2 171.4L1061.7 172.2L1057.2 171.8L1057.2 86.7Z"/>
<path fill="#853ca5" d="M1057.2 87.7L1058.7 87.2L1061.7 87.0L1066.2 87.9L1071.2 90.7L1075.8 95.2L1079.6 101.2L1082.7 108.7L1084.6 116.2L1085.7 125.2L1085.6 134.2L1084.6 141.7L1082.7 149.2L1079.6 156.7L1075.8 162.7L1071.2 167.2L1069.2 168.6L1066.2 170.0L1061.7 170.9L1057.2 170.4Z"/>
<path fill="#883da5" d="M1057.2 89.2L1057.2 88.4L1060.2 87.9L1063.2 88.0L1066.2 88.8L1069.2 90.4L1071.7 92.2L1075.7 96.7L1079.3 102.7L1081.7 108.7L1083.6 116.2L1084.6 125.2L1084.5 134.2L1083.5 141.7L1081.5 149.2L1078.3 156.7L1075.2 161.5L1070.7 166.0L1066.2 168.6L1061.7 169.6L1057.2 169.0Z"/>
<path fill="#8b3da6" d="M1057.7 89.2L1060.2 88.8L1063.2 88.9L1067.7 90.5L1072.0 93.7L1075.2 97.5L1078.2 102.7L1081.1 110.2L1082.8 117.7L1083.5 125.2L1083.4 134.2L1082.3 141.7L1080.3 149.2L1077.8 155.2L1075.0 159.7L1070.7 164.4L1066.2 167.2L1061.7 168.2L1057.2 167.6L1057.2 89.3Z"/>
<path fill="#8e3ea6" d="M1057.2 90.7L1057.2 90.2L1060.2 89.6L1064.7 90.1L1069.2 92.5L1073.5 96.7L1077.2 102.7L1079.6 108.7L1081.4 116.2L1082.3 123.7L1082.4 132.7L1081.4 140.2L1079.6 147.7L1077.2 153.7L1074.6 158.2L1070.7 162.8L1066.2 165.8L1061.7 166.9L1057.2 166.2Z"/>
<path fill="#923fa5" d="M1058.8 90.7L1063.2 90.7L1067.2 92.2L1071.0 95.2L1074.4 99.7L1077.4 105.7L1079.4 111.7L1080.6 117.7L1081.3 125.2L1081.2 132.7L1080.3 140.2L1078.4 147.7L1075.9 153.7L1073.1 158.2L1069.2 162.4L1066.2 164.3L1061.7 165.5L1057.2 164.8L1057.2 91.2Z"/>
<path fill="#9540a3" d="M1057.2 92.2L1060.2 91.3L1063.2 91.5L1064.7 92.0L1067.7 93.5L1069.2 94.7L1072.3 98.2L1075.0 102.7L1077.5 108.7L1079.3 116.2L1080.2 123.7L1080.2 131.2L1079.4 138.7L1077.7 146.2L1075.3 152.2L1072.8 156.7L1069.2 160.8L1066.2 162.9L1064.7 163.5L1061.7 164.2L1058.7 163.9L1057.2 163.4Z"/>
<path fill="#9940a2" d="M1060.9 92.2L1063.2 92.4L1064.7 92.9L1067.7 94.6L1071.2 98.2L1074.0 102.7L1076.5 108.7L1078.0 114.7L1078.9 120.7L1079.2 126.7L1078.9 134.2L1078.0 140.2L1076.5 146.2L1074.0 152.2L1071.3 156.7L1068.6 159.7L1064.7 162.1L1061.7 162.8L1058.7 162.5L1057.2 162.0L1057.2 93.0L1058.7 92.4Z"/>
<path fill="#9c41a0" d="M1057.6 93.7L1060.2 92.8L1063.2 93.0L1066.2 94.3L1070.3 98.2L1073.2 102.7L1076.1 110.2L1077.4 116.2L1078.0 120.7L1078.1 129.7L1077.6 137.2L1076.0 144.7L1074.4 149.2L1073.0 152.2L1071.1 155.2L1068.6 158.2L1064.7 160.9L1061.7 161.7L1060.2 161.7L1057.2 160.8L1057.2 93.8Z"/>
<path fill="#a0429f" d="M1059.1 93.7L1061.7 93.4L1064.7 94.2L1066.2 95.0L1069.6 98.2L1071.6 101.2L1074.5 107.2L1075.8 111.7L1077.2 119.2L1077.5 123.7L1077.6 129.7L1077.1 135.7L1075.7 143.2L1074.2 147.7L1071.3 153.7L1069.0 156.7L1067.5 158.2L1064.7 160.1L1061.7 160.8L1060.2 160.8L1057.2 160.0L1057.2 94.3Z"/>
<path fill="#a3439d" d="M1057.2 95.2L1057.2 94.8L1060.2 93.9L1063.2 94.1L1066.2 95.6L1067.7 96.8L1070.1 99.7L1072.7 104.2L1074.4 108.7L1075.9 114.7L1076.9 122.2L1077.0 129.7L1076.5 135.7L1075.4 141.7L1073.6 147.7L1071.5 152.2L1068.2 156.7L1064.7 159.4L1061.7 160.2L1058.7 159.8L1057.2 159.2Z"/>
<path fill="#a7449c" d="M1057.5 95.2L1060.2 94.3L1063.2 94.6L1066.2 96.1L1069.6 99.7L1072.2 104.2L1073.9 108.7L1075.4 114.7L1076.3 122.2L1076.5 129.7L1075.9 135.7L1074.8 141.7L1073.0 147.7L1070.7 152.5L1067.7 156.4L1064.7 158.7L1061.7 159.6L1058.7 159.2L1057.2 158.5L1057.2 95.3Z"/>
<path fill="#ab459a" d="M1058.5 95.2L1061.7 94.7L1064.7 95.6L1067.7 98.0L1070.1 101.2L1072.3 105.7L1074.2 111.7L1075.4 117.7L1075.9 123.7L1075.8 131.2L1075.2 137.1L1073.9 143.2L1072.4 147.7L1070.2 152.2L1067.7 155.6L1064.7 158.0L1061.7 158.9L1058.7 158.5L1057.2 157.8L1057.2 95.8Z"/>
<path fill="#b04798" d="M1057.2 96.7L1058.7 95.7L1060.2 95.3L1063.2 95.6L1066.2 97.4L1068.3 99.7L1071.0 104.2L1072.7 108.7L1074.2 114.7L1075.1 122.2L1075.2 128.2L1074.8 134.2L1073.8 140.2L1072.1 146.2L1070.2 150.7L1067.7 154.4L1064.7 157.0L1061.7 158.0L1058.7 157.6L1057.2 156.8Z"/>
<path fill="#b64895" d="M1058.0 96.7L1060.2 95.8L1063.2 96.2L1066.2 98.2L1068.7 101.2L1071.6 107.2L1072.9 111.7L1074.4 122.2L1074.5 129.7L1073.9 135.7L1073.1 140.2L1071.4 146.2L1070.1 149.2L1067.3 153.7L1064.7 156.0L1061.7 157.1L1058.7 156.6L1057.2 155.8L1057.2 97.1Z"/>
<path fill="#bb4993" d="M1059.3 96.7L1061.7 96.3L1064.7 97.5L1067.0 99.7L1069.8 104.2L1071.5 108.7L1072.6 113.2L1073.8 123.7L1073.8 129.7L1073.2 135.7L1071.2 144.7L1068.6 150.7L1066.3 153.7L1063.2 156.0L1061.7 156.3L1058.7 155.8L1057.2 154.9L1057.2 97.7Z"/>
<path fill="#c04a91" d="M1057.4 98.2L1060.2 96.9L1061.7 96.8L1063.2 97.2L1064.9 98.2L1067.5 101.2L1069.2 104.2L1070.9 108.7L1072.3 114.7L1073.1 120.7L1073.3 126.7L1073.0 132.7L1072.4 137.2L1071.1 143.2L1069.4 147.7L1066.8 152.2L1064.7 154.3L1061.7 155.6L1059.1 155.2L1057.2 154.1Z"/>
<path fill="#c44c8e" d="M1058.1 98.2L1060.2 97.3L1061.7 97.2L1063.2 97.7L1065.8 99.7L1067.7 102.3L1069.4 105.7L1070.8 110.2L1072.0 116.2L1072.6 122.2L1072.7 128.2L1072.3 134.2L1071.3 140.2L1070.0 144.7L1068.1 149.2L1066.2 152.1L1064.5 153.7L1061.7 155.0L1060.2 154.9L1058.7 154.4L1057.2 153.3L1057.2 98.9Z"/>
<path fill="#c84f89" d="M1058.9 98.2L1060.2 97.7L1061.7 97.7L1063.2 98.1L1065.3 99.7L1067.5 102.7L1069.4 107.2L1070.7 111.7L1071.5 116.2L1072.1 122.2L1072.2 128.2L1071.7 134.2L1070.7 140.2L1069.4 144.7L1068.2 147.7L1066.2 151.2L1064.7 152.8L1063.2 153.8L1061.7 154.3L1060.2 154.2L1058.8 153.7L1057.2 152.5L1057.2 99.4Z"/>
<path fill="#cc5285" d="M1060.0 98.2L1062.1 98.2L1064.7 99.7L1066.0 101.2L1067.7 104.2L1069.4 108.7L1070.5 113.2L1071.6 123.7L1071.2 134.2L1070.2 140.2L1068.9 144.7L1067.6 147.7L1065.8 150.7L1063.2 153.1L1061.7 153.6L1060.2 153.6L1058.7 152.9L1057.2 151.7L1057.2 100.0L1058.7 98.8Z"/>
<path fill="#d05480" d="M1058.1 99.7L1060.2 98.5L1061.7 98.5L1064.1 99.7L1066.5 102.7L1067.9 105.7L1069.3 110.2L1070.5 116.2L1071.0 120.7L1071.1 126.7L1070.8 132.7L1069.9 138.7L1068.8 143.2L1067.1 147.7L1065.1 150.7L1063.2 152.4L1061.7 153.0L1060.2 152.9L1058.7 152.2L1057.2 150.9L1057.2 100.6Z"/>
<path fill="#d4577c" d="M1058.8 99.7L1060.2 98.9L1061.7 98.8L1063.4 99.7L1066.1 102.7L1067.5 105.7L1068.9 110.2L1070.1 116.2L1070.5 120.7L1070.3 132.7L1068.8 141.7L1067.3 146.2L1065.6 149.2L1063.2 151.8L1061.7 152.3L1060.2 152.2L1058.7 151.5L1057.2 150.0L1057.2 101.2Z"/>
<path fill="#d85978" d="M1059.4 99.7L1060.2 99.3L1061.7 99.2L1063.2 99.9L1065.7 102.7L1067.2 105.7L1068.9 111.7L1069.8 117.7L1070.2 122.2L1069.9 132.7L1068.3 141.7L1066.8 146.2L1065.1 149.2L1063.2 151.1L1061.7 151.8L1060.2 151.8L1058.7 150.8L1057.2 149.1L1057.2 101.7Z"/>
<path fill="#dc5c73" d="M1060.1 99.7L1061.7 99.5L1063.2 100.2L1065.4 102.7L1066.8 105.7L1068.5 111.7L1069.6 119.2L1069.9 123.7L1069.5 132.7L1067.9 141.7L1067.0 144.7L1065.6 147.7L1063.2 150.6L1061.7 151.4L1060.2 151.3L1058.7 150.3L1057.2 148.6L1057.2 102.2L1058.7 100.5Z"/>
<path fill="#e05f6f" d="M1058.3 101.2L1060.2 99.9L1061.7 99.8L1063.2 100.6L1065.0 102.7L1066.5 105.7L1068.2 111.7L1069.3 120.7L1069.4 129.7L1067.9 140.2L1066.6 144.7L1065.2 147.7L1063.2 150.1L1061.7 150.9L1060.2 150.8L1058.7 149.9L1057.2 148.0L1057.2 102.7Z"/>
<path fill="#e3616a" d="M1058.7 101.2L1060.2 100.2L1061.7 100.1L1063.5 101.2L1065.5 104.2L1066.7 107.2L1067.9 111.7L1069.0 120.7L1068.9 131.2L1067.6 140.2L1066.3 144.7L1064.8 147.7L1063.2 149.7L1061.7 150.5L1060.2 150.4L1058.7 149.4L1057.2 147.4L1057.2 103.2Z"/>
<path fill="#e76466" d="M1059.1 101.2L1060.2 100.4L1061.7 100.3L1063.2 101.2L1065.3 104.2L1066.5 107.2L1067.6 111.7L1068.7 120.7L1068.6 131.2L1067.3 140.2L1065.9 144.7L1064.7 147.3L1063.2 149.2L1061.7 150.1L1060.2 150.0L1059.0 149.2L1057.2 146.7L1057.2 103.7Z"/>
<path fill="#ea6762" d="M1059.4 101.2L1060.2 100.7L1061.7 100.6L1063.2 101.5L1065.0 104.2L1066.2 107.2L1067.3 111.7L1068.4 120.7L1068.3 131.2L1067.0 140.2L1064.7 146.7L1063.2 148.8L1061.7 149.7L1060.2 149.6L1059.6 149.2L1058.7 148.5L1057.2 146.1L1057.2 104.2L1058.0 102.7Z"/>
<path fill="#ec6c5e" d="M1059.8 101.2L1061.7 100.8L1063.2 101.9L1065.4 105.7L1067.3 113.2L1068.1 122.2L1068.0 131.2L1066.7 140.2L1064.6 146.2L1063.2 148.3L1061.7 149.3L1060.2 149.2L1058.7 148.0L1057.2 145.4L1057.2 104.8L1058.3 102.7Z"/>
<path fill="#ed705b" d="M1060.3 101.2L1061.7 101.1L1063.2 102.2L1064.5 104.2L1065.7 107.2L1067.2 114.7L1067.8 122.2L1067.5 132.7L1066.4 140.2L1064.3 146.2L1063.2 147.9L1061.7 149.0L1060.2 148.8L1058.9 147.7L1057.2 144.7L1057.2 105.4L1058.6 102.7Z"/>
<path fill="#ef7457" d="M1058.9 102.7L1060.2 101.5L1061.7 101.3L1063.2 102.5L1064.3 104.2L1066.2 110.2L1067.4 119.2L1067.4 129.7L1066.4 138.7L1065.2 143.2L1064.0 146.2L1063.2 147.4L1061.7 148.6L1060.2 148.4L1059.4 147.7L1058.2 146.2L1057.2 143.8L1057.2 106.1Z"/>
<path fill="#f07954" d="M1059.1 102.7L1060.2 101.7L1061.7 101.6L1063.1 102.7L1064.0 104.2L1065.9 110.2L1067.1 119.2L1067.2 129.7L1066.1 138.7L1064.4 144.7L1063.2 146.9L1061.7 148.2L1060.2 148.0L1059.8 147.7L1058.6 146.2L1057.2 143.0L1057.2 106.8L1058.2 104.2Z"/>
<path fill="#f27d50" d="M1059.4 102.7L1060.2 102.0L1061.7 101.8L1063.8 104.2L1065.7 110.2L1066.9 120.7L1066.9 129.7L1065.8 138.7L1064.1 144.7L1063.2 146.4L1061.7 147.8L1060.2 147.6L1058.9 146.2L1057.2 142.0L1057.2 107.6L1058.4 104.2Z"/>
<path fill="#f4814c" d="M1059.7 102.7L1060.2 102.2L1061.7 102.0L1063.2 103.6L1064.2 105.7L1065.7 111.7L1066.6 120.7L1066.6 129.7L1065.6 138.7L1063.9 144.7L1063.0 146.2L1061.7 147.5L1060.2 147.3L1059.2 146.2L1058.4 144.7L1057.2 141.1L1057.2 108.4L1058.0 105.7Z"/>
<path fill="#f58649" d="M1059.9 102.7L1061.7 102.3L1063.2 104.0L1064.0 105.7L1065.5 111.7L1066.3 120.7L1066.3 129.7L1065.3 138.7L1063.6 144.7L1061.7 147.1L1060.2 146.9L1059.5 146.2L1058.0 143.2L1057.2 140.0L1057.2 109.4L1058.2 105.7Z"/>
<path fill="#f78a45" d="M1060.2 102.7L1061.9 102.7L1063.8 105.7L1065.2 111.7L1066.1 120.7L1066.0 129.7L1065.0 138.7L1063.3 144.7L1061.7 146.8L1060.2 146.6L1058.9 144.7L1057.2 138.8L1057.2 110.5L1058.4 105.7Z"/>
<path fill="#f88e42" d="M1059.3 104.2L1060.2 103.0L1061.7 102.7L1062.9 104.2L1063.6 105.7L1065.0 111.7L1065.7 119.2L1065.8 128.2L1065.0 137.2L1063.7 143.2L1063.0 144.7L1061.7 146.4L1060.2 146.2L1059.2 144.7L1058.1 141.7L1057.2 137.3L1057.2 111.9L1058.2 107.2Z"/>
<path fill="#f99340" d="M1059.5 104.2L1060.2 103.2L1061.7 103.0L1062.7 104.2L1063.4 105.7L1064.5 110.2L1065.5 119.2L1065.6 128.2L1064.8 137.2L1063.4 143.2L1061.7 146.1L1060.2 145.8L1058.8 143.2L1057.9 140.2L1057.2 135.4L1057.2 113.7L1058.0 108.7Z"/>
<path fill="#f99841" d="M1059.6 104.2L1060.2 103.5L1061.7 103.2L1062.6 104.2L1063.2 105.7L1064.3 110.2L1065.2 119.2L1065.3 128.2L1064.5 137.2L1063.2 143.2L1061.7 145.8L1060.2 145.5L1059.0 143.2L1057.9 138.7L1057.2 132.8L1057.3 114.7L1058.2 108.7Z"/>
<path fill="#f89d41" d="M1059.8 104.2L1060.2 103.7L1061.7 103.4L1063.0 105.7L1064.1 110.2L1065.0 119.2L1065.0 128.2L1064.3 137.2L1063.0 143.2L1061.7 145.4L1060.2 145.1L1059.2 143.2L1057.9 137.2L1057.3 129.7L1057.2 120.5L1057.7 113.2L1058.4 108.7Z"/>
<path fill="#f8a241" d="M1060.0 104.2L1061.7 103.6L1062.9 105.7L1064.1 111.7L1064.8 120.7L1064.8 128.2L1064.1 137.2L1062.8 143.2L1061.7 145.1L1060.2 144.7L1059.0 141.7L1057.9 135.7L1057.5 129.7L1057.4 120.7L1057.9 113.2L1058.9 107.2Z"/>
<path fill="#f8a742" d="M1060.4 104.2L1061.7 103.9L1062.7 105.7L1063.9 111.7L1064.6 120.7L1064.5 129.7L1063.9 137.2L1063.0 141.7L1061.7 144.7L1060.2 144.3L1059.1 141.7L1058.1 135.7L1057.7 128.2L1057.7 120.7L1058.1 113.2L1059.1 107.2Z"/>
<path fill="#f7ac42" d="M1061.3 104.2L1061.7 104.1L1062.6 105.7L1063.5 110.2L1064.4 122.2L1064.3 129.7L1063.7 137.2L1062.9 141.7L1061.7 144.4L1060.2 143.9L1059.0 140.2L1058.2 134.2L1057.8 125.2L1058.1 116.2L1058.9 108.7L1060.2 104.6Z"/>
<path fill="#f7b143" d="M1059.8 105.7L1060.2 104.9L1061.7 104.3L1062.4 105.7L1063.5 111.7L1064.0 117.7L1064.1 126.7L1063.7 134.2L1062.7 141.7L1061.7 144.0L1060.2 143.5L1059.5 141.7L1058.3 131.2L1058.3 116.2L1059.1 108.7Z"/>
<path fill="#f7b743" d="M1060.0 105.7L1060.2 105.3L1061.7 104.6L1062.3 105.7L1063.1 110.2L1063.8 117.7L1063.9 126.7L1063.5 134.2L1062.8 140.2L1061.7 143.7L1060.2 143.1L1059.7 141.7L1058.9 137.2L1058.5 131.2L1058.5 116.2L1059.3 108.7Z"/>
<path fill="#f6bc43" d="M1060.1 105.7L1061.7 104.9L1062.1 105.7L1062.8 108.7L1063.6 117.7L1063.4 132.7L1062.7 140.2L1061.7 143.3L1060.2 142.6L1059.5 140.2L1058.6 129.7L1058.8 114.7L1059.4 108.7Z"/>
<path fill="#f6c144" d="M1060.6 105.7L1061.7 105.2L1062.4 107.2L1063.4 119.2L1063.2 132.7L1062.5 140.2L1061.7 143.0L1060.2 142.1L1059.7 140.2L1058.9 129.7L1059.1 113.2L1059.8 107.2Z"/>
<path fill="#f6c54a" d="M1061.1 105.7L1061.7 105.4L1061.8 105.7L1062.5 108.7L1063.2 122.2L1062.7 137.2L1062.4 140.2L1061.7 142.5L1060.2 141.6L1059.9 140.2L1059.2 134.2L1059.0 126.7L1059.5 110.2L1060.2 106.5Z"/>
<path fill="#f7c954" d="M1060.1 107.2L1061.7 105.7L1062.3 108.7L1062.8 116.2L1062.8 131.2L1062.4 138.7L1061.7 142.1L1060.2 140.9L1059.4 132.7L1059.3 116.2Z"/>
<path fill="#f7ce5e" d="M1060.6 107.2L1061.7 106.2L1062.2 108.7L1062.6 117.7L1062.5 132.7L1062.3 138.7L1061.7 141.7L1060.2 140.2L1059.5 132.7L1059.6 114.7L1060.0 108.7Z"/>
<path fill="#f8d268" d="M1061.1 107.2L1061.7 106.7L1062.0 108.7L1062.4 119.2L1062.2 137.2L1061.7 141.1L1060.2 139.0L1059.7 131.2L1059.8 113.2L1060.2 108.7Z"/>
<path fill="#f8d673" d="M1060.8 108.7L1061.7 107.2L1062.2 123.7L1061.7 140.4L1060.2 137.5L1059.9 132.7L1059.9 114.7L1060.2 110.1Z"/>
<path fill="#f9da7d" d="M1061.5 108.7L1061.7 108.3L1061.7 139.3L1060.2 134.9L1060.1 131.2L1060.2 112.7Z"/>
</g>
<path d="M1062.2 135.8L1063.5 137.2L1090.2 180.6L1078 182C1078.2 190.3 1078.8 194.3 1079.0 197.0C1079.2 199.7 1079.3 201.6 1079.2 205.0C1079.1 208.4 1079.1 213.7 1078.6 217.6C1078.1 221.5 1077.0 225.2 1076.2 228.2C1075.4 231.2 1074.0 234.3 1073.6 235.5L1062.2 235.5Z" fill="#000"/>
<rect x="1079.2" y="180.6" width="38.5" height="8.8" rx="1" fill="#0a0a0a"/><rect x="1081.7" y="183.9" width="32.0" height="2.2" fill="#343434"/>
<path d="M1061.2 235.6H1108.4V307.4H1061.2" fill="#3e2884" stroke="#0a0a0a" stroke-width="3.6" stroke-linejoin="miter"/>
</g>
<g clip-path="url(#cp3)">
<g filter="url(#sm)"><rect x="828.0" y="356.3" width="214.2" height="320.5" fill="#462b89"/>
<path fill="#472b8a" d="M828.0 356.3L1003.5 356.3L1010.7 366.8L1017.1 377.3L1023.6 389.3L1029.2 401.3L1032.9 410.3L1036.6 420.8L1039.9 431.3L1042.5 441.5L1042.5 553.7L1037.8 570.8L1031.3 588.8L1023.9 605.3L1014.8 621.8L1004.9 636.8L993.2 651.8L981.0 665.0L967.6 677.3L828.0 677.3Z"/>
<path fill="#482b8b" d="M828.0 356.3L967.5 356.3L975.9 366.8L983.3 377.3L989.7 387.8L995.9 399.8L1001.2 411.8L1006.1 425.3L1009.6 437.3L1012.6 450.8L1015.3 468.8L1016.3 486.8L1015.9 504.8L1013.9 522.8L1010.3 540.8L1005.5 557.3L999.2 573.8L991.2 590.3L982.1 605.3L972.0 619.1L960.3 632.3L948.0 643.9L934.5 654.4L919.7 663.8L904.5 671.4L889.3 677.3L828.0 677.3Z"/>
<path fill="#4a2c8c" d="M828.0 356.3L938.8 356.3L949.5 367.7L959.3 380.3L967.9 393.8L975.5 408.8L981.5 423.8L986.4 440.3L989.6 456.8L991.4 473.3L991.7 489.8L990.5 506.3L987.9 522.8L983.7 539.3L977.8 555.8L970.8 570.8L962.9 584.3L953.2 597.8L942.0 610.5L930.0 621.5L918.0 630.5L904.5 638.7L891.0 645.0L876.0 650.3L861.0 653.7L846.0 655.4L837.0 655.7L828.0 655.4Z"/>
<path fill="#4b2c8d" d="M828.0 356.3L907.0 356.3L912.9 360.8L918.2 365.3L924.5 371.3L934.5 382.7L943.3 395.3L950.9 408.8L956.7 422.3L961.6 437.3L964.8 452.3L966.8 468.8L967.1 483.8L966.2 497.3L963.8 512.3L960.5 525.8L955.8 539.3L949.6 552.8L942.7 564.8L934.5 576.4L925.5 586.8L915.3 596.3L904.5 604.6L894.0 611.0L882.0 616.7L870.0 621.0L858.0 623.8L844.5 625.5L835.5 625.7L828.0 625.3Z"/>
<path fill="#4c2d8e" d="M828.0 356.3L885.7 356.3L892.5 360.2L898.0 363.8L909.0 372.5L918.3 381.8L926.8 392.3L933.6 402.8L939.9 414.8L944.8 426.8L948.9 440.3L951.6 453.8L953.1 467.3L953.3 480.8L952.3 494.3L950.1 507.8L947.0 519.8L942.7 531.8L937.2 543.8L931.2 554.3L924.0 564.5L916.0 573.8L907.5 581.9L898.5 588.9L888.0 595.5L877.5 600.7L865.5 604.9L855.0 607.3L843.0 608.7L835.5 608.9L828.0 608.5Z"/>
<path fill="#4d2d8f" d="M828.0 356.3L870.9 356.3L880.5 360.5L889.5 365.6L897.7 371.3L906.0 378.4L914.9 387.8L921.8 396.8L928.4 407.3L933.7 417.8L938.4 429.8L941.8 441.8L944.2 453.8L945.4 465.8L945.7 479.3L944.8 491.3L942.9 503.3L939.9 515.3L935.7 527.3L930.9 537.8L924.9 548.3L918.6 557.3L911.0 566.3L903.0 574.0L894.0 581.1L885.0 586.8L874.5 592.0L864.0 595.7L853.5 598.2L843.0 599.4L835.5 599.6L828.0 599.1Z"/>
<path fill="#4f2e90" d="M828.0 357.8L828.0 356.6L829.5 356.4L844.5 356.4L855.0 357.9L865.5 360.8L876.0 365.1L885.0 370.0L894.0 376.4L901.9 383.3L909.0 390.9L915.8 399.8L921.5 408.8L926.8 419.3L930.9 429.8L934.4 441.8L936.5 452.3L937.8 464.3L938.1 476.3L937.4 486.8L935.7 498.8L933.2 509.3L929.8 519.8L925.3 530.3L919.6 540.8L913.5 549.8L906.0 558.8L898.5 566.2L890.9 572.3L882.0 578.1L873.0 582.7L862.5 586.5L853.5 588.7L843.0 590.1L835.5 590.3L828.0 589.8Z"/>
<path fill="#502e91" d="M830.5 362.3L840.0 362.1L849.0 362.9L858.0 364.8L867.0 367.8L876.0 371.9L883.5 376.5L891.0 382.1L898.8 389.3L905.4 396.8L911.8 405.8L917.0 414.8L921.2 423.8L924.9 434.3L927.7 444.8L929.5 455.3L930.4 465.8L930.4 476.3L929.6 486.8L927.9 497.3L925.2 507.8L921.5 518.3L917.5 527.3L912.4 536.3L906.1 545.3L899.7 552.8L892.5 559.7L885.0 565.5L876.5 570.8L868.5 574.6L859.5 577.8L850.5 579.9L841.5 580.9L834.0 580.9L828.0 580.5L828.0 362.6Z"/>
<path fill="#512f92" d="M830.2 368.3L838.5 368.0L847.5 368.7L856.5 370.6L864.0 373.1L871.5 376.5L879.0 380.9L886.2 386.3L892.8 392.3L899.4 399.8L904.8 407.3L909.3 414.8L913.6 423.8L917.0 432.8L919.9 443.3L921.6 452.3L922.7 462.8L922.8 473.3L922.2 482.3L920.7 492.8L918.5 501.8L915.6 510.8L911.9 519.8L907.1 528.8L901.5 537.1L895.5 544.5L889.5 550.5L882.0 556.7L874.5 561.5L867.0 565.3L858.0 568.6L850.5 570.5L841.5 571.6L834.0 571.6L828.0 571.1L828.0 368.5Z"/>
<path fill="#532f93" d="M832.0 372.8L840.0 372.6L847.5 373.4L855.0 375.0L862.5 377.5L870.0 381.1L877.5 385.7L883.9 390.8L890.2 396.8L895.5 403.1L900.6 410.3L904.9 417.8L909.0 426.8L912.2 435.8L914.5 444.8L916.0 453.8L916.9 464.3L916.8 474.8L915.9 483.8L914.3 492.8L912.0 501.8L909.0 510.2L905.4 518.3L901.2 525.8L896.0 533.3L889.6 540.8L883.5 546.6L877.5 551.3L870.3 555.8L862.5 559.5L855.0 562.0L847.5 563.6L840.0 564.4L834.0 564.4L828.0 563.8L828.0 373.2Z"/>
<path fill="#542f94" d="M828.1 375.8L835.5 375.2L843.0 375.4L850.5 376.6L858.0 378.6L865.5 381.7L871.5 385.0L879.0 390.2L885.0 395.5L891.0 402.0L896.2 408.8L900.8 416.3L904.5 423.8L908.0 432.8L910.6 441.8L912.4 450.8L913.4 459.8L913.6 470.3L913.1 479.3L911.8 488.3L909.7 497.3L906.7 506.3L903.6 513.8L899.6 521.3L894.8 528.8L889.5 535.4L883.5 541.5L877.5 546.5L870.3 551.3L864.0 554.6L856.5 557.5L849.0 559.4L841.5 560.3L834.0 560.4L828.0 559.8Z"/>
<path fill="#553095" d="M828.0 378.8L828.0 378.4L832.5 377.9L841.5 377.8L849.0 378.9L856.5 380.9L864.0 383.9L870.0 387.2L876.0 391.3L882.4 396.8L888.0 402.7L892.7 408.8L897.4 416.3L901.2 423.8L904.3 431.3L907.0 440.3L908.9 449.3L910.0 458.3L910.4 467.3L910.0 476.3L908.9 485.3L906.9 494.3L904.1 503.3L901.0 510.8L897.2 518.3L892.5 525.6L887.7 531.8L882.0 537.8L876.0 542.9L870.0 547.0L864.0 550.3L856.5 553.3L849.0 555.3L841.5 556.3L834.0 556.4L828.0 555.8Z"/>
<path fill="#563096" d="M834.9 380.3L841.5 380.4L849.0 381.5L855.6 383.3L862.5 386.1L868.5 389.4L874.5 393.5L880.0 398.3L885.0 403.5L889.5 409.2L894.1 416.3L898.0 423.8L901.1 431.3L903.4 438.8L905.5 447.8L906.5 455.3L907.1 464.3L906.9 473.3L906.1 480.8L904.5 489.7L902.4 497.3L899.8 504.8L896.3 512.3L892.5 519.0L887.8 525.8L882.6 531.8L877.5 536.7L871.5 541.4L865.5 545.1L859.5 548.0L852.0 550.5L846.0 551.8L838.5 552.5L832.5 552.3L828.0 551.7L828.0 381.0Z"/>
<path fill="#583197" d="M829.9 383.3L837.0 382.8L843.0 383.1L850.5 384.5L856.5 386.4L862.5 389.0L868.5 392.5L874.5 397.0L880.5 402.7L885.7 408.8L889.8 414.8L893.2 420.8L896.7 428.3L899.4 435.8L901.4 443.3L902.8 450.8L903.7 459.8L903.8 468.8L903.3 476.3L901.9 485.3L900.2 492.8L897.7 500.3L894.6 507.8L891.0 514.5L886.6 521.3L882.0 527.0L877.3 531.8L871.5 536.7L865.5 540.6L859.5 543.7L853.5 546.0L847.5 547.5L840.0 548.4L834.0 548.4L828.0 547.7L828.0 383.6Z"/>
<path fill="#593198" d="M828.0 386.3L834.0 385.5L840.0 385.4L847.5 386.4L853.5 388.0L859.5 390.4L865.5 393.7L871.5 398.0L876.0 402.0L880.9 407.3L885.4 413.3L889.1 419.3L892.8 426.8L895.7 434.3L897.8 441.8L899.3 449.3L900.2 456.8L900.6 465.8L900.2 473.3L899.3 480.8L897.8 488.3L895.6 495.8L892.7 503.3L889.0 510.8L885.2 516.8L880.7 522.8L876.0 527.8L871.5 531.8L865.5 536.1L859.5 539.4L853.5 541.8L847.5 543.4L841.5 544.3L834.0 544.4L828.0 543.6Z"/>
<path fill="#5a3299" d="M828.0 389.3L828.0 388.8L831.0 388.3L838.5 387.9L844.5 388.5L850.5 389.8L856.5 391.9L862.5 395.0L867.5 398.3L873.0 402.9L877.5 407.6L882.0 413.3L885.8 419.3L888.9 425.3L892.0 432.8L894.3 440.3L895.9 447.8L896.9 455.3L897.3 462.8L897.1 470.3L896.3 477.8L895.0 485.3L892.9 492.8L890.1 500.3L887.3 506.3L883.5 512.8L879.0 519.0L874.5 524.0L870.0 528.1L865.1 531.8L859.5 535.0L853.5 537.6L847.5 539.4L841.5 540.3L834.0 540.4L828.0 539.6Z"/>
<path fill="#5c329a" d="M831.8 390.8L837.0 390.5L843.0 390.8L849.0 392.1L853.5 393.5L859.5 396.3L864.0 399.1L868.8 402.8L873.5 407.3L877.5 412.0L881.5 417.8L884.9 423.8L887.6 429.8L889.8 435.8L891.8 443.3L893.2 450.8L893.9 458.3L894.0 465.8L893.5 473.3L892.5 480.3L891.0 486.8L888.7 494.3L886.3 500.3L883.2 506.3L879.5 512.3L876.0 516.8L871.5 521.7L866.8 525.8L861.0 529.8L856.5 532.2L850.5 534.5L846.0 535.6L840.0 536.4L834.0 536.4L828.0 535.5L828.0 391.4Z"/>
<path fill="#5d339b" d="M828.6 393.8L832.5 393.1L838.5 392.8L843.0 393.2L849.0 394.5L853.5 396.1L859.5 399.1L864.0 402.1L869.8 407.3L875.2 413.3L878.4 417.8L881.0 422.3L884.0 428.3L886.8 435.8L888.5 441.8L890.5 453.8L890.9 462.8L890.6 470.3L890.0 476.3L888.8 482.3L885.8 492.8L882.6 500.3L879.3 506.3L875.2 512.3L871.5 516.6L867.0 520.9L862.5 524.5L859.5 526.4L853.5 529.5L849.0 531.0L841.5 532.5L834.0 532.6L828.0 531.7L828.0 393.9Z"/>
<path fill="#5e339c" d="M830.1 395.3L835.5 394.7L840.0 394.7L846.0 395.6L850.5 396.9L855.0 398.8L859.5 401.3L864.0 404.6L868.7 408.8L872.7 413.3L876.0 417.9L879.5 423.8L882.3 429.8L884.5 435.8L886.2 441.8L887.5 447.8L888.4 455.3L888.6 461.3L888.4 468.8L887.5 476.3L886.4 482.3L884.2 489.8L882.0 495.6L879.0 501.7L876.3 506.3L873.0 510.9L868.5 516.0L864.0 520.0L859.5 523.3L855.0 525.8L850.5 527.7L846.0 529.0L840.0 529.9L834.0 529.8L828.0 528.9L828.0 395.7Z"/>
<path fill="#5f339d" d="M831.8 396.8L837.0 396.4L841.5 396.6L847.5 397.8L852.0 399.4L856.5 401.6L861.0 404.6L865.5 408.3L868.9 411.8L872.6 416.3L875.5 420.8L878.0 425.3L880.7 431.3L882.8 437.3L884.4 443.3L885.5 449.3L886.3 456.8L886.4 464.3L886.0 470.3L885.2 476.3L883.9 482.3L882.2 488.3L879.9 494.3L877.5 499.3L874.3 504.8L871.0 509.3L867.1 513.8L863.8 516.8L859.5 520.1L855.0 522.8L850.5 524.8L846.0 526.2L840.0 527.1L834.0 527.1L828.0 526.1L828.0 397.5Z"/>
<path fill="#61349e" d="M833.9 398.3L838.5 398.2L843.0 398.6L847.5 399.7L852.0 401.4L856.5 403.7L861.0 406.9L864.9 410.3L868.5 414.2L872.3 419.3L875.0 423.8L877.2 428.3L879.7 434.3L881.5 440.3L882.8 446.3L884.1 458.3L884.1 465.8L883.5 471.8L882.5 477.8L881.1 483.8L877.3 494.3L874.5 499.7L871.5 504.5L868.5 508.4L864.9 512.3L861.0 515.8L856.5 518.9L852.0 521.3L847.5 522.9L843.0 524.0L838.5 524.5L832.5 524.2L828.0 523.3L828.0 399.4Z"/>
<path fill="#62349f" d="M828.0 401.3L832.5 400.2L837.0 399.9L841.5 400.2L846.0 401.1L850.5 402.6L855.0 404.9L858.6 407.3L862.5 410.6L866.5 414.8L869.9 419.3L875.0 428.3L877.5 434.3L879.3 440.3L880.6 446.3L881.5 452.3L881.9 464.3L881.4 470.3L880.5 476.3L879.1 482.3L877.1 488.3L874.6 494.3L872.2 498.8L869.3 503.3L865.7 507.8L862.5 511.1L858.0 514.8L853.5 517.6L849.0 519.6L844.5 520.9L840.0 521.6L834.0 521.6L828.0 520.5Z"/>
<path fill="#6335a0" d="M828.8 402.8L832.5 402.0L837.0 401.6L841.5 401.9L846.0 402.9L849.8 404.3L853.5 406.1L857.5 408.8L861.1 411.8L864.0 414.8L867.6 419.3L870.5 423.8L873.5 429.8L877.1 440.3L878.5 446.3L879.3 452.3L879.7 458.3L879.6 464.3L879.1 470.3L878.1 476.3L875.1 486.8L873.0 491.9L870.2 497.3L867.3 501.8L864.0 505.9L860.6 509.3L856.5 512.6L853.5 514.5L849.0 516.7L844.5 518.1L840.0 518.9L834.0 518.9L828.0 517.6L828.0 403.0Z"/>
<path fill="#6535a1" d="M829.9 404.3L834.0 403.3L838.5 403.2L841.5 403.5L846.0 404.6L850.5 406.3L853.5 408.0L860.1 413.3L866.5 420.8L870.8 428.3L873.8 435.8L875.5 441.8L877.1 450.8L877.4 462.8L876.7 471.8L875.6 477.8L873.8 483.8L870.8 491.3L869.2 494.3L866.5 498.8L861.6 504.8L855.0 510.6L850.5 513.3L847.5 514.6L840.0 516.3L834.0 516.3L828.0 515.0L828.0 404.7Z"/>
<path fill="#6635a1" d="M828.2 405.8L832.5 404.7L835.5 404.4L840.0 404.4L844.5 405.2L849.0 406.8L852.0 408.4L858.6 413.3L862.8 417.8L865.0 420.8L867.9 425.3L870.1 429.8L873.4 438.8L874.9 444.8L875.8 450.8L876.3 456.8L876.2 462.8L874.8 474.8L871.8 485.3L867.6 494.3L862.4 501.8L859.5 505.0L855.0 508.8L851.9 510.8L847.5 512.9L844.5 513.9L840.0 514.7L834.0 514.7L828.0 513.3Z"/>
<path fill="#6836a1" d="M831.2 405.8L835.5 405.2L838.5 405.1L843.0 405.7L846.0 406.6L850.5 408.5L853.5 410.3L857.3 413.3L860.3 416.3L862.9 419.3L865.9 423.8L870.4 432.8L873.5 443.3L875.0 453.8L875.2 459.8L875.0 465.8L873.3 476.3L871.7 482.3L870.0 486.8L865.5 495.6L862.5 499.8L859.5 503.3L853.5 508.4L850.5 510.2L846.0 512.1L843.0 513.0L838.5 513.6L832.5 513.2L828.0 512.0L828.0 406.7Z"/>
<path fill="#6a36a2" d="M828.9 407.3L832.5 406.4L837.0 405.9L841.5 406.3L844.5 407.0L849.0 408.7L851.9 410.3L857.7 414.8L861.0 418.4L863.9 422.3L868.1 429.8L869.9 434.3L871.8 440.3L873.7 450.8L874.2 456.8L874.1 462.8L872.9 473.3L870.0 483.8L865.8 492.8L860.6 500.3L857.8 503.3L854.3 506.3L850.5 508.8L847.5 510.2L844.5 511.3L840.0 512.2L834.0 512.1L828.0 510.6L828.0 407.6Z"/>
<path fill="#6c37a2" d="M832.0 407.3L838.5 406.8L842.4 407.3L846.0 408.3L849.0 409.6L852.7 411.8L856.4 414.8L859.3 417.8L861.8 420.8L864.7 425.3L868.9 434.3L871.5 443.3L873.0 453.8L873.0 464.3L871.4 474.8L868.8 483.8L864.5 492.8L859.5 499.8L856.5 502.9L853.5 505.4L849.7 507.8L846.0 509.5L843.0 510.4L838.5 511.0L832.5 510.6L828.0 509.3L828.0 408.5Z"/>
<path fill="#6d37a2" d="M829.5 408.8L835.5 407.6L840.0 407.7L843.0 408.3L847.5 409.8L850.5 411.4L853.5 413.5L856.7 416.3L859.5 419.3L862.5 423.4L866.7 431.3L869.8 440.3L871.7 450.8L872.1 461.3L870.9 471.8L868.7 480.8L864.9 489.8L862.2 494.3L859.5 498.0L856.5 501.3L853.5 503.9L847.5 507.5L844.5 508.6L840.0 509.6L834.0 509.6L828.0 508.0L828.0 409.4Z"/>
<path fill="#6f37a2" d="M832.7 408.8L837.0 408.4L840.0 408.5L846.0 410.1L852.0 413.4L855.5 416.3L858.3 419.3L861.0 422.8L863.5 426.8L866.9 434.3L869.5 443.3L870.9 453.8L870.8 464.3L869.5 473.3L867.0 482.3L865.1 486.8L862.8 491.3L858.0 498.0L855.0 501.0L852.0 503.5L846.0 506.8L842.9 507.8L838.5 508.5L832.5 508.0L828.0 506.6L828.0 410.2Z"/>
<path fill="#7138a2" d="M830.2 410.3L834.0 409.4L837.0 409.2L843.0 409.9L847.5 411.6L850.4 413.3L855.8 417.8L861.0 424.4L865.3 432.8L868.1 441.8L869.8 452.3L869.9 462.8L868.7 471.8L866.3 480.8L862.3 489.8L858.0 496.1L855.0 499.4L852.0 502.0L846.0 505.4L843.0 506.5L838.5 507.2L832.5 506.7L828.0 505.3L828.0 411.1Z"/>
<path fill="#7338a3" d="M833.6 410.3L837.0 410.0L840.0 410.2L846.0 411.9L849.0 413.4L852.0 415.5L857.3 420.8L859.5 423.8L862.2 428.3L865.4 435.8L867.8 444.8L868.9 453.8L868.7 464.3L867.3 473.3L864.6 482.3L861.0 489.8L856.5 496.1L853.5 499.2L850.5 501.6L847.5 503.4L844.5 504.7L838.5 505.9L832.5 505.4L828.0 503.9L828.0 412.0Z"/>
<path fill="#7639a3" d="M833.3 411.8L837.0 411.4L840.0 411.6L843.0 412.3L846.0 413.4L849.0 415.1L852.0 417.4L856.5 422.2L860.4 428.3L863.6 435.8L866.0 444.8L867.1 453.8L867.0 462.8L865.7 471.8L863.1 480.8L859.6 488.3L855.4 494.3L850.5 499.0L847.5 500.9L844.5 502.4L841.5 503.3L838.5 503.7L835.5 503.7L832.5 503.2L828.0 501.5L828.0 413.6Z"/>
<path fill="#7939a3" d="M833.1 413.3L838.5 412.9L841.5 413.3L844.5 414.3L847.5 415.9L850.2 417.8L854.6 422.3L856.8 425.3L859.4 429.8L862.4 437.3L864.2 444.8L865.3 453.8L865.1 462.8L863.8 471.8L861.6 479.3L858.2 486.8L854.0 492.8L849.0 497.4L844.5 500.0L841.5 501.0L838.5 501.5L835.5 501.5L832.5 500.9L828.0 499.1L828.0 415.3Z"/>
<path fill="#7c3aa4" d="M832.3 414.8L835.5 414.0L838.5 414.0L841.5 414.6L844.5 415.6L849.0 418.5L852.9 422.3L857.1 428.3L859.9 434.3L861.8 440.3L863.0 446.3L863.5 450.8L863.7 459.8L862.8 468.8L860.4 477.8L857.1 485.3L852.9 491.3L850.5 493.9L847.5 496.3L843.0 498.6L838.5 499.6L834.0 499.4L829.5 497.8L828.0 497.0L828.0 416.7Z"/>
<path fill="#7f3ba4" d="M830.8 416.3L835.5 415.1L838.5 415.0L841.5 415.6L846.4 417.8L849.0 419.7L851.6 422.3L855.8 428.3L858.7 434.3L861.0 441.8L862.4 450.8L862.5 459.8L861.5 468.8L859.6 476.3L856.5 483.6L853.5 488.5L849.0 493.4L844.5 496.4L841.5 497.6L838.5 498.1L835.5 498.1L832.5 497.5L828.0 495.4L828.0 417.8Z"/>
<path fill="#823ba5" d="M833.7 416.3L838.5 415.9L843.0 417.0L847.5 419.7L852.0 424.3L855.5 429.8L858.6 437.3L860.4 444.8L861.3 452.3L861.3 461.3L860.3 468.8L858.3 476.3L855.8 482.3L852.0 488.3L847.7 492.8L843.0 495.6L838.5 496.7L835.5 496.7L832.5 496.0L828.0 493.7L828.0 418.9L831.0 417.2Z"/>
<path fill="#853ca5" d="M832.0 417.8L834.0 417.2L837.0 416.8L841.5 417.5L846.0 419.8L850.4 423.8L854.4 429.8L857.0 435.8L859.0 443.3L860.1 450.8L860.2 459.8L859.3 467.3L857.5 474.8L855.1 480.8L851.6 486.8L847.5 491.2L843.0 494.1L838.5 495.3L835.5 495.2L832.5 494.5L828.0 492.1L828.0 420.0Z"/>
<path fill="#883da5" d="M835.6 417.8L840.0 418.0L844.5 419.9L849.0 423.7L852.4 428.3L855.3 434.3L857.2 440.3L858.6 447.8L859.1 455.3L858.7 462.8L857.5 470.3L855.7 476.3L852.9 482.3L849.9 486.8L846.0 490.7L841.5 493.2L837.0 493.9L832.5 493.0L828.0 490.4L828.0 421.2L831.0 419.2Z"/>
<path fill="#8b3da6" d="M833.2 419.3L837.0 418.6L841.5 419.4L846.0 422.1L849.1 425.3L852.1 429.8L854.7 435.8L856.8 443.3L857.8 450.8L857.9 458.3L857.1 465.8L855.4 473.3L853.1 479.3L850.5 483.9L846.8 488.3L843.0 491.0L838.5 492.4L835.5 492.4L832.5 491.5L828.0 488.6L828.0 422.4L831.0 420.3Z"/>
<path fill="#8e3ea6" d="M832.0 420.8L835.5 419.6L840.0 419.9L842.4 420.8L844.5 422.1L847.9 425.3L850.9 429.8L853.6 435.8L855.3 441.8L856.5 449.3L856.8 456.8L856.1 464.3L854.6 471.8L852.4 477.8L849.0 483.8L846.0 487.2L842.3 489.8L838.5 491.0L835.5 490.9L832.5 490.0L829.7 488.3L828.0 486.9L828.0 423.7Z"/>
<path fill="#923fa5" d="M834.6 420.8L838.5 420.5L841.5 421.4L845.1 423.8L848.9 428.3L851.3 432.8L853.5 438.8L854.8 444.8L855.6 452.3L855.4 459.8L854.4 467.3L852.8 473.3L850.5 478.9L847.5 483.7L844.5 486.8L841.5 488.7L840.0 489.2L837.0 489.6L834.0 489.1L832.5 488.5L829.9 486.8L828.0 485.0L828.0 425.1L831.0 422.4Z"/>
<path fill="#9540a3" d="M833.0 422.3L835.5 421.3L838.5 421.2L840.0 421.6L843.0 423.1L846.8 426.8L849.6 431.3L851.6 435.8L852.9 440.3L854.4 449.3L854.6 455.3L854.3 461.3L853.0 468.8L851.2 474.8L848.2 480.8L845.9 483.8L843.0 486.4L840.0 487.9L838.5 488.2L834.0 487.8L831.0 486.1L828.0 483.2L828.0 426.5L829.5 424.7Z"/>
<path fill="#9940a2" d="M834.6 422.3L837.0 421.7L838.5 421.8L841.5 422.9L844.6 425.3L848.1 429.8L850.9 435.8L852.6 441.8L853.8 452.3L853.7 458.3L852.8 465.8L851.4 471.8L849.7 476.3L848.2 479.3L844.5 484.1L843.0 485.3L840.0 486.9L837.0 487.5L835.5 487.3L832.5 486.1L829.7 483.8L828.0 481.8L828.0 427.4L829.8 425.3L832.5 423.1Z"/>
<path fill="#9c41a0" d="M832.4 423.8L835.5 422.5L838.5 422.4L841.5 423.5L845.4 426.8L848.3 431.3L850.2 435.8L851.9 441.8L852.8 447.8L853.2 455.3L852.8 461.3L851.9 467.3L850.2 473.3L848.2 477.8L845.3 482.3L841.8 485.3L838.5 486.6L835.5 486.5L832.5 485.3L830.6 483.8L828.0 480.8L828.0 428.2L830.5 425.3Z"/>
<path fill="#a0429f" d="M833.3 423.8L835.5 422.9L837.0 422.7L840.0 423.3L843.0 425.1L845.9 428.3L848.5 432.8L850.6 438.8L851.9 444.8L852.5 450.8L852.5 458.3L851.9 464.3L850.5 470.3L848.3 476.3L845.7 480.8L843.0 483.7L840.0 485.5L837.0 486.0L834.0 485.3L832.5 484.5L830.0 482.3L828.0 479.8L828.0 429.0L831.0 425.4Z"/>
<path fill="#a3439d" d="M834.3 423.8L837.0 423.2L840.0 423.7L843.0 425.6L846.0 429.2L848.0 432.8L850.1 438.8L851.4 444.8L852.0 450.8L851.9 458.3L851.3 464.3L849.9 470.3L848.4 474.8L846.0 479.3L843.0 482.9L840.0 484.8L837.0 485.3L834.0 484.6L832.5 483.7L829.5 480.8L828.0 478.7L828.0 429.8L831.0 426.0Z"/>
<path fill="#a7449c" d="M835.7 423.8L838.5 423.7L841.5 425.0L844.5 427.9L846.7 431.3L848.6 435.8L850.0 440.3L851.0 446.3L851.5 452.3L851.4 458.3L850.7 464.3L849.3 470.3L847.7 474.8L845.3 479.3L843.0 482.0L840.0 484.1L837.0 484.6L834.0 483.9L832.5 482.9L830.3 480.8L828.0 477.5L828.0 430.8L831.0 426.6L834.0 424.4Z"/>
<path fill="#ab459a" d="M833.3 425.3L835.5 424.2L838.5 424.1L841.5 425.5L844.3 428.3L846.9 432.8L848.7 437.3L850.1 443.3L850.8 449.3L850.9 455.3L850.4 462.8L848.8 470.3L847.1 474.8L845.6 477.8L843.0 481.2L840.0 483.3L837.0 484.0L835.5 483.7L832.5 482.2L829.8 479.3L828.0 476.3L828.0 431.8L830.1 428.3Z"/>
<path fill="#b04798" d="M834.5 425.3L837.0 424.5L838.5 424.7L840.0 425.3L841.5 426.2L843.0 427.6L845.5 431.3L846.9 434.3L848.4 438.8L849.6 444.8L850.2 450.8L850.2 456.8L849.7 462.8L848.4 468.8L847.0 473.3L844.6 477.8L842.2 480.8L840.0 482.3L838.5 483.0L837.0 483.1L834.0 482.1L832.2 480.8L829.7 477.8L828.0 474.5L828.0 433.2L828.8 431.3L830.9 428.3L832.5 426.6Z"/>
<path fill="#b64895" d="M835.9 425.3L838.5 425.3L840.0 425.9L842.9 428.3L845.0 431.3L846.3 434.3L848.2 440.3L849.2 446.3L849.6 452.3L849.5 458.3L848.7 464.3L847.8 468.8L846.3 473.3L843.9 477.8L841.5 480.5L840.0 481.6L837.0 482.3L834.0 481.3L832.5 480.2L830.5 477.8L828.0 472.9L828.0 434.6L829.5 431.3L831.5 428.3L834.0 426.1Z"/>
<path fill="#bb4993" d="M833.7 426.8L835.5 425.9L837.0 425.6L838.5 425.7L841.5 427.5L843.5 429.8L845.8 434.3L847.2 438.8L848.2 443.3L848.9 449.3L849.0 455.3L848.6 461.3L847.5 467.3L846.2 471.8L844.1 476.3L841.9 479.3L840.0 480.8L838.5 481.4L837.0 481.6L834.4 480.8L832.5 479.3L830.3 476.3L828.0 471.2L828.0 436.0L829.3 432.8L830.9 429.8Z"/>
<path fill="#c04a91" d="M834.6 426.8L837.0 426.0L838.5 426.2L839.9 426.8L841.7 428.3L843.8 431.3L845.8 435.8L847.1 440.3L847.9 444.8L848.4 450.8L848.0 461.3L846.9 467.3L845.6 471.8L843.4 476.3L841.5 478.8L840.0 480.0L838.5 480.7L837.0 480.9L835.5 480.6L834.0 479.8L832.0 477.8L830.1 474.8L828.0 469.3L828.0 437.7L830.6 431.3L832.5 428.5Z"/>
<path fill="#c44c8e" d="M835.5 426.8L837.0 426.5L838.5 426.6L840.0 427.4L842.4 429.8L844.1 432.8L846.5 440.3L847.3 444.8L847.8 450.8L847.8 456.8L847.2 462.8L846.3 467.3L845.0 471.8L843.6 474.8L841.5 477.9L840.0 479.3L838.5 480.0L837.0 480.2L835.5 479.9L834.0 479.0L831.7 476.3L829.4 471.8L828.0 467.0L828.0 439.7L829.1 435.8L831.1 431.3L833.3 428.3Z"/>
<path fill="#c84f89" d="M833.9 428.3L835.5 427.3L837.0 426.9L838.5 427.1L840.4 428.3L842.8 431.3L844.3 434.3L845.7 438.8L846.6 443.3L847.2 449.3L847.0 459.8L846.1 465.8L844.9 470.3L843.0 474.8L841.5 477.0L840.0 478.5L838.5 479.3L837.0 479.5L835.5 479.1L834.0 478.2L831.4 474.8L829.5 470.3L828.0 464.1L828.1 441.8L829.6 435.8L830.8 432.8L832.6 429.8Z"/>
<path fill="#cc5285" d="M834.6 428.3L837.0 427.2L838.5 427.5L840.0 428.4L842.4 431.3L843.8 434.3L845.6 440.3L846.8 450.8L846.8 455.3L846.2 461.3L845.6 465.8L844.3 470.3L842.4 474.8L841.3 476.3L840.0 477.7L838.5 478.6L837.0 478.9L835.5 478.4L834.0 477.4L831.2 473.3L829.6 468.8L828.5 464.3L828.0 459.9L828.0 446.3L828.5 441.8L830.0 435.8L831.2 432.8L833.0 429.8Z"/>
<path fill="#d05480" d="M835.3 428.3L837.0 427.6L838.5 427.9L840.9 429.8L842.7 432.8L844.0 435.8L845.4 441.8L846.2 450.8L845.6 462.8L843.9 470.3L842.6 473.3L840.7 476.3L838.5 477.9L837.0 478.3L835.5 477.7L834.0 476.6L831.7 473.3L830.0 468.8L829.0 464.3L828.2 456.8L828.4 446.3L830.0 437.3L831.6 432.8L833.5 429.8Z"/>
<path fill="#d4577c" d="M836.1 428.3L837.0 427.9L838.5 428.3L840.0 429.3L842.4 432.8L843.6 435.8L845.1 441.8L845.8 452.3L845.2 462.8L843.5 470.3L842.2 473.3L840.1 476.3L838.5 477.4L837.0 477.7L835.5 477.3L833.1 474.8L830.4 468.8L829.0 461.3L828.5 453.8L828.9 444.8L830.3 437.3L832.0 432.8L832.9 431.3L834.0 429.8Z"/>
<path fill="#d85978" d="M834.4 429.8L835.5 428.8L837.0 428.3L838.5 428.6L840.1 429.8L842.1 432.8L843.7 437.3L844.7 441.8L845.4 449.3L845.2 459.8L843.6 468.8L841.8 473.3L840.9 474.8L838.5 477.0L837.0 477.3L835.5 476.8L834.0 475.4L831.9 471.8L830.1 465.8L828.9 456.8L829.0 447.8L830.3 438.8L832.4 432.8Z"/>
<path fill="#dc5c73" d="M834.7 429.8L837.0 428.6L838.5 428.9L840.0 430.1L841.7 432.8L843.4 437.3L844.0 440.3L845.1 449.3L844.8 459.8L843.2 468.8L842.1 471.8L840.5 474.8L838.5 476.6L837.0 476.9L835.5 476.4L834.0 474.9L832.3 471.8L830.5 465.8L829.3 456.8L829.4 447.8L830.7 438.8L832.7 432.8Z"/>
<path fill="#df5f6f" d="M835.1 429.8L837.0 428.8L838.5 429.2L840.0 430.5L841.4 432.8L842.6 435.8L843.7 440.3L844.8 449.3L844.5 459.8L842.8 468.8L841.8 471.8L840.0 474.8L838.5 476.2L837.0 476.5L835.5 475.9L834.4 474.8L832.0 470.3L830.3 462.8L829.6 455.3L829.8 446.3L831.0 438.8L833.0 432.8Z"/>
<path fill="#e3616a" d="M835.4 429.8L837.0 429.1L838.5 429.5L840.0 430.9L841.2 432.8L842.3 435.8L843.4 440.3L844.4 449.3L844.2 459.8L842.5 468.8L841.4 471.8L840.0 474.3L838.5 475.7L837.0 476.1L835.5 475.5L834.8 474.8L833.7 473.3L832.4 470.3L830.6 462.8L829.9 455.3L830.2 446.3L831.3 438.8L833.2 432.8Z"/>
<path fill="#e76466" d="M835.9 429.8L837.0 429.3L838.6 429.8L840.0 431.3L841.5 434.3L843.4 441.8L844.2 450.8L843.8 459.8L842.2 468.8L840.0 473.7L838.5 475.3L837.0 475.7L835.5 475.0L834.1 473.3L832.2 468.8L830.7 461.3L830.2 453.8L830.5 446.3L831.6 438.8L833.5 432.8L834.4 431.3Z"/>
<path fill="#ea6762" d="M836.5 429.8L837.0 429.6L838.5 430.0L839.7 431.3L841.8 435.8L843.3 443.3L843.9 452.3L843.3 461.3L841.8 468.8L839.9 473.3L838.5 474.8L837.0 475.3L835.5 474.5L834.5 473.3L832.6 468.8L831.3 462.8L830.6 453.8L830.9 444.8L832.2 437.3L834.0 432.4L835.5 430.4Z"/>
<path fill="#eb6c5e" d="M835.0 431.3L837.0 429.9L838.5 430.3L840.3 432.8L841.5 435.8L842.6 440.3L843.5 449.3L843.3 458.3L841.9 467.3L841.1 470.3L839.5 473.3L838.5 474.4L837.0 474.9L835.5 474.1L834.9 473.3L832.8 468.8L831.6 462.8L831.0 456.8L830.9 449.3L831.6 441.8L832.9 435.8Z"/>
<path fill="#ed705b" d="M835.2 431.3L837.0 430.1L838.5 430.6L840.8 434.3L842.3 440.3L843.1 449.3L843.1 456.8L842.0 465.8L840.8 470.3L840.0 471.9L838.5 474.0L837.0 474.5L835.3 473.3L833.1 468.8L831.9 462.8L831.2 455.3L831.3 447.8L831.9 441.8L833.1 435.8Z"/>
<path fill="#ef7457" d="M835.5 431.3L837.0 430.3L838.5 430.9L840.5 434.3L842.0 440.3L842.8 449.3L842.7 458.3L841.7 465.8L841.0 468.8L839.8 471.8L838.5 473.6L837.0 474.1L835.5 473.1L834.6 471.8L833.4 468.8L832.2 462.8L831.5 455.3L831.6 447.8L832.2 441.8L833.4 435.8L834.5 432.8Z"/>
<path fill="#f07954" d="M835.9 431.3L837.0 430.6L838.5 431.2L840.3 434.3L842.0 441.8L842.6 449.3L842.3 459.8L841.1 467.3L839.5 471.8L838.5 473.1L837.0 473.8L835.5 472.7L834.9 471.8L833.7 468.8L832.5 462.8L831.8 455.3L831.9 447.8L832.7 440.3L834.1 434.3Z"/>
<path fill="#f27d50" d="M836.2 431.3L837.0 430.8L838.5 431.5L839.4 432.8L840.5 435.8L841.9 443.3L842.3 450.8L842.0 459.8L840.8 467.3L839.2 471.8L838.5 472.7L837.0 473.4L835.2 471.8L833.6 467.3L832.6 461.3L832.1 453.8L832.3 446.3L833.2 438.8L834.4 434.3L835.0 432.8Z"/>
<path fill="#f3814c" d="M836.6 431.3L837.0 431.0L838.5 431.8L840.3 435.8L841.4 441.8L842.0 450.8L841.7 459.8L840.5 467.3L838.9 471.8L837.0 473.1L835.5 471.7L833.9 467.3L832.8 461.3L832.4 452.3L832.6 444.8L833.4 438.8L834.6 434.3L835.5 432.4Z"/>
<path fill="#f58549" d="M836.9 431.3L838.5 432.1L839.0 432.8L840.4 437.3L841.4 443.3L841.8 452.3L841.3 461.3L840.3 467.3L839.4 470.3L838.6 471.8L837.0 472.7L835.5 471.2L834.1 467.3L833.0 459.8L832.6 452.3L832.9 444.8L834.0 437.3L835.5 432.8Z"/>
<path fill="#f78a45" d="M835.7 432.8L837.0 431.5L838.5 432.5L839.4 434.3L840.8 440.3L841.4 447.8L841.4 456.8L840.6 464.3L839.1 470.3L838.5 471.4L837.0 472.4L835.5 470.7L834.3 467.3L833.4 461.3L833.0 455.3L833.0 447.8L833.5 441.8L834.5 435.8Z"/>
<path fill="#f88e42" d="M835.9 432.8L837.0 431.7L838.5 432.8L839.2 434.3L840.5 440.3L841.2 449.3L841.1 456.8L840.4 464.3L838.9 470.3L838.5 471.0L837.0 472.0L835.6 470.3L834.6 467.3L833.6 461.3L833.2 455.3L833.2 447.8L833.7 441.8L834.7 435.8Z"/>
<path fill="#f99340" d="M836.1 432.8L837.0 431.9L838.2 432.8L839.1 434.3L840.5 441.8L840.9 449.3L840.8 458.3L839.9 465.8L838.6 470.3L837.0 471.7L835.8 470.3L834.8 467.3L833.8 459.8L833.4 453.8L833.6 446.3L834.1 440.3L834.9 435.8Z"/>
<path fill="#f99841" d="M836.3 432.8L837.0 432.1L838.0 432.8L839.3 435.8L840.2 441.8L840.7 449.3L840.5 458.3L839.7 465.8L838.5 470.0L837.0 471.4L835.5 468.9L834.7 465.8L833.7 453.8L833.8 446.3L834.3 440.3L835.1 435.8Z"/>
<path fill="#f89d41" d="M836.5 432.8L837.0 432.3L837.7 432.8L838.7 434.3L839.1 435.8L840.1 443.3L840.4 450.8L840.3 458.3L839.5 465.8L838.5 469.4L837.0 471.1L835.6 468.8L834.9 465.8L834.0 453.8L834.6 440.3L835.7 434.3Z"/>
<path fill="#f8a241" d="M836.7 432.8L837.0 432.5L837.4 432.8L838.5 434.3L839.2 437.3L839.9 443.3L840.2 450.8L839.9 459.8L839.3 465.8L838.5 468.9L837.0 470.8L835.8 468.8L834.9 464.3L834.2 452.3L834.4 444.8L834.9 438.8L835.8 434.3Z"/>
<path fill="#f8a742" d="M836.9 432.8L838.3 434.3L839.1 437.3L839.7 443.3L839.9 450.8L839.3 464.3L838.3 468.8L837.0 470.5L836.0 468.8L835.1 464.3L834.4 452.3L834.6 444.8L835.2 438.8L836.0 434.3Z"/>
<path fill="#f7ac42" d="M836.1 434.3L837.0 432.9L838.1 434.3L838.6 435.8L839.3 440.3L839.7 447.8L839.6 456.8L839.1 464.3L838.1 468.8L837.0 470.2L836.2 468.8L835.8 467.3L835.0 461.3L834.7 455.3L834.9 443.3Z"/>
<path fill="#f7b143" d="M836.2 434.3L837.0 433.1L838.0 434.3L838.5 436.4L839.1 440.3L839.5 447.8L839.4 456.8L838.9 464.3L837.9 468.8L837.0 469.9L836.3 468.8L836.0 467.3L834.9 455.3L835.1 443.3Z"/>
<path fill="#f7b743" d="M836.4 434.3L837.0 433.3L837.8 434.3L838.5 437.3L839.2 447.8L838.9 462.8L838.1 467.3L837.6 468.8L837.0 469.6L836.2 467.3L835.5 461.3L835.1 453.8L835.3 443.3Z"/>
<path fill="#f6bc43" d="M836.5 434.3L837.0 433.5L837.6 434.3L838.5 438.6L839.0 449.3L838.6 462.8L837.9 467.3L837.0 469.3L836.3 467.3L835.4 453.8L835.5 444.4Z"/>
<path fill="#f6c144" d="M836.6 434.3L837.0 433.7L837.5 434.3L838.5 440.6L838.8 449.3L838.5 462.0L837.7 467.3L837.0 469.0L836.5 467.3L835.7 452.3Z"/>
<path fill="#f6c54a" d="M836.8 434.3L837.0 433.9L837.3 434.3L838.5 444.3L838.6 449.3L838.5 458.3L837.4 467.3L837.0 468.6L836.7 467.3L836.1 452.3Z"/>
<path fill="#f7c954" d="M836.9 434.3L837.1 434.3L838.0 450.8L837.0 468.0L836.6 452.3Z"/>
</g>
<rect x="834.0" y="362.3" width="1.3" height="308.5" fill="#0a0a14"/>
<rect x="834.0" y="431.0" width="3.7" height="35" fill="#000"/>
<path d="M837.7 463.8C838.3 464.8 840.1 467.4 841.5 469.5C842.9 471.6 844.6 474.1 846.0 476.5C847.4 478.9 848.8 481.5 850.0 484.0C851.2 486.5 852.4 488.9 853.4 491.5C854.4 494.1 855.3 496.9 856.2 499.5C857.1 502.1 858.0 504.6 859.0 507.0C860.0 509.4 861.3 511.7 862.4 513.6C863.5 515.5 864.6 517.1 865.8 518.6C867.0 520.1 868.0 521.4 869.4 522.9C870.8 524.4 872.5 526.3 874.0 527.8C875.5 529.3 877.2 530.7 878.7 531.9C880.2 533.1 881.5 534.2 883.0 535.2C884.5 536.2 885.7 536.9 888.0 538.0C890.3 539.1 893.9 540.5 897.0 541.9C900.1 543.3 898.7 542.5 906.7 546.2C914.7 549.9 923.2 553.4 945.0 563.9C966.8 574.4 1022.1 601.7 1037.5 609.2L1037.5 616.6C1022.1 609.1 964.9 581.2 945.0 571.6C925.1 562.0 925.1 562.2 918.4 559.2C911.7 556.2 908.9 555.0 905.0 553.4C901.1 551.8 898.2 550.6 895.0 549.6C891.8 548.6 888.7 547.8 886.0 547.2C883.3 546.6 881.2 546.3 878.7 546.0C876.2 545.7 873.3 545.6 871.0 545.6C868.7 545.6 866.9 545.7 864.7 545.9C862.5 546.1 860.0 546.6 858.0 547.0C856.0 547.4 854.7 547.9 853.0 548.4C851.3 548.9 849.5 549.6 848.0 550.2C846.5 550.8 845.3 551.4 843.7 552.2C842.1 553.0 840.3 554.1 838.5 555.2C836.7 556.3 833.9 558.4 833.0 559.0L833.0 463.8Z" fill="#000"/>
<rect x="855.4" y="506.8" width="35.4" height="7.8" rx="1" fill="#0a0a0a"/><rect x="857.9" y="509.6" width="28.9" height="2.2" fill="#343434"/>
<path d="M832.0 561.1H882.3V631.5H832.0" fill="#412a87" stroke="#0a0a0a" stroke-width="3.4" stroke-linejoin="miter"/>
</g>
<g clip-path="url(#cp4)">
<g filter="url(#sm)"><rect x="1057.2" y="356.3" width="214.0" height="320.5" fill="#532f94"/>
<path fill="#543095" d="M1057.2 356.3L1263.8 356.3L1271.7 365.5L1271.7 677.3L1057.2 677.3ZM1097.7 504.8L1097.1 504.8L1115.7 506.0L1116.7 504.8L1115.7 504.3Z"/>
<path fill="#563096" d="M1057.2 356.3L1224.6 356.3L1238.7 372.8L1251.4 389.3L1271.7 402.8L1271.7 677.3L1057.2 677.3ZM1081.2 504.7L1081.2 505.3L1083.0 506.3L1115.7 506.9L1117.6 506.3L1117.6 504.8L1117.2 504.1L1115.7 503.4L1082.7 504.3Z"/>
<path fill="#573197" d="M1057.2 356.3L1207.7 356.3L1218.5 369.8L1228.7 384.8L1252.2 408.6L1271.7 422.4L1271.7 677.3L1057.2 677.3ZM1090.2 503.3L1082.7 503.5L1081.2 503.9L1080.6 504.8L1080.6 506.3L1081.2 506.8L1082.7 507.0L1115.7 507.6L1117.2 507.3L1118.4 506.3L1117.3 503.3L1115.7 502.9Z"/>
<path fill="#583198" d="M1057.2 356.3L1191.8 356.3L1202.0 368.3L1211.8 381.8L1233.6 404.3L1259.7 433.7L1271.7 443.1L1271.7 677.3L1057.2 677.3ZM1081.2 503.2L1080.0 504.8L1079.7 506.3L1081.2 507.5L1082.7 507.6L1115.7 508.1L1117.4 507.8L1119.0 506.3L1117.9 503.3L1117.2 502.7L1115.7 502.5Z"/>
<path fill="#5a3199" d="M1057.2 356.3L1176.8 356.3L1186.4 366.8L1196.9 380.3L1211.5 395.3L1225.0 410.3L1250.0 440.3L1264.2 453.3L1271.7 458.2L1271.7 677.3L1057.2 677.3ZM1081.2 502.8L1080.4 503.3L1079.7 504.4L1079.2 506.3L1079.7 507.0L1081.2 508.0L1115.7 508.5L1117.2 508.3L1118.3 507.8L1119.5 506.3L1118.4 503.3L1117.2 502.3L1115.7 502.0Z"/>
<path fill="#5b329a" d="M1057.2 356.3L1163.3 356.3L1172.2 365.3L1183.6 378.8L1192.4 387.8L1200.5 396.8L1232.2 435.8L1265.7 467.4L1271.7 471.8L1271.7 677.3L1057.2 677.3ZM1105.2 501.8L1081.2 502.4L1079.7 503.6L1078.7 506.3L1079.7 507.7L1081.2 508.4L1115.7 508.9L1117.2 508.8L1118.7 508.0L1120.0 506.3L1118.9 503.3L1117.2 501.9Z"/>
<path fill="#5c329b" d="M1057.2 356.3L1149.6 356.3L1160.7 366.6L1170.3 377.3L1179.3 386.3L1187.6 395.3L1201.2 411.8L1215.5 431.3L1222.2 438.2L1250.8 465.8L1265.7 481.2L1271.7 486.4L1271.7 677.3L1057.2 677.3ZM1087.2 501.8L1081.2 502.1L1079.5 503.3L1078.2 506.3L1079.3 507.8L1081.2 508.8L1115.7 509.3L1117.2 509.2L1118.7 508.5L1120.4 506.3L1119.2 503.3L1117.2 501.5Z"/>
<path fill="#5d339c" d="M1057.2 356.3L1135.3 356.3L1141.2 360.8L1148.0 366.8L1172.1 390.8L1180.1 399.8L1187.4 408.8L1201.6 428.3L1225.2 453.4L1249.4 477.8L1271.7 497.2L1271.7 677.3L1057.2 677.3ZM1081.2 501.7L1079.1 503.3L1077.8 506.3L1078.7 507.8L1081.2 509.2L1115.7 509.7L1117.2 509.5L1118.7 508.9L1120.0 507.8L1120.8 506.3L1119.9 504.8L1119.6 503.3L1118.7 502.0L1117.2 501.2Z"/>
<path fill="#5f339d" d="M1057.2 356.3L1121.9 356.3L1127.7 360.1L1133.7 364.6L1139.7 369.7L1152.6 381.8L1159.9 389.3L1175.0 407.3L1189.3 426.8L1226.7 467.7L1229.6 470.3L1241.7 479.5L1252.4 488.3L1260.5 495.8L1271.7 507.2L1271.7 677.3L1057.2 677.3ZM1081.2 501.4L1079.7 502.2L1078.8 503.3L1077.5 506.3L1078.2 507.8L1079.7 509.0L1081.2 509.6L1117.2 509.9L1118.7 509.3L1120.2 508.1L1121.2 506.3L1120.2 504.8L1119.9 503.3L1118.9 501.8L1117.2 500.8Z"/>
<path fill="#60349e" d="M1057.2 356.3L1107.9 356.3L1117.2 361.4L1126.2 367.5L1143.0 381.8L1154.7 393.8L1165.5 407.3L1176.5 423.8L1180.2 428.6L1210.6 462.8L1212.0 464.3L1238.7 484.8L1249.7 494.3L1260.0 504.8L1268.6 515.3L1271.7 519.6L1271.7 677.3L1057.2 677.3ZM1079.7 501.8L1078.5 503.3L1077.1 506.3L1078.2 508.2L1079.7 509.4L1081.2 509.9L1117.2 510.2L1118.7 509.7L1120.2 508.6L1121.6 506.3L1120.5 504.8L1120.3 503.3L1119.3 501.8L1117.2 500.5L1082.7 501.0L1081.2 501.1Z"/>
<path fill="#61349f" d="M1057.2 356.3L1089.5 356.3L1091.7 356.9L1101.9 360.8L1110.7 365.3L1118.7 370.4L1129.2 378.4L1139.8 387.8L1150.8 399.8L1158.8 410.3L1167.7 423.8L1184.7 446.3L1196.4 459.8L1222.0 479.3L1240.4 494.3L1246.8 500.3L1252.2 506.0L1256.3 510.8L1260.6 516.8L1265.8 525.8L1268.6 531.8L1270.5 537.8L1271.7 544.4L1271.7 566.9L1269.3 633.8L1267.5 656.3L1264.8 677.3L1057.2 677.3ZM1102.2 500.3L1081.2 500.9L1079.7 501.5L1078.1 503.3L1076.7 506.3L1078.2 508.7L1079.7 509.7L1081.2 510.2L1115.7 510.6L1117.2 510.5L1119.9 509.3L1121.3 507.8L1122.0 506.3L1120.8 504.8L1120.6 503.3L1119.8 501.8L1118.7 500.8L1117.2 500.1Z"/>
<path fill="#6334a0" d="M1057.2 360.8L1057.2 359.8L1058.7 359.6L1064.7 359.3L1072.2 359.6L1081.2 360.9L1090.2 363.2L1099.2 366.7L1106.7 370.6L1117.2 377.3L1124.7 382.9L1135.2 392.5L1145.5 404.3L1152.1 413.3L1157.9 422.3L1183.0 456.8L1186.2 459.8L1217.7 483.4L1232.7 495.8L1239.2 501.8L1244.7 507.5L1248.7 512.3L1253.0 518.3L1257.4 525.8L1260.2 531.8L1262.9 540.8L1264.0 549.8L1262.4 636.8L1261.0 657.8L1258.8 677.3L1057.2 677.3ZM1088.7 500.3L1081.2 500.6L1079.7 501.2L1077.5 503.3L1077.3 504.8L1076.4 506.3L1077.1 507.8L1078.4 509.3L1081.2 510.5L1115.7 510.9L1118.7 510.4L1120.2 509.5L1121.7 507.8L1122.3 506.3L1121.1 504.8L1120.9 503.3L1120.2 501.8L1118.7 500.4L1117.2 499.8Z"/>
<path fill="#6435a1" d="M1057.2 366.8L1057.2 366.2L1060.2 365.8L1069.2 365.7L1079.7 367.0L1085.7 368.5L1094.7 371.8L1103.7 376.3L1111.2 380.8L1118.8 386.3L1128.7 395.3L1138.2 406.2L1172.6 455.3L1186.2 467.3L1212.4 486.8L1235.7 506.3L1244.9 515.3L1248.5 519.8L1251.6 524.3L1254.8 530.3L1257.5 537.8L1258.7 543.8L1259.2 551.3L1257.7 636.8L1256.3 657.8L1254.0 677.3L1057.2 677.3ZM1081.2 500.3L1079.7 500.9L1076.9 503.3L1076.9 504.8L1076.0 506.3L1077.9 509.3L1079.7 510.4L1081.2 510.8L1117.2 511.1L1118.7 510.7L1120.8 509.3L1122.0 507.8L1122.7 506.3L1121.4 504.8L1121.2 503.3L1120.2 501.3L1118.7 500.1L1117.2 499.5Z"/>
<path fill="#6535a1" d="M1061.3 369.8L1067.7 369.7L1073.7 370.1L1081.2 371.5L1087.2 373.3L1094.7 376.3L1100.7 379.3L1107.1 383.3L1113.0 387.8L1121.1 395.3L1129.2 404.8L1134.1 411.8L1139.7 420.8L1149.5 434.3L1162.4 453.8L1172.2 462.8L1186.2 474.7L1208.6 491.3L1220.3 498.8L1231.2 507.1L1237.0 512.3L1241.2 516.8L1244.8 521.3L1247.8 525.8L1250.9 531.8L1253.0 537.8L1254.2 543.8L1254.7 551.3L1252.9 638.3L1251.5 657.8L1249.1 677.3L1057.2 677.3L1057.2 503.9L1075.2 505.2L1076.4 507.8L1078.2 509.9L1080.0 510.8L1082.7 511.2L1117.2 511.4L1119.2 510.8L1121.3 509.3L1123.1 506.3L1121.7 504.8L1121.5 503.3L1120.2 500.9L1118.7 499.7L1117.2 499.1L1081.2 500.0L1076.7 502.3L1069.2 502.3L1058.7 501.3L1057.2 501.5L1057.2 370.2Z"/>
<path fill="#6736a1" d="M1057.2 374.3L1057.2 374.0L1061.7 373.5L1069.2 373.5L1076.7 374.4L1084.2 376.2L1091.4 378.8L1097.6 381.8L1103.7 385.5L1109.7 390.0L1115.5 395.3L1119.8 399.8L1127.7 409.9L1137.8 426.8L1144.2 439.2L1152.4 452.3L1153.7 453.8L1166.7 465.8L1186.2 482.1L1191.0 485.3L1201.2 490.7L1210.2 496.0L1217.7 501.0L1224.8 506.3L1230.2 510.8L1234.8 515.3L1238.8 519.8L1243.0 525.8L1246.2 531.8L1248.4 537.8L1249.7 543.8L1250.2 551.3L1248.1 638.3L1246.7 657.8L1244.3 677.3L1057.2 677.3L1057.2 505.1L1075.2 506.3L1076.7 508.8L1078.2 510.2L1079.7 511.0L1082.7 511.4L1117.2 511.7L1119.8 510.8L1121.7 509.3L1123.4 506.3L1122.0 504.8L1121.3 501.8L1120.2 500.4L1118.7 499.3L1117.2 498.8L1082.7 499.6L1081.2 499.7L1078.2 501.1L1076.7 501.3L1067.7 501.0L1057.2 500.3Z"/>
<path fill="#6936a2" d="M1059.1 377.3L1066.2 376.9L1072.2 377.3L1078.2 378.3L1084.2 379.9L1090.2 382.2L1096.2 385.3L1102.2 389.1L1106.7 392.5L1111.5 396.8L1115.8 401.3L1120.7 407.3L1124.9 413.3L1134.4 429.8L1139.5 440.3L1144.6 452.3L1147.2 456.0L1159.3 467.3L1175.5 480.8L1202.7 495.2L1211.7 500.8L1219.4 506.3L1226.6 512.3L1231.2 516.8L1235.7 522.1L1239.2 527.3L1242.2 533.3L1244.3 539.3L1245.3 545.3L1245.7 551.3L1244.5 587.3L1243.3 639.8L1241.8 659.3L1239.5 677.3L1057.2 677.3L1057.2 505.8L1075.2 506.9L1076.7 509.3L1078.2 510.6L1081.2 511.7L1115.7 512.1L1118.7 511.6L1120.4 510.8L1122.1 509.3L1123.8 506.3L1122.2 504.8L1121.7 502.0L1120.6 500.3L1118.7 498.9L1117.2 498.4L1082.7 499.4L1081.2 499.5L1078.2 500.4L1057.2 499.6L1057.2 377.5Z"/>
<path fill="#6b36a2" d="M1057.2 381.8L1057.2 381.1L1058.7 380.9L1067.7 380.5L1075.2 381.3L1081.2 382.7L1087.2 384.9L1093.2 387.8L1098.1 390.8L1103.7 395.0L1108.9 399.8L1113.1 404.3L1116.7 408.8L1120.8 414.8L1127.0 425.3L1131.0 432.8L1134.4 440.3L1139.3 452.3L1147.2 464.6L1158.8 474.8L1164.8 479.3L1196.7 495.4L1205.7 500.7L1213.2 505.8L1219.6 510.8L1226.1 516.8L1230.1 521.3L1234.5 527.3L1237.6 533.3L1239.7 539.3L1240.8 545.3L1241.2 551.3L1239.6 596.3L1238.6 639.8L1237.0 659.3L1234.6 677.3L1057.2 677.3L1057.2 506.5L1075.2 507.5L1076.3 509.3L1078.0 510.8L1081.2 511.9L1115.7 512.3L1118.7 511.9L1120.9 510.8L1122.5 509.3L1124.2 506.3L1122.5 504.8L1122.0 501.8L1121.0 500.3L1118.7 498.5L1117.2 498.1L1082.7 499.1L1078.2 499.8L1069.2 499.6L1057.2 498.8Z"/>
<path fill="#6c37a2" d="M1057.2 384.8L1061.7 384.1L1067.7 384.0L1073.7 384.6L1079.7 386.0L1084.9 387.8L1090.2 390.3L1095.9 393.8L1100.7 397.5L1104.9 401.3L1109.1 405.8L1112.7 410.3L1116.8 416.3L1122.1 425.3L1126.0 432.8L1129.4 440.3L1134.1 452.3L1142.1 465.8L1145.7 471.4L1147.2 473.0L1151.1 476.3L1153.7 477.8L1174.2 487.4L1189.2 494.9L1198.2 499.9L1206.1 504.8L1214.3 510.8L1220.7 516.5L1226.4 522.8L1230.6 528.8L1233.7 534.8L1235.2 539.3L1236.4 545.3L1236.8 551.3L1234.6 639.8L1233.1 659.3L1230.7 677.3L1057.2 677.3L1057.2 507.0L1075.2 508.1L1077.6 510.8L1079.7 511.9L1081.2 512.2L1115.7 512.6L1118.7 512.2L1121.4 510.8L1122.9 509.3L1124.5 506.3L1122.8 504.8L1122.4 501.8L1121.5 500.3L1119.9 498.8L1117.2 497.7L1088.7 498.6L1078.2 499.2L1057.2 498.3Z"/>
<path fill="#6e37a2" d="M1060.0 387.8L1064.7 387.3L1069.2 387.5L1075.2 388.3L1081.2 390.1L1090.2 394.4L1097.7 399.9L1102.4 404.3L1107.6 410.3L1111.2 415.3L1115.5 422.3L1118.9 428.3L1122.5 435.8L1129.0 452.3L1137.3 467.3L1142.0 474.8L1143.3 476.3L1145.7 478.0L1166.7 487.3L1178.7 493.0L1192.2 500.0L1200.3 504.8L1210.2 511.7L1216.2 516.7L1223.4 524.3L1227.6 530.3L1229.9 534.8L1232.0 540.8L1233.0 546.8L1233.3 552.8L1231.0 639.8L1229.5 659.3L1227.0 677.3L1057.2 677.3L1057.2 507.5L1075.2 508.7L1076.7 510.5L1078.2 511.5L1081.2 512.5L1115.7 512.9L1118.7 512.5L1121.7 510.9L1123.3 509.3L1124.9 506.3L1123.1 504.8L1122.7 501.8L1121.7 499.9L1120.2 498.5L1117.2 497.3L1079.7 498.7L1069.2 498.5L1057.2 497.7L1057.2 388.1Z"/>
<path fill="#7037a2" d="M1057.2 390.8L1057.2 390.4L1060.2 389.9L1066.2 389.6L1072.2 390.1L1076.7 391.1L1081.2 392.6L1085.7 394.6L1090.2 397.3L1094.7 400.7L1099.2 404.9L1103.9 410.3L1108.0 416.3L1111.4 422.3L1116.5 432.8L1120.6 443.3L1123.1 450.8L1130.0 464.3L1136.0 474.8L1139.7 477.8L1145.7 481.7L1162.2 488.7L1174.2 494.2L1192.2 503.3L1201.2 508.6L1208.6 513.8L1215.5 519.8L1220.8 525.8L1224.8 531.8L1226.9 536.3L1228.8 542.3L1229.5 546.8L1229.8 552.8L1227.4 639.8L1225.8 659.3L1223.3 677.3L1057.2 677.3L1057.2 507.9L1073.7 508.8L1075.2 509.2L1076.6 510.8L1078.2 511.8L1081.2 512.7L1115.7 513.2L1118.7 512.8L1121.7 511.3L1123.7 509.3L1125.3 506.3L1123.4 504.8L1123.1 501.8L1121.7 499.3L1120.2 497.9L1117.2 496.8L1085.7 498.1L1070.7 498.0L1057.2 497.1Z"/>
<path fill="#7138a3" d="M1058.8 392.3L1064.7 391.7L1070.7 392.0L1076.7 393.3L1081.2 394.9L1085.7 397.1L1090.2 400.1L1095.3 404.3L1099.6 408.8L1103.1 413.3L1106.0 417.8L1111.6 428.3L1115.6 438.8L1118.6 450.8L1120.2 455.5L1129.9 474.8L1135.9 479.3L1144.2 484.6L1178.7 499.3L1189.2 504.4L1197.7 509.3L1205.7 514.9L1211.5 519.8L1217.0 525.8L1221.1 531.8L1223.3 536.3L1225.2 542.3L1226.0 546.8L1226.2 552.8L1223.7 641.3L1222.2 659.3L1219.5 677.3L1057.2 677.3L1057.2 508.3L1073.7 509.3L1075.2 509.7L1078.2 512.1L1081.2 513.0L1115.7 513.4L1118.7 513.1L1121.7 511.7L1124.2 509.3L1125.7 506.3L1123.8 504.8L1123.5 501.8L1121.9 498.8L1120.2 497.4L1117.2 496.3L1085.7 497.8L1070.7 497.5L1057.2 496.6L1057.2 392.6Z"/>
<path fill="#7438a3" d="M1064.7 393.8L1070.7 394.1L1075.2 395.1L1079.7 396.6L1084.2 398.8L1088.7 401.7L1093.2 405.5L1096.4 408.8L1100.1 413.3L1103.1 417.8L1106.5 423.8L1110.6 432.8L1113.6 441.8L1119.2 464.3L1120.2 467.1L1124.1 474.8L1133.7 481.9L1144.2 488.2L1163.7 495.4L1174.2 499.8L1186.2 505.5L1195.2 510.6L1202.7 515.8L1209.0 521.3L1214.4 527.3L1218.2 533.3L1220.3 537.8L1221.7 542.3L1222.4 546.8L1222.7 552.8L1220.3 641.3L1218.8 659.3L1216.2 677.3L1057.2 677.3L1057.2 508.8L1073.7 509.7L1075.2 510.1L1078.2 512.5L1081.2 513.3L1117.2 513.7L1120.2 512.9L1123.2 510.9L1124.6 509.3L1126.2 506.3L1124.1 504.8L1124.0 501.8L1122.5 498.8L1120.2 496.7L1117.2 495.8L1085.7 497.5L1082.7 497.0L1070.7 497.0L1057.2 496.1L1057.2 394.8Z"/>
<path fill="#7739a3" d="M1058.6 398.3L1063.2 397.6L1067.7 397.5L1073.7 398.5L1078.2 400.1L1082.7 402.4L1087.6 405.8L1092.3 410.3L1096.0 414.8L1099.0 419.3L1102.4 425.3L1106.8 435.8L1109.6 446.3L1112.8 461.3L1114.9 473.3L1115.3 474.8L1117.2 477.9L1126.2 484.3L1135.9 489.8L1142.7 492.6L1156.2 496.9L1168.2 501.5L1177.2 505.6L1189.2 511.8L1196.7 516.6L1204.3 522.8L1209.8 528.8L1213.7 534.8L1215.7 539.3L1216.9 543.8L1217.6 548.3L1217.8 554.3L1215.8 639.8L1214.2 659.3L1211.4 677.3L1057.2 677.3L1057.2 509.5L1073.7 510.4L1075.2 510.9L1078.2 513.0L1081.2 513.8L1117.2 514.2L1120.2 513.4L1123.2 511.6L1125.4 509.3L1127.0 506.3L1124.7 504.8L1124.7 501.8L1124.4 500.3L1123.2 497.9L1121.7 496.2L1118.7 494.8L1115.7 494.6L1087.2 496.7L1082.7 496.1L1070.7 496.1L1057.2 495.3L1057.2 398.6Z"/>
<path fill="#7a3aa4" d="M1057.5 401.3L1063.2 400.2L1067.7 400.1L1072.2 400.8L1076.7 402.3L1081.2 404.6L1085.7 407.9L1089.7 411.8L1093.3 416.3L1097.0 422.3L1099.2 426.8L1103.0 437.3L1104.4 443.3L1107.6 462.8L1109.1 474.8L1112.3 480.8L1115.7 485.4L1119.4 488.3L1123.2 490.1L1130.7 492.5L1141.2 496.4L1151.7 499.5L1165.2 504.0L1174.2 507.7L1183.2 512.1L1191.2 516.8L1199.1 522.8L1204.9 528.8L1209.0 534.8L1211.1 539.3L1212.4 543.8L1213.1 548.3L1213.3 554.3L1211.3 639.8L1209.6 659.3L1206.7 677.3L1057.2 677.3L1057.2 510.1L1073.7 511.0L1078.2 513.5L1081.2 514.2L1117.2 514.7L1120.2 514.0L1123.2 512.3L1126.2 509.3L1127.9 506.3L1125.5 504.8L1125.6 500.3L1124.1 495.8L1121.7 493.3L1118.7 492.4L1106.3 494.3L1088.7 496.0L1087.2 496.0L1084.2 495.2L1070.7 495.3L1057.2 494.4L1057.2 401.4Z"/>
<path fill="#7d3aa4" d="M1060.9 402.8L1066.2 402.3L1070.7 402.8L1075.2 404.2L1079.7 406.5L1084.2 409.8L1087.7 413.3L1091.2 417.8L1094.8 423.8L1098.6 432.8L1101.1 441.8L1102.1 447.8L1103.1 458.3L1103.1 474.8L1104.8 479.3L1109.1 488.3L1109.5 489.8L1108.5 491.3L1104.8 492.8L1096.2 494.3L1090.2 495.0L1088.7 495.0L1084.2 494.1L1070.7 494.4L1057.2 493.5L1057.2 403.8ZM1127.6 498.8L1129.2 497.5L1132.2 497.5L1148.7 501.7L1163.7 506.5L1177.2 512.3L1187.7 518.3L1195.5 524.3L1198.6 527.3L1202.3 531.8L1204.3 534.8L1206.5 539.3L1208.2 545.3L1208.8 552.8L1207.2 630.8L1205.5 654.8L1203.9 666.8L1202.0 677.3L1057.2 677.3L1057.2 510.8L1073.7 511.7L1078.2 514.0L1081.2 514.7L1115.7 515.2L1118.7 514.9L1121.7 513.9L1124.2 512.3L1127.1 509.3L1129.0 506.3L1126.4 504.8Z"/>
<path fill="#803ba4" d="M1058.5 405.8L1063.2 404.7L1067.7 404.7L1072.2 405.6L1076.7 407.4L1081.2 410.4L1085.7 414.7L1089.2 419.3L1092.6 425.3L1094.6 429.8L1096.7 435.8L1098.1 441.8L1099.0 447.8L1100.0 461.3L1099.1 474.8L1099.3 479.3L1099.9 483.8L1101.2 488.3L1101.3 489.8L1099.8 491.3L1095.5 492.8L1090.2 493.8L1084.2 492.9L1070.7 493.5L1057.2 492.6L1057.2 406.3ZM1129.3 501.8L1130.7 500.9L1133.7 500.9L1150.2 505.0L1163.7 509.5L1175.7 514.9L1184.7 520.2L1192.2 526.0L1197.6 531.8L1200.5 536.3L1202.0 539.3L1203.8 545.3L1204.5 552.8L1203.1 632.3L1202.4 644.3L1201.2 656.3L1199.7 666.8L1197.7 677.3L1057.2 677.3L1057.2 511.5L1073.7 512.3L1078.2 514.6L1081.2 515.2L1117.2 515.7L1120.2 515.1L1123.1 513.8L1125.2 512.3L1128.1 509.3L1130.4 506.3L1127.6 504.8Z"/>
<path fill="#833ba5" d="M1061.5 407.3L1066.2 406.9L1070.7 407.5L1075.2 409.2L1079.2 411.8L1082.7 415.1L1086.1 419.3L1089.7 425.3L1092.3 431.3L1094.2 437.3L1095.4 443.3L1096.4 452.3L1096.7 459.8L1096.4 467.3L1095.4 474.8L1094.9 486.8L1093.9 489.8L1091.9 491.3L1085.7 491.3L1076.7 492.2L1070.7 492.5L1064.7 492.4L1057.2 491.5L1057.2 408.8ZM1129.9 504.8L1130.7 504.2L1133.7 503.8L1147.2 506.9L1162.2 511.7L1173.6 516.8L1181.7 521.5L1189.2 527.4L1194.5 533.3L1196.7 536.7L1198.7 540.8L1200.3 546.8L1200.7 552.8L1199.3 632.3L1198.6 644.3L1197.4 656.3L1195.8 666.8L1193.7 677.3L1057.2 677.3L1057.2 512.1L1073.7 513.0L1078.2 515.1L1081.2 515.8L1117.2 516.2L1120.2 515.7L1124.3 513.8L1126.3 512.3L1132.7 506.3Z"/>
<path fill="#863ca5" d="M1058.6 410.3L1060.2 409.6L1063.2 409.0L1067.7 408.9L1072.2 410.0L1076.7 412.5L1079.7 415.0L1082.3 417.8L1086.4 423.8L1089.1 429.8L1091.1 435.8L1092.9 444.8L1093.6 458.3L1093.2 465.8L1090.9 482.3L1090.1 485.3L1089.1 486.8L1086.9 488.3L1082.6 489.8L1076.7 490.9L1069.2 491.6L1063.2 491.3L1057.2 490.4L1057.2 410.9ZM1134.1 507.8L1136.7 507.4L1139.7 507.6L1151.7 510.6L1163.7 514.8L1173.9 519.8L1181.7 524.9L1187.9 530.3L1192.5 536.3L1195.4 542.3L1196.5 546.8L1197.0 552.8L1195.5 633.8L1194.7 645.8L1193.5 656.3L1191.9 666.8L1189.7 677.3L1057.2 677.3L1057.2 512.8L1073.7 513.7L1078.2 515.7L1081.2 516.3L1117.2 516.8L1120.2 516.3L1123.2 515.2L1125.6 513.8L1132.2 508.7Z"/>
<path fill="#893da5" d="M1062.9 410.3L1067.7 410.2L1072.2 411.4L1076.7 414.1L1081.2 418.6L1084.6 423.8L1087.4 429.8L1089.7 437.3L1091.0 444.8L1091.4 455.3L1090.6 464.3L1086.9 480.8L1085.8 483.8L1084.7 485.3L1083.0 486.8L1079.9 488.3L1074.7 489.8L1070.7 490.4L1064.7 490.5L1057.2 489.2L1057.2 412.4L1060.2 411.0ZM1131.8 510.8L1133.7 510.0L1136.7 509.6L1144.2 510.8L1157.7 515.0L1163.7 517.4L1169.7 520.3L1178.3 525.8L1184.7 531.4L1187.5 534.8L1189.5 537.8L1192.0 543.8L1192.9 548.3L1193.2 552.8L1191.7 635.3L1190.9 645.8L1189.7 656.3L1187.9 666.8L1185.7 677.3L1057.2 677.3L1057.2 513.5L1073.7 514.4L1078.2 516.3L1081.2 516.9L1117.2 517.4L1120.2 517.0L1123.2 516.0Z"/>
<path fill="#8c3da6" d="M1061.8 411.8L1066.2 411.3L1070.7 412.2L1075.5 414.8L1079.7 418.9L1083.1 423.8L1085.9 429.8L1088.1 437.3L1089.4 444.8L1089.7 453.8L1089.0 462.8L1087.4 470.3L1084.2 479.3L1081.7 483.8L1078.2 486.8L1073.7 488.6L1069.2 489.4L1063.2 489.2L1057.2 487.9L1057.2 413.9ZM1132.3 512.3L1135.2 511.7L1138.2 511.8L1146.9 513.8L1157.7 517.4L1168.2 522.4L1175.7 527.3L1180.8 531.8L1185.5 537.8L1188.2 543.8L1189.2 548.3L1189.5 552.8L1187.9 635.3L1187.1 645.8L1185.7 656.3L1183.9 666.8L1181.5 677.3L1057.2 677.3L1057.2 514.3L1073.7 515.1L1078.2 517.0L1081.2 517.5L1117.2 518.0L1120.2 517.7L1123.2 516.8Z"/>
<path fill="#8f3ea6" d="M1061.2 413.3L1063.2 412.7L1066.2 412.5L1070.7 413.5L1075.2 416.2L1078.3 419.3L1081.5 423.8L1084.3 429.8L1086.6 437.3L1087.8 444.8L1088.1 453.8L1087.3 462.8L1085.5 470.3L1082.7 477.8L1080.1 482.3L1077.1 485.3L1073.7 487.1L1069.2 488.1L1063.2 488.0L1057.2 486.4L1057.2 415.4ZM1134.6 513.8L1139.7 514.3L1150.2 517.1L1160.6 521.3L1168.2 525.4L1174.7 530.3L1179.1 534.8L1182.2 539.3L1184.6 545.3L1185.2 548.3L1185.5 552.8L1183.8 636.8L1182.9 647.3L1181.4 657.8L1179.4 668.3L1177.1 677.3L1057.2 677.3L1057.2 515.1L1073.7 515.9L1078.2 517.7L1081.2 518.1L1117.2 518.7L1123.2 517.6L1130.7 514.6Z"/>
<path fill="#933fa4" d="M1060.8 414.8L1064.7 413.8L1069.2 414.3L1073.3 416.3L1076.7 419.4L1079.9 423.8L1082.8 429.8L1085.0 437.3L1086.2 444.8L1086.4 453.8L1085.8 461.3L1084.1 468.8L1081.2 476.3L1078.6 480.8L1075.8 483.8L1072.2 485.8L1067.7 486.8L1064.7 486.8L1061.7 486.3L1057.2 484.5L1057.2 417.0ZM1057.2 516.8L1057.2 516.0L1073.7 516.7L1076.7 518.0L1081.2 518.8L1117.2 519.5L1121.7 518.9L1132.2 516.0L1135.2 515.9L1138.2 516.3L1144.2 517.7L1150.6 519.8L1156.2 522.1L1162.2 525.0L1166.7 527.8L1171.2 531.3L1174.7 534.8L1177.1 537.8L1178.8 540.8L1180.1 543.8L1180.9 546.8L1181.5 551.3L1180.1 630.8L1179.3 642.8L1177.8 654.8L1175.7 665.8L1172.7 677.3L1057.2 677.3Z"/>
<path fill="#9640a3" d="M1060.5 416.3L1064.7 415.0L1067.7 415.2L1070.7 416.2L1072.2 417.1L1075.2 419.7L1078.3 423.8L1081.3 429.8L1083.1 435.8L1084.5 443.3L1084.8 450.8L1084.4 458.3L1083.1 465.8L1081.1 471.8L1078.2 477.8L1075.2 481.6L1072.2 483.8L1067.7 485.1L1064.7 485.2L1061.7 484.6L1057.2 482.3L1057.2 418.7ZM1057.2 518.3L1057.2 517.0L1060.2 517.1L1073.7 517.7L1078.2 519.2L1081.2 519.6L1117.2 520.2L1121.7 519.8L1130.7 518.0L1136.7 518.3L1147.7 521.3L1158.1 525.8L1163.1 528.8L1167.1 531.8L1170.3 534.8L1172.8 537.8L1174.7 540.8L1176.0 543.8L1176.9 546.8L1177.5 551.3L1176.1 630.8L1175.3 642.8L1173.7 654.8L1171.2 666.8L1168.2 677.3L1057.2 677.3Z"/>
<path fill="#9a41a1" d="M1064.3 416.3L1066.2 416.1L1069.2 416.6L1072.2 418.3L1074.8 420.8L1077.9 425.3L1080.6 431.3L1082.2 437.3L1083.2 447.8L1083.1 453.8L1082.6 459.8L1081.3 465.8L1079.1 471.8L1076.7 476.4L1073.7 480.2L1070.6 482.3L1066.2 483.4L1061.7 482.6L1058.7 480.9L1057.2 479.6L1057.2 420.2L1061.7 416.8ZM1057.2 518.3L1057.2 518.1L1058.7 518.1L1072.2 518.6L1078.2 520.0L1082.7 520.4L1117.2 521.0L1129.2 519.9L1135.2 520.2L1145.7 523.1L1151.7 525.6L1156.2 527.8L1160.3 530.3L1164.2 533.3L1167.2 536.3L1169.6 539.3L1171.3 542.3L1172.5 545.3L1173.2 548.3L1173.6 552.8L1172.2 633.8L1170.6 650.3L1169.0 659.3L1167.2 666.8L1164.0 677.3L1057.2 677.3Z"/>
<path fill="#9d42a0" d="M1061.4 417.8L1063.2 417.0L1064.7 416.8L1067.7 416.9L1070.7 418.2L1073.8 420.8L1077.1 425.3L1079.1 429.8L1080.5 434.3L1082.1 443.3L1082.2 450.8L1081.9 456.8L1080.5 464.3L1079.0 468.8L1075.7 474.8L1072.2 478.9L1069.2 480.7L1066.2 481.3L1061.7 480.5L1058.7 478.3L1057.2 476.7L1057.2 421.3L1059.2 419.3ZM1057.2 519.8L1057.2 519.3L1072.2 519.8L1081.2 521.2L1117.2 521.8L1127.7 521.6L1133.7 522.0L1144.2 524.9L1148.7 526.7L1154.7 529.7L1157.7 531.5L1162.0 534.8L1164.9 537.8L1167.1 540.8L1168.7 543.8L1169.8 546.8L1170.6 552.8L1169.5 633.8L1168.5 645.8L1166.9 656.3L1164.4 666.8L1161.0 677.3L1057.2 677.3Z"/>
<path fill="#a1439e" d="M1062.7 417.8L1066.2 417.2L1069.2 418.0L1072.2 420.0L1075.5 423.8L1077.8 428.3L1079.4 432.8L1080.8 438.8L1081.5 444.8L1081.5 452.3L1080.9 458.3L1080.0 462.8L1078.0 468.8L1075.6 473.3L1072.2 477.4L1069.2 479.4L1066.2 480.1L1063.2 479.8L1061.7 479.1L1060.2 478.3L1057.2 475.3L1057.2 422.1L1060.2 419.1ZM1057.2 521.3L1057.2 520.6L1067.7 520.7L1072.2 520.9L1081.2 522.0L1126.2 522.7L1132.2 523.3L1142.7 526.1L1152.3 530.3L1159.0 534.8L1162.1 537.8L1164.4 540.8L1166.1 543.8L1167.2 546.8L1168.1 552.8L1167.0 633.8L1166.0 645.8L1164.2 656.3L1161.7 666.8L1158.1 677.3L1057.2 677.3Z"/>
<path fill="#a4439d" d="M1064.5 417.8L1067.7 418.0L1070.7 419.4L1073.7 422.3L1075.7 425.3L1077.8 429.8L1079.3 434.3L1080.4 440.3L1080.9 446.3L1080.9 452.3L1080.2 458.3L1078.9 464.3L1077.2 468.8L1074.8 473.3L1072.2 476.4L1069.2 478.5L1066.2 479.2L1063.2 478.8L1061.7 478.2L1059.1 476.3L1057.2 474.1L1057.2 422.9L1059.0 420.8L1060.9 419.3ZM1057.2 522.8L1057.2 521.8L1069.2 521.9L1081.2 522.9L1123.2 523.8L1130.7 524.5L1141.2 527.2L1150.2 531.1L1153.9 533.3L1157.7 536.3L1160.6 539.3L1162.2 541.5L1164.6 546.8L1165.5 552.8L1164.5 633.8L1163.4 645.8L1161.6 656.3L1158.9 666.8L1155.1 677.3L1057.2 677.3Z"/>
<path fill="#a8449b" d="M1061.8 419.3L1064.7 418.2L1067.7 418.5L1070.7 420.0L1073.7 423.1L1075.9 426.8L1077.8 431.3L1079.3 437.3L1080.1 443.3L1080.3 449.3L1079.8 456.8L1078.6 462.8L1077.1 467.3L1074.9 471.8L1072.2 475.3L1069.2 477.6L1066.2 478.4L1063.2 478.0L1061.7 477.3L1058.7 474.8L1057.2 472.9L1057.2 423.8L1059.7 420.8ZM1057.2 524.3L1057.2 523.0L1069.2 523.1L1081.2 523.9L1114.2 524.5L1124.7 525.1L1130.3 525.8L1139.7 528.3L1148.7 532.2L1154.8 536.3L1157.8 539.3L1160.0 542.3L1162.1 546.8L1163.0 552.8L1161.9 635.3L1160.6 647.3L1158.6 657.8L1155.6 668.3L1152.0 677.3L1057.2 677.3Z"/>
<path fill="#ac4599" d="M1062.9 419.3L1066.2 418.7L1069.2 419.6L1070.9 420.8L1073.6 423.8L1076.0 428.3L1077.7 432.8L1079.0 438.8L1079.6 444.8L1079.7 450.8L1079.1 456.8L1077.9 462.8L1076.4 467.3L1074.1 471.8L1072.2 474.2L1069.2 476.7L1066.2 477.6L1063.2 477.1L1061.7 476.4L1059.7 474.8L1057.2 471.6L1057.2 424.8L1060.2 421.0ZM1057.2 525.8L1057.2 524.3L1067.7 524.3L1081.2 525.0L1114.2 525.6L1127.7 526.7L1136.7 528.9L1145.7 532.5L1149.6 534.8L1153.2 537.6L1157.4 542.3L1159.5 546.8L1160.2 549.8L1160.5 552.8L1159.4 635.3L1158.1 647.3L1155.9 657.8L1152.7 668.3L1148.9 677.3L1057.2 677.3Z"/>
<path fill="#b14797" d="M1061.6 420.8L1063.2 419.8L1064.7 419.4L1067.7 419.6L1070.7 421.4L1072.8 423.8L1074.6 426.8L1076.4 431.3L1077.7 435.8L1078.7 443.3L1078.9 449.3L1078.6 453.8L1077.7 459.8L1076.0 465.8L1074.7 468.8L1071.7 473.3L1069.2 475.4L1067.7 476.1L1066.2 476.4L1063.2 475.9L1061.7 475.1L1059.7 473.3L1057.2 469.7L1057.2 426.1L1059.8 422.3ZM1057.2 527.3L1057.2 526.2L1072.2 526.3L1114.2 527.3L1126.2 528.4L1135.2 530.6L1139.7 532.3L1144.2 534.4L1150.2 538.7L1152.3 540.8L1154.5 543.8L1156.3 548.3L1156.9 552.8L1156.1 629.3L1155.7 638.3L1154.0 650.3L1152.3 657.8L1149.3 666.8L1144.4 677.3L1057.2 677.3Z"/>
<path fill="#b64895" d="M1062.5 420.8L1064.7 419.9L1067.7 420.2L1070.7 422.2L1072.2 424.0L1074.0 426.8L1075.8 431.3L1077.3 437.3L1078.0 443.3L1077.8 453.8L1077.3 458.3L1075.8 464.3L1073.8 468.8L1071.9 471.8L1069.2 474.3L1066.2 475.5L1064.7 475.4L1061.7 474.0L1059.5 471.8L1057.2 468.0L1057.2 427.4L1059.3 423.8ZM1057.2 528.8L1057.2 528.1L1072.2 528.1L1112.7 528.7L1124.7 529.8L1130.7 531.1L1135.2 532.4L1142.7 535.8L1145.8 537.8L1148.7 540.2L1150.6 542.3L1152.5 545.3L1153.7 548.3L1154.4 552.8L1153.8 629.3L1153.4 636.8L1151.8 648.8L1149.2 659.3L1145.7 668.7L1141.2 677.3L1057.2 677.3Z"/>
<path fill="#bc4993" d="M1063.6 420.8L1066.2 420.3L1067.7 420.7L1070.1 422.3L1072.5 425.3L1074.7 429.8L1076.0 434.3L1076.9 438.8L1077.5 444.8L1077.4 450.8L1076.8 456.8L1075.9 461.3L1074.5 465.8L1073.1 468.8L1070.7 472.1L1069.2 473.4L1066.2 474.6L1063.2 474.0L1061.7 473.0L1059.3 470.3L1057.2 466.4L1057.2 428.7L1059.9 423.8L1061.7 422.0ZM1057.2 530.3L1057.2 529.5L1072.2 529.5L1112.7 530.0L1123.2 530.9L1132.2 532.9L1140.4 536.3L1144.2 538.8L1146.6 540.8L1150.1 545.3L1151.3 548.3L1152.0 552.8L1151.5 627.8L1151.1 636.8L1149.4 648.8L1146.6 659.3L1142.7 668.9L1137.8 677.3L1057.2 677.3Z"/>
<path fill="#c14b91" d="M1062.0 422.3L1064.7 420.9L1066.2 420.8L1067.7 421.2L1069.2 422.2L1070.8 423.8L1072.8 426.8L1074.6 431.3L1075.8 435.8L1076.6 441.8L1076.9 447.8L1076.6 453.8L1075.6 459.8L1074.3 464.3L1072.3 468.8L1070.7 471.1L1069.2 472.5L1067.7 473.4L1066.2 473.8L1064.7 473.7L1063.2 473.2L1061.4 471.8L1059.1 468.8L1057.2 464.7L1057.2 430.2L1059.5 425.3ZM1057.2 531.8L1057.2 530.8L1069.2 530.8L1112.7 531.2L1121.7 531.9L1130.7 533.9L1138.2 536.9L1143.9 540.8L1147.6 545.3L1148.9 548.3L1149.7 552.8L1149.2 629.3L1148.7 638.3L1147.0 648.8L1144.0 659.3L1139.7 668.9L1136.7 673.9L1134.1 677.3L1057.2 677.3Z"/>
<path fill="#c54d8d" d="M1062.8 422.3L1064.7 421.4L1066.2 421.3L1067.7 421.8L1069.2 422.8L1071.3 425.3L1072.9 428.3L1074.5 432.8L1075.5 437.3L1076.1 443.3L1075.9 453.8L1075.0 459.8L1073.7 464.2L1072.4 467.3L1070.5 470.3L1069.0 471.8L1066.2 473.0L1064.7 472.9L1063.2 472.3L1060.9 470.3L1059.0 467.3L1057.2 462.7L1057.2 431.9L1058.5 428.3L1060.1 425.3ZM1057.2 533.3L1057.2 532.0L1112.7 532.3L1120.2 532.9L1126.2 534.0L1130.7 535.2L1135.2 537.0L1138.2 538.6L1142.9 542.3L1146.2 546.8L1147.5 551.3L1147.6 554.3L1147.2 629.3L1146.6 638.3L1144.5 650.3L1141.0 660.8L1136.4 669.8L1133.7 673.8L1130.7 677.3L1057.2 677.3Z"/>
<path fill="#c95088" d="M1063.8 422.3L1066.2 421.8L1067.7 422.3L1069.6 423.8L1071.7 426.8L1073.5 431.3L1074.3 434.3L1075.5 443.3L1075.3 453.8L1073.5 462.8L1072.4 465.8L1070.7 468.9L1069.2 470.7L1067.7 471.8L1066.2 472.3L1064.7 472.2L1063.2 471.5L1060.6 468.8L1059.0 465.8L1057.2 460.2L1057.2 434.0L1058.4 429.8L1059.8 426.8L1061.8 423.8ZM1057.2 533.3L1112.7 533.4L1121.7 534.2L1130.2 536.3L1136.7 539.2L1140.8 542.3L1142.7 544.4L1144.2 546.8L1145.3 549.8L1145.8 554.3L1145.4 629.3L1144.6 639.8L1143.6 645.8L1142.1 651.8L1140.1 657.8L1138.2 662.2L1135.7 666.8L1132.7 671.3L1130.2 674.3L1127.0 677.3L1057.2 677.3Z"/>
<path fill="#cd5284" d="M1066.1 422.3L1067.7 422.7L1070.3 425.3L1071.9 428.3L1073.0 431.3L1074.6 438.8L1075.1 446.3L1074.6 455.3L1072.9 462.8L1071.8 465.8L1070.0 468.8L1067.7 471.0L1066.2 471.5L1064.7 471.4L1063.2 470.6L1060.4 467.3L1058.0 461.3L1057.2 457.1L1057.2 436.9L1058.0 432.8L1059.5 428.3L1061.1 425.3L1063.2 423.1L1064.7 422.4ZM1057.2 534.8L1057.2 534.1L1073.7 534.1L1112.7 534.4L1120.2 535.0L1127.7 536.6L1131.0 537.8L1135.2 539.8L1138.2 541.9L1140.2 543.8L1141.4 545.3L1143.0 548.3L1143.8 551.3L1144.0 554.3L1143.6 627.8L1143.3 635.3L1142.6 641.3L1141.4 647.3L1139.6 653.3L1137.9 657.8L1135.2 663.5L1132.2 668.2L1129.2 671.8L1126.2 674.7L1122.4 677.3L1057.2 677.3Z"/>
<path fill="#d15580" d="M1062.9 423.8L1064.7 422.7L1066.2 422.6L1067.7 423.1L1069.9 425.3L1071.5 428.3L1073.0 432.8L1074.5 441.8L1074.4 452.3L1072.9 461.3L1070.4 467.3L1067.7 470.2L1066.2 470.9L1064.7 470.8L1063.2 469.9L1061.0 467.3L1059.5 464.3L1058.1 459.8L1057.2 453.1L1057.2 440.4L1058.0 434.3L1059.3 429.8L1060.7 426.8ZM1057.2 536.3L1057.2 535.1L1112.7 535.4L1120.2 536.0L1127.7 537.8L1133.7 540.4L1138.1 543.8L1139.7 545.7L1141.2 548.3L1142.0 551.3L1142.2 554.3L1141.8 627.8L1141.5 635.3L1140.7 641.3L1138.1 651.8L1135.7 657.8L1133.4 662.3L1130.7 666.4L1127.7 669.9L1124.4 672.8L1120.2 675.4L1117.2 676.5L1112.7 677.2L1057.2 677.2Z"/>
<path fill="#d4577b" d="M1063.5 423.8L1064.7 423.0L1066.2 422.9L1067.7 423.6L1069.4 425.3L1070.3 426.8L1072.6 432.8L1074.1 443.3L1073.9 452.3L1072.4 461.3L1071.4 464.3L1069.9 467.3L1067.7 469.7L1066.2 470.3L1064.7 470.2L1063.2 469.3L1061.5 467.3L1060.0 464.3L1058.3 458.3L1057.4 450.8L1057.4 441.8L1058.5 434.3L1059.7 429.8L1061.0 426.8ZM1057.2 536.3L1111.2 536.3L1118.7 536.8L1124.7 538.0L1128.6 539.3L1131.8 540.8L1136.0 543.8L1138.2 546.4L1139.3 548.3L1140.2 551.3L1140.4 554.3L1140.0 629.3L1139.3 638.3L1138.2 644.3L1136.5 650.3L1134.8 654.8L1132.2 660.0L1129.2 664.5L1126.2 667.9L1123.2 670.4L1120.2 672.2L1115.7 673.8L1112.7 674.2L1057.2 674.2Z"/>
<path fill="#d85a77" d="M1064.0 423.8L1064.7 423.4L1066.2 423.2L1067.4 423.8L1069.0 425.3L1070.0 426.8L1071.3 429.8L1072.6 434.3L1073.7 443.3L1073.5 452.3L1072.0 461.3L1071.0 464.3L1069.4 467.3L1067.7 469.2L1066.2 469.8L1064.7 469.7L1063.2 468.7L1061.7 466.8L1060.4 464.3L1058.4 456.8L1057.7 449.3L1057.9 440.3L1059.2 432.8L1061.4 426.8L1062.4 425.3ZM1057.2 537.8L1057.2 537.2L1072.2 537.2L1112.7 537.4L1118.7 537.9L1124.9 539.3L1130.7 541.8L1135.2 545.3L1137.2 548.3L1138.2 551.3L1138.4 554.3L1138.0 629.3L1137.2 638.3L1136.0 644.3L1134.7 648.8L1133.0 653.3L1130.7 657.8L1127.7 662.2L1124.9 665.3L1121.7 667.8L1118.7 669.5L1115.7 670.5L1112.7 670.9L1057.2 670.9Z"/>
<path fill="#dc5d72" d="M1064.5 423.8L1066.2 423.6L1067.7 424.3L1069.2 426.1L1070.4 428.3L1072.2 434.3L1073.3 443.3L1073.1 452.3L1071.6 461.3L1070.6 464.3L1069.2 466.9L1067.7 468.6L1066.2 469.4L1064.7 469.2L1063.2 468.2L1060.8 464.3L1059.1 458.3L1058.1 449.3L1058.3 440.3L1059.5 432.8L1061.7 426.8L1063.2 424.8ZM1057.2 539.3L1057.2 538.3L1111.2 538.5L1117.2 538.9L1123.2 540.1L1128.7 542.3L1132.9 545.3L1135.1 548.3L1136.2 551.3L1136.4 554.3L1136.0 627.8L1135.4 636.8L1134.2 642.8L1132.9 647.3L1131.2 651.8L1129.2 655.6L1124.7 661.6L1121.7 664.2L1118.7 666.0L1115.7 667.1L1112.7 667.5L1057.2 667.6Z"/>
<path fill="#e05f6e" d="M1063.1 425.3L1064.7 424.0L1066.2 423.9L1067.7 424.7L1069.3 426.8L1071.5 432.8L1072.8 441.8L1072.9 450.8L1071.6 459.8L1070.7 462.8L1069.2 466.2L1067.7 468.1L1066.2 468.9L1064.7 468.7L1063.2 467.6L1061.2 464.3L1059.5 458.3L1058.5 450.8L1058.5 443.3L1059.3 435.8L1060.7 429.8ZM1057.2 540.8L1057.2 539.5L1115.7 539.9L1121.7 540.9L1126.2 542.6L1130.4 545.3L1133.0 548.3L1134.1 551.3L1134.4 554.3L1134.0 627.8L1133.5 635.3L1131.6 644.3L1128.6 651.8L1124.5 657.8L1121.7 660.6L1118.7 662.5L1115.7 663.7L1112.7 664.2L1057.2 664.2Z"/>
<path fill="#e4626a" d="M1063.5 425.3L1064.7 424.3L1066.2 424.1L1067.7 425.1L1069.0 426.8L1070.3 429.8L1071.2 432.8L1072.5 441.8L1072.5 450.8L1071.2 459.8L1070.4 462.8L1069.0 465.8L1067.7 467.5L1066.2 468.4L1064.7 468.3L1063.5 467.3L1061.6 464.3L1059.9 458.3L1058.9 450.8L1058.8 443.3L1059.6 435.8L1061.1 429.8L1062.4 426.8ZM1057.2 540.8L1115.7 541.0L1121.7 542.2L1126.2 544.2L1129.6 546.8L1131.6 549.8L1132.1 551.3L1132.4 554.3L1132.0 627.8L1131.5 635.3L1129.9 642.8L1126.8 650.3L1124.7 653.5L1122.3 656.3L1120.2 658.1L1117.2 659.9L1112.7 660.9L1057.2 661.0Z"/>
<path fill="#e86465" d="M1063.9 425.3L1064.7 424.6L1066.2 424.4L1067.7 425.4L1068.7 426.8L1070.0 429.8L1070.9 432.8L1072.1 441.8L1072.0 452.3L1070.8 459.8L1070.0 462.8L1068.6 465.8L1067.7 467.0L1066.2 468.0L1064.7 467.8L1064.1 467.3L1062.0 464.3L1060.5 459.8L1059.3 450.8L1059.3 441.8L1060.2 434.3L1061.9 428.3ZM1057.2 542.3L1057.2 541.7L1115.7 542.1L1120.2 543.0L1124.7 544.8L1127.4 546.8L1129.7 549.8L1130.2 551.3L1130.6 554.3L1130.2 627.8L1129.9 633.8L1128.3 641.3L1126.7 645.8L1125.1 648.8L1121.7 653.4L1120.2 654.8L1117.2 656.8L1112.7 658.0L1057.2 658.0Z"/>
<path fill="#ea6861" d="M1064.3 425.3L1066.2 424.7L1067.7 425.8L1069.1 428.3L1070.6 432.8L1071.8 441.8L1071.7 452.3L1070.5 459.8L1069.0 464.3L1067.7 466.4L1066.2 467.5L1064.7 467.3L1063.2 465.8L1061.8 462.8L1060.6 458.3L1059.5 449.3L1059.6 441.8L1060.5 434.3L1062.2 428.3ZM1057.2 543.8L1057.2 542.8L1114.2 543.0L1118.7 543.8L1122.9 545.3L1125.2 546.8L1127.8 549.8L1128.4 551.3L1128.8 554.3L1128.2 632.3L1126.8 639.8L1124.4 645.8L1121.3 650.3L1117.2 653.7L1115.7 654.4L1112.7 655.0L1057.2 655.0Z"/>
<path fill="#ec6c5e" d="M1064.6 425.3L1066.2 425.0L1066.7 425.3L1068.1 426.8L1068.9 428.3L1069.9 431.3L1070.8 435.8L1071.5 443.3L1071.3 452.3L1070.2 459.8L1068.7 464.3L1067.7 465.9L1066.2 467.1L1064.7 466.9L1063.7 465.8L1062.1 462.8L1060.6 456.8L1059.9 449.3L1060.0 441.8L1060.8 434.3L1062.5 428.3ZM1057.2 545.3L1057.2 543.9L1114.2 544.1L1118.7 544.9L1121.7 546.2L1124.7 548.3L1125.9 549.8L1126.6 551.3L1127.0 554.3L1126.6 630.8L1125.7 636.8L1123.6 642.8L1120.8 647.3L1117.2 650.5L1115.7 651.3L1112.7 652.0L1057.2 652.1Z"/>
<path fill="#ed715a" d="M1066.1 425.3L1067.8 426.8L1069.6 431.3L1070.9 438.8L1071.2 446.3L1071.0 452.3L1069.9 459.8L1068.3 464.3L1066.2 466.7L1064.7 466.4L1064.1 465.8L1063.1 464.3L1062.0 461.3L1060.7 455.3L1060.2 446.3L1060.9 435.8L1062.2 429.8L1063.6 426.8L1064.7 425.6ZM1057.2 545.3L1057.2 545.0L1114.2 545.2L1117.2 545.7L1120.2 546.8L1122.5 548.3L1123.9 549.8L1124.7 551.3L1125.2 554.3L1124.8 630.8L1124.1 635.3L1122.7 639.8L1121.7 641.9L1118.7 646.1L1115.7 648.3L1112.7 649.1L1057.2 649.1Z"/>
<path fill="#ef7557" d="M1063.8 426.8L1064.7 425.8L1066.2 425.5L1067.6 426.8L1068.4 428.3L1070.0 434.3L1070.8 441.8L1070.8 450.8L1069.9 458.3L1068.0 464.3L1066.2 466.3L1064.7 466.0L1062.7 462.8L1061.3 456.8L1060.6 450.8L1060.5 443.3L1061.2 435.8L1062.5 429.8ZM1057.2 546.8L1057.2 545.9L1114.2 546.0L1117.2 546.7L1120.2 548.0L1122.3 549.8L1123.2 551.3L1123.8 554.3L1123.4 630.8L1122.2 636.8L1121.0 639.8L1118.7 643.4L1115.7 645.9L1112.7 646.8L1057.2 646.9Z"/>
<path fill="#f17953" d="M1064.1 426.8L1064.7 426.1L1066.2 425.8L1067.3 426.8L1068.1 428.3L1069.7 434.3L1070.5 441.8L1070.5 450.8L1069.6 458.3L1068.4 462.8L1067.7 464.3L1066.2 465.9L1064.7 465.6L1063.0 462.8L1061.8 458.3L1061.0 450.8L1060.8 443.3L1061.4 435.8L1062.7 429.8ZM1057.2 546.8L1112.7 546.7L1115.7 547.1L1118.7 548.2L1120.9 549.8L1122.0 551.3L1122.6 554.3L1122.4 629.3L1121.8 633.8L1120.3 638.3L1118.6 641.3L1115.7 644.0L1112.7 645.0L1057.2 645.0Z"/>
<path fill="#f27e4f" d="M1064.4 426.8L1066.2 426.0L1067.9 428.3L1069.4 434.3L1070.2 441.8L1070.2 449.3L1069.5 456.8L1068.1 462.8L1067.3 464.3L1066.2 465.5L1064.7 465.1L1062.8 461.3L1061.9 456.8L1061.2 449.3L1061.2 441.8L1061.9 434.3L1063.0 429.8ZM1057.2 548.3L1057.2 547.4L1112.7 547.4L1117.2 548.4L1119.6 549.8L1120.8 551.3L1121.4 552.8L1121.5 554.3L1121.3 629.3L1120.6 633.8L1119.6 636.8L1117.9 639.8L1115.7 642.0L1112.7 643.2L1057.2 643.2Z"/>
<path fill="#f4824c" d="M1064.6 426.8L1066.2 426.3L1067.7 428.3L1068.2 429.8L1069.2 434.3L1069.9 441.8L1069.9 450.8L1069.0 458.3L1067.8 462.8L1066.2 465.1L1064.7 464.7L1063.6 462.8L1063.1 461.3L1062.1 456.8L1061.5 449.3L1061.5 441.8L1062.2 434.3L1063.7 428.3ZM1057.2 548.3L1057.2 548.1L1112.7 548.1L1115.7 548.7L1117.2 549.3L1119.6 551.3L1120.3 552.8L1120.4 554.3L1120.2 629.3L1119.8 632.3L1118.9 635.3L1117.3 638.3L1115.7 640.0L1114.2 641.0L1112.7 641.4L1057.2 641.4Z"/>
<path fill="#f58648" d="M1065.2 426.8L1066.2 426.5L1066.5 426.8L1067.5 428.3L1068.4 431.3L1069.3 437.3L1069.7 443.3L1069.6 450.8L1068.8 458.3L1067.5 462.8L1066.2 464.8L1064.7 464.2L1063.3 461.3L1062.2 455.3L1061.7 447.8L1061.9 440.3L1062.4 434.3L1063.9 428.3L1064.7 427.0ZM1057.2 549.8L1057.2 548.8L1112.7 548.9L1115.7 549.5L1118.4 551.3L1119.2 552.8L1119.3 554.3L1119.1 629.3L1118.6 632.3L1117.6 635.3L1115.7 638.0L1114.2 639.1L1111.2 639.6L1057.2 639.6Z"/>
<path fill="#f78b45" d="M1066.0 426.8L1067.3 428.3L1068.5 432.8L1069.5 444.8L1069.3 450.8L1068.5 458.3L1067.3 462.8L1066.2 464.4L1064.7 463.8L1063.6 461.3L1062.4 455.3L1062.0 446.3L1062.2 438.8L1062.9 432.8L1064.1 428.3L1064.7 427.3ZM1057.2 549.8L1057.2 549.5L1112.7 549.6L1115.7 550.4L1117.2 551.5L1118.0 552.8L1118.2 554.3L1118.0 627.8L1117.8 630.8L1116.9 633.8L1115.7 635.7L1114.2 637.1L1112.7 637.7L1111.2 637.7L1057.2 637.7Z"/>
<path fill="#f98f41" d="M1064.3 428.3L1064.7 427.6L1066.2 427.0L1067.1 428.3L1068.3 432.8L1069.0 440.3L1069.1 449.3L1068.5 456.8L1067.6 461.3L1066.2 464.0L1064.7 463.4L1063.8 461.3L1062.9 456.8L1062.3 450.8L1062.5 437.3L1063.4 431.3ZM1057.2 551.3L1057.2 550.3L1112.7 550.4L1115.5 551.3L1116.8 552.8L1117.0 554.3L1116.8 627.8L1116.0 632.3L1114.2 635.0L1112.7 635.7L1111.2 635.7L1057.2 635.7Z"/>
<path fill="#f99440" d="M1064.5 428.3L1066.2 427.2L1067.0 428.3L1068.1 432.8L1068.8 440.3L1068.9 447.8L1068.5 455.3L1067.4 461.3L1066.2 463.7L1064.7 463.0L1064.0 461.3L1062.9 455.3L1062.6 450.8L1062.8 437.3L1063.6 431.3ZM1057.2 551.3L1112.7 551.3L1114.2 551.7L1115.5 552.8L1115.8 554.3L1115.6 627.8L1115.2 630.8L1114.2 632.6L1112.7 633.7L1111.2 633.7L1057.2 633.7Z"/>
<path fill="#f89941" d="M1064.7 428.3L1066.2 427.5L1067.3 429.8L1068.6 440.3L1068.7 447.8L1068.2 455.3L1067.2 461.3L1066.2 463.3L1064.7 462.5L1064.2 461.3L1063.4 456.8L1062.9 450.8L1063.0 437.3L1063.8 431.3ZM1057.2 552.8L1057.2 552.1L1066.2 552.0L1111.2 552.1L1112.7 552.2L1114.1 552.8L1114.6 554.3L1114.4 627.8L1114.2 629.6L1112.7 631.6L1057.2 631.7Z"/>
<path fill="#f89e41" d="M1065.1 428.3L1066.2 427.7L1067.2 429.8L1068.0 435.8L1068.4 441.8L1068.4 449.3L1068.0 455.3L1067.0 461.3L1066.2 463.0L1064.7 462.0L1064.0 459.8L1063.0 449.3L1063.0 441.8L1063.5 434.3L1064.3 429.8ZM1057.2 554.3L1057.2 552.9L1111.2 552.9L1112.7 553.3L1113.4 554.3L1113.2 627.8L1112.7 629.5L1111.2 629.7L1057.2 629.7Z"/>
<path fill="#f8a341" d="M1065.5 428.3L1066.2 427.9L1067.0 429.8L1067.9 437.3L1068.2 443.3L1067.8 455.3L1067.2 459.8L1066.2 462.6L1064.7 461.5L1064.2 459.8L1063.6 455.3L1063.2 447.8L1063.3 440.3L1063.9 432.8L1064.4 429.8ZM1057.2 554.3L1057.2 553.3L1063.2 553.3L1111.2 553.3L1112.5 554.3L1112.5 627.8L1111.2 629.1L1057.2 629.2Z"/>
<path fill="#f8a842" d="M1066.0 428.3L1066.3 428.3L1067.1 431.3L1068.0 444.8L1067.3 458.3L1066.2 462.3L1064.7 460.9L1064.1 458.3L1063.4 446.3L1064.1 432.8L1064.7 429.6ZM1057.2 554.3L1057.2 553.7L1063.2 553.7L1111.2 553.7L1112.0 554.3L1112.2 627.8L1111.2 628.7L1057.2 629.0Z"/>
<path fill="#f7ad42" d="M1064.9 429.8L1066.2 428.5L1067.0 431.3L1067.7 441.7L1067.4 453.8L1066.9 459.8L1066.2 461.9L1065.4 461.3L1064.6 459.8L1063.8 452.3L1063.9 437.3L1064.2 432.8ZM1057.2 554.3L1057.2 554.1L1063.2 554.1L1111.5 554.3L1111.9 627.8L1111.2 628.4L1057.2 628.9Z"/>
<path fill="#f7b243" d="M1065.3 429.8L1066.2 428.8L1066.8 431.3L1067.4 441.8L1067.2 453.8L1066.7 459.8L1066.2 461.5L1064.7 459.4L1064.0 450.8L1064.1 435.8L1064.6 431.3ZM1057.2 558.8L1063.2 558.7L1073.7 559.8L1082.7 561.2L1090.2 562.9L1096.2 565.1L1100.7 567.5L1104.9 570.8L1107.6 573.8L1111.2 580.1L1111.5 627.8L1111.2 628.1L1057.2 628.8Z"/>
<path fill="#f7b743" d="M1065.6 429.8L1066.2 429.2L1066.6 431.3L1067.1 441.8L1066.7 458.3L1066.2 461.1L1064.7 458.3L1064.1 449.3L1064.4 434.3L1064.7 432.0ZM1057.2 569.3L1057.2 569.0L1063.2 568.9L1070.7 571.1L1077.7 573.8L1082.7 576.3L1087.2 579.2L1091.7 582.8L1094.6 585.8L1097.7 589.8L1100.0 593.3L1104.3 602.3L1108.1 614.3L1110.9 627.8L1057.2 628.6Z"/>
<path fill="#f6bd43" d="M1066.0 429.8L1066.2 429.6L1066.5 431.3L1066.8 443.3L1066.5 458.3L1066.2 460.5L1064.7 456.7L1064.3 446.3L1064.7 433.5ZM1057.2 579.8L1057.2 579.1L1063.2 579.1L1067.7 581.2L1076.7 586.5L1081.2 590.0L1084.7 593.3L1090.2 599.9L1095.3 608.3L1099.3 617.3L1102.8 627.8L1057.2 628.5Z"/>
<path fill="#f6c244" d="M1065.8 431.3L1066.2 430.3L1066.5 444.8L1066.2 459.9L1064.7 453.9L1064.5 447.8L1064.7 436.3ZM1057.2 590.3L1057.2 589.3L1063.2 589.3L1070.7 594.3L1076.7 599.6L1081.9 605.3L1087.2 612.8L1091.3 620.3L1094.6 627.8L1057.2 628.3Z"/>
<path fill="#f6c64c" d="M1057.2 600.8L1057.2 599.4L1063.2 599.4L1069.2 604.4L1073.7 609.0L1078.2 614.5L1082.7 621.2L1086.4 627.8L1057.2 628.2Z"/>
<path fill="#f7ca56" d="M1057.2 609.8L1057.2 609.5L1063.2 609.5L1070.7 617.4L1074.2 621.8L1078.2 627.8L1057.2 628.1Z"/>
<path fill="#f7ce60" d="M1057.2 620.3L1057.2 619.5L1063.2 619.5L1070.0 627.8L1057.2 627.9Z"/>
</g>
<rect x="1063.2" y="362.3" width="0.8" height="308.5" fill="#0a0a14" opacity="0.55"/>
<rect x="1063.2" y="425.7" width="3.0" height="33" fill="#000"/>
<path d="M1062.2 455L1065.8 456.6L1091.2 502.4L1082 501.6L1062.2 498.2Z" fill="#000"/>
<rect x="1080.6" y="500.6" width="37.8" height="9.2" rx="1" fill="#0a0a0a"/><rect x="1083.1" y="504.1" width="31.3" height="2.2" fill="#343434"/>
<ellipse cx="1064.4" cy="552.2" rx="4.2" ry="3.4" fill="#3a1f8e" filter="url(#sm)"/>
<path d="M1061.2 555.9H1110.2V626.0H1061.2" fill="none" stroke="#0a0a0a" stroke-width="4.4" stroke-linejoin="miter"/>
</g>
</svg>
</body></html>
